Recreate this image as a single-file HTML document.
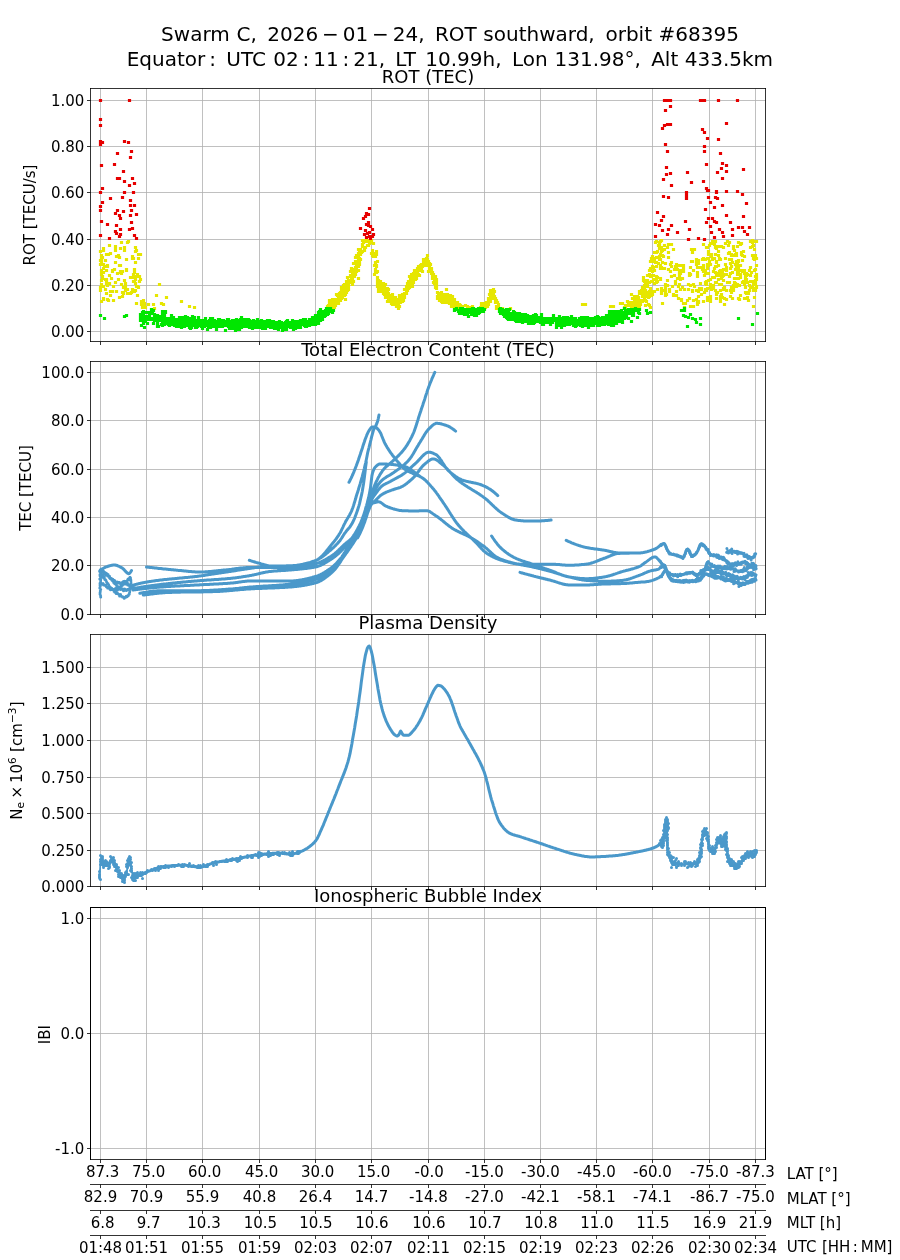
<!DOCTYPE html>
<html><head><meta charset="utf-8"><title>Swarm C ROT southward orbit 68395</title>
<style>html,body{margin:0;padding:0;background:#fff;width:900px;height:1260px;overflow:hidden}
svg{display:block}
</style></head><body>
<svg width="900" height="1260" viewBox="0 0 900 1260" version="1.1">
 
 <defs>
  <style type="text/css">*{stroke-linejoin: round; stroke-linecap: butt}</style>
 </defs>
 <g id="figure_1">
  <g id="patch_1">
   <path d="M 0 1260 
L 900 1260 
L 900 0 
L 0 0 
z
" style="fill: #ffffff"/>
  </g>
  <g id="axes_1">
   <g id="patch_2">
    <path d="M 90.5 341.5 
L 765.5 341.5 
L 765.5 88.5 
L 90.5 88.5 
z
" style="fill: #ffffff"/>
   </g>
   <g id="matplotlib.axis_1">
    <g id="xtick_1">
     <g id="line2d_1">
      <path d="M 100.5 341.5 
L 100.5 88.5 
" clip-path="url(#p79d56ae8b9)" style="fill: none; stroke: #b0b0b0; stroke-width: 0.8; stroke-linecap: square"/>
     </g>
     <g id="line2d_2">
      <defs>
       <path id="m1504cfccaf" d="M 0 0 
L 0 3.5 
" style="stroke: #000000; stroke-width: 0.8"/>
      </defs>
      <g>
       <use href="#m1504cfccaf" x="100.5" y="341.5" style="stroke: #000000; stroke-width: 0.8"/>
      </g>
     </g>
    </g>
    <g id="xtick_2">
     <g id="line2d_3">
      <path d="M 146.5 341.5 
L 146.5 88.5 
" clip-path="url(#p79d56ae8b9)" style="fill: none; stroke: #b0b0b0; stroke-width: 0.8; stroke-linecap: square"/>
     </g>
     <g id="line2d_4">
      <g>
       <use href="#m1504cfccaf" x="146.5" y="341.5" style="stroke: #000000; stroke-width: 0.8"/>
      </g>
     </g>
    </g>
    <g id="xtick_3">
     <g id="line2d_5">
      <path d="M 202.5 341.5 
L 202.5 88.5 
" clip-path="url(#p79d56ae8b9)" style="fill: none; stroke: #b0b0b0; stroke-width: 0.8; stroke-linecap: square"/>
     </g>
     <g id="line2d_6">
      <g>
       <use href="#m1504cfccaf" x="202.5" y="341.5" style="stroke: #000000; stroke-width: 0.8"/>
      </g>
     </g>
    </g>
    <g id="xtick_4">
     <g id="line2d_7">
      <path d="M 259.5 341.5 
L 259.5 88.5 
" clip-path="url(#p79d56ae8b9)" style="fill: none; stroke: #b0b0b0; stroke-width: 0.8; stroke-linecap: square"/>
     </g>
     <g id="line2d_8">
      <g>
       <use href="#m1504cfccaf" x="259.5" y="341.5" style="stroke: #000000; stroke-width: 0.8"/>
      </g>
     </g>
    </g>
    <g id="xtick_5">
     <g id="line2d_9">
      <path d="M 315.5 341.5 
L 315.5 88.5 
" clip-path="url(#p79d56ae8b9)" style="fill: none; stroke: #b0b0b0; stroke-width: 0.8; stroke-linecap: square"/>
     </g>
     <g id="line2d_10">
      <g>
       <use href="#m1504cfccaf" x="315.5" y="341.5" style="stroke: #000000; stroke-width: 0.8"/>
      </g>
     </g>
    </g>
    <g id="xtick_6">
     <g id="line2d_11">
      <path d="M 371.5 341.5 
L 371.5 88.5 
" clip-path="url(#p79d56ae8b9)" style="fill: none; stroke: #b0b0b0; stroke-width: 0.8; stroke-linecap: square"/>
     </g>
     <g id="line2d_12">
      <g>
       <use href="#m1504cfccaf" x="371.5" y="341.5" style="stroke: #000000; stroke-width: 0.8"/>
      </g>
     </g>
    </g>
    <g id="xtick_7">
     <g id="line2d_13">
      <path d="M 428.5 341.5 
L 428.5 88.5 
" clip-path="url(#p79d56ae8b9)" style="fill: none; stroke: #b0b0b0; stroke-width: 0.8; stroke-linecap: square"/>
     </g>
     <g id="line2d_14">
      <g>
       <use href="#m1504cfccaf" x="428.5" y="341.5" style="stroke: #000000; stroke-width: 0.8"/>
      </g>
     </g>
    </g>
    <g id="xtick_8">
     <g id="line2d_15">
      <path d="M 484.5 341.5 
L 484.5 88.5 
" clip-path="url(#p79d56ae8b9)" style="fill: none; stroke: #b0b0b0; stroke-width: 0.8; stroke-linecap: square"/>
     </g>
     <g id="line2d_16">
      <g>
       <use href="#m1504cfccaf" x="484.5" y="341.5" style="stroke: #000000; stroke-width: 0.8"/>
      </g>
     </g>
    </g>
    <g id="xtick_9">
     <g id="line2d_17">
      <path d="M 540.5 341.5 
L 540.5 88.5 
" clip-path="url(#p79d56ae8b9)" style="fill: none; stroke: #b0b0b0; stroke-width: 0.8; stroke-linecap: square"/>
     </g>
     <g id="line2d_18">
      <g>
       <use href="#m1504cfccaf" x="540.5" y="341.5" style="stroke: #000000; stroke-width: 0.8"/>
      </g>
     </g>
    </g>
    <g id="xtick_10">
     <g id="line2d_19">
      <path d="M 596.5 341.5 
L 596.5 88.5 
" clip-path="url(#p79d56ae8b9)" style="fill: none; stroke: #b0b0b0; stroke-width: 0.8; stroke-linecap: square"/>
     </g>
     <g id="line2d_20">
      <g>
       <use href="#m1504cfccaf" x="596.5" y="341.5" style="stroke: #000000; stroke-width: 0.8"/>
      </g>
     </g>
    </g>
    <g id="xtick_11">
     <g id="line2d_21">
      <path d="M 652.5 341.5 
L 652.5 88.5 
" clip-path="url(#p79d56ae8b9)" style="fill: none; stroke: #b0b0b0; stroke-width: 0.8; stroke-linecap: square"/>
     </g>
     <g id="line2d_22">
      <g>
       <use href="#m1504cfccaf" x="652.5" y="341.5" style="stroke: #000000; stroke-width: 0.8"/>
      </g>
     </g>
    </g>
    <g id="xtick_12">
     <g id="line2d_23">
      <path d="M 709.5 341.5 
L 709.5 88.5 
" clip-path="url(#p79d56ae8b9)" style="fill: none; stroke: #b0b0b0; stroke-width: 0.8; stroke-linecap: square"/>
     </g>
     <g id="line2d_24">
      <g>
       <use href="#m1504cfccaf" x="709.5" y="341.5" style="stroke: #000000; stroke-width: 0.8"/>
      </g>
     </g>
    </g>
    <g id="xtick_13">
     <g id="line2d_25">
      <path d="M 755.5 341.5 
L 755.5 88.5 
" clip-path="url(#p79d56ae8b9)" style="fill: none; stroke: #b0b0b0; stroke-width: 0.8; stroke-linecap: square"/>
     </g>
     <g id="line2d_26">
      <g>
       <use href="#m1504cfccaf" x="755.5" y="341.5" style="stroke: #000000; stroke-width: 0.8"/>
      </g>
     </g>
    </g>
   </g>
   <g id="matplotlib.axis_2">
    <g id="ytick_1">
     <g id="line2d_27">
      <path d="M 90.5 100.5 
L 765.5 100.5 
" clip-path="url(#p79d56ae8b9)" style="fill: none; stroke: #b0b0b0; stroke-width: 0.8; stroke-linecap: square"/>
     </g>
     <g id="line2d_28">
      <defs>
       <path id="m5d545ce8f8" d="M 0 0 
L -3.5 0 
" style="stroke: #000000; stroke-width: 0.8"/>
      </defs>
      <g>
       <use href="#m5d545ce8f8" x="90.5" y="100.5" style="stroke: #000000; stroke-width: 0.8"/>
      </g>
     </g>
     <g id="text_1">
      <text style="font-size: 15px; font-family: 'DejaVu Sans', 'Liberation Sans', sans-serif; text-anchor: end" x="84.3" y="106.198828" transform="rotate(-0 84.3 106.198828)">1.00</text>
     </g>
    </g>
    <g id="ytick_2">
     <g id="line2d_29">
      <path d="M 90.5 146.5 
L 765.5 146.5 
" clip-path="url(#p79d56ae8b9)" style="fill: none; stroke: #b0b0b0; stroke-width: 0.8; stroke-linecap: square"/>
     </g>
     <g id="line2d_30">
      <g>
       <use href="#m5d545ce8f8" x="90.5" y="146.5" style="stroke: #000000; stroke-width: 0.8"/>
      </g>
     </g>
     <g id="text_2">
      <text style="font-size: 15px; font-family: 'DejaVu Sans', 'Liberation Sans', sans-serif; text-anchor: end" x="84.3" y="152.198828" transform="rotate(-0 84.3 152.198828)">0.80</text>
     </g>
    </g>
    <g id="ytick_3">
     <g id="line2d_31">
      <path d="M 90.5 192.5 
L 765.5 192.5 
" clip-path="url(#p79d56ae8b9)" style="fill: none; stroke: #b0b0b0; stroke-width: 0.8; stroke-linecap: square"/>
     </g>
     <g id="line2d_32">
      <g>
       <use href="#m5d545ce8f8" x="90.5" y="192.5" style="stroke: #000000; stroke-width: 0.8"/>
      </g>
     </g>
     <g id="text_3">
      <text style="font-size: 15px; font-family: 'DejaVu Sans', 'Liberation Sans', sans-serif; text-anchor: end" x="84.3" y="198.198828" transform="rotate(-0 84.3 198.198828)">0.60</text>
     </g>
    </g>
    <g id="ytick_4">
     <g id="line2d_33">
      <path d="M 90.5 239.5 
L 765.5 239.5 
" clip-path="url(#p79d56ae8b9)" style="fill: none; stroke: #b0b0b0; stroke-width: 0.8; stroke-linecap: square"/>
     </g>
     <g id="line2d_34">
      <g>
       <use href="#m5d545ce8f8" x="90.5" y="239.5" style="stroke: #000000; stroke-width: 0.8"/>
      </g>
     </g>
     <g id="text_4">
      <text style="font-size: 15px; font-family: 'DejaVu Sans', 'Liberation Sans', sans-serif; text-anchor: end" x="84.3" y="245.198828" transform="rotate(-0 84.3 245.198828)">0.40</text>
     </g>
    </g>
    <g id="ytick_5">
     <g id="line2d_35">
      <path d="M 90.5 285.5 
L 765.5 285.5 
" clip-path="url(#p79d56ae8b9)" style="fill: none; stroke: #b0b0b0; stroke-width: 0.8; stroke-linecap: square"/>
     </g>
     <g id="line2d_36">
      <g>
       <use href="#m5d545ce8f8" x="90.5" y="285.5" style="stroke: #000000; stroke-width: 0.8"/>
      </g>
     </g>
     <g id="text_5">
      <text style="font-size: 15px; font-family: 'DejaVu Sans', 'Liberation Sans', sans-serif; text-anchor: end" x="84.3" y="291.198828" transform="rotate(-0 84.3 291.198828)">0.20</text>
     </g>
    </g>
    <g id="ytick_6">
     <g id="line2d_37">
      <path d="M 90.5 331.5 
L 765.5 331.5 
" clip-path="url(#p79d56ae8b9)" style="fill: none; stroke: #b0b0b0; stroke-width: 0.8; stroke-linecap: square"/>
     </g>
     <g id="line2d_38">
      <g>
       <use href="#m5d545ce8f8" x="90.5" y="331.5" style="stroke: #000000; stroke-width: 0.8"/>
      </g>
     </g>
     <g id="text_6">
      <text style="font-size: 15px; font-family: 'DejaVu Sans', 'Liberation Sans', sans-serif; text-anchor: end" x="84.3" y="337.198828" transform="rotate(-0 84.3 337.198828)">0.00</text>
     </g>
    </g>
    <g id="text_7">
     <text style="font-size: 15px; font-family: 'DejaVu Sans', 'Liberation Sans', sans-serif; text-anchor: middle" x="34.782031" y="215" transform="rotate(-90 34.782031 215)">ROT [TECU/s]</text>
    </g>
   </g>
   <g id="rotdata">
<path d="M125.5 290.5h0M136.5 286.5h0M131.5 292.5h0M109.5 283.5h0M112.5 271.5h0M135.5 251.5h0M100.5 290.5h0M133.5 258.5h0M132.5 289.5h0M119.5 265.5h0M112.5 270.5h0M111.5 278.5h0M110.5 253.5h0M118.5 279.5h0M120.5 248.5h0M122.5 292.5h0M140.5 279.5h0M132.5 256.5h0M125.5 283.5h0M140.5 279.5h0M108.5 283.5h0M106.5 293.5h0M125.5 286.5h0M101.5 280.5h0M101.5 274.5h0M121.5 242.5h0M119.5 297.5h0M137.5 274.5h0M125.5 289.5h0M121.5 273.5h0M120.5 271.5h0M110.5 291.5h0M100.5 251.5h0M107.5 265.5h0M128.5 241.5h0M108.5 300.5h0M115.5 246.5h0M100.5 260.5h0M134.5 281.5h0M106.5 283.5h0M110.5 295.5h0M136.5 250.5h0M120.5 272.5h0M134.5 269.5h0M126.5 259.5h0M130.5 293.5h0M103.5 268.5h0M122.5 292.5h0M120.5 265.5h0M135.5 262.5h0M114.5 269.5h0M124.5 250.5h0M102.5 278.5h0M115.5 282.5h0M113.5 300.5h0M106.5 282.5h0M133.5 281.5h0M115.5 262.5h0M140.5 254.5h0M124.5 247.5h0M124.5 280.5h0M126.5 269.5h0M127.5 293.5h0M106.5 279.5h0M118.5 255.5h0M109.5 245.5h0M116.5 256.5h0M103.5 299.5h0M139.5 281.5h0M108.5 254.5h0M127.5 289.5h0M112.5 291.5h0M135.5 247.5h0M127.5 242.5h0M105.5 260.5h0M134.5 291.5h0M138.5 254.5h0M137.5 274.5h0M123.5 287.5h0M105.5 279.5h0M107.5 299.5h0M138.5 258.5h0M122.5 271.5h0M107.5 285.5h0M136.5 250.5h0M126.5 259.5h0M123.5 293.5h0M115.5 250.5h0M116.5 291.5h0M109.5 275.5h0M101.5 255.5h0M135.5 279.5h0M119.5 257.5h0M122.5 296.5h0M113.5 286.5h0M130.5 277.5h0M101.5 301.5h0M115.5 247.5h0M101.5 274.5h0M105.5 289.5h0M139.5 276.5h0M126.5 270.5h0M117.5 273.5h0M121.5 284.5h0M135.5 276.5h0M103.5 272.5h0M101.5 261.5h0M103.5 264.5h0M105.5 266.5h0M101.5 286.5h0M101.5 262.5h0M101.5 255.5h0M102.5 257.5h0M107.5 266.5h0M100.5 287.5h0M101.5 258.5h0M101.5 270.5h0M103.5 298.5h0M100.5 264.5h0M103.5 286.5h0M101.5 284.5h0M102.5 276.5h0M106.5 254.5h0M101.5 273.5h0M104.5 266.5h0M103.5 248.5h0M103.5 250.5h0M106.5 270.5h0M101.5 271.5h0M107.5 283.5h0M141.5 301.5h0M137.5 295.5h0M143.5 305.5h0M142.5 301.5h0M136.5 303.5h0M133.5 276.5h0M133.5 274.5h0M134.5 276.5h0M136.5 276.5h0M138.5 287.5h0M144.5 305.5h0M135.5 283.5h0M144.5 303.5h0M141.5 304.5h0M143.5 306.5h0M137.5 286.5h0M132.5 258.5h0M143.5 305.5h0M135.5 283.5h0M133.5 277.5h0M143.5 300.5h0M141.5 302.5h0M134.5 272.5h0M135.5 290.5h0M145.5 307.5h0M154.5 308.5h0M142.5 307.5h0M148.5 304.5h0M145.5 307.5h0M153.5 304.5h0M328.5 308.5h0M328.5 306.5h0M327.5 306.5h0M329.5 300.5h0M329.5 302.5h0M328.5 305.5h0M329.5 305.5h0M346.5 283.5h0M357.5 263.5h0M363.5 240.5h0M346.5 292.5h0M348.5 289.5h0M356.5 263.5h0M334.5 307.5h0M352.5 278.5h0M333.5 304.5h0M339.5 299.5h0M356.5 271.5h0M370.5 240.5h0M371.5 253.5h0M340.5 292.5h0M336.5 294.5h0M351.5 277.5h0M348.5 283.5h0M345.5 284.5h0M362.5 240.5h0M359.5 264.5h0M353.5 273.5h0M356.5 269.5h0M354.5 269.5h0M358.5 260.5h0M368.5 240.5h0M369.5 240.5h0M371.5 240.5h0M366.5 241.5h0M334.5 305.5h0M348.5 283.5h0M362.5 246.5h0M342.5 297.5h0M355.5 261.5h0M332.5 306.5h0M338.5 303.5h0M346.5 281.5h0M332.5 307.5h0M347.5 282.5h0M339.5 297.5h0M366.5 240.5h0M343.5 291.5h0M345.5 289.5h0M363.5 242.5h0M353.5 263.5h0M339.5 297.5h0M355.5 267.5h0M338.5 302.5h0M340.5 300.5h0M356.5 255.5h0M350.5 281.5h0M341.5 287.5h0M353.5 271.5h0M356.5 266.5h0M331.5 305.5h0M341.5 292.5h0M342.5 288.5h0M366.5 240.5h0M332.5 305.5h0M344.5 289.5h0M338.5 294.5h0M359.5 252.5h0M364.5 249.5h0M332.5 307.5h0M366.5 240.5h0M359.5 262.5h0M339.5 299.5h0M368.5 240.5h0M342.5 294.5h0M363.5 241.5h0M333.5 302.5h0M349.5 282.5h0M351.5 268.5h0M367.5 240.5h0M365.5 240.5h0M352.5 270.5h0M332.5 304.5h0M348.5 286.5h0M345.5 299.5h0M371.5 240.5h0M358.5 259.5h0M347.5 277.5h0M345.5 294.5h0M362.5 240.5h0M334.5 304.5h0M364.5 240.5h0M358.5 278.5h0M348.5 283.5h0M359.5 258.5h0M346.5 283.5h0M336.5 301.5h0M347.5 289.5h0M332.5 303.5h0M333.5 302.5h0M348.5 280.5h0M364.5 240.5h0M338.5 295.5h0M351.5 278.5h0M371.5 242.5h0M364.5 250.5h0M367.5 240.5h0M358.5 256.5h0M354.5 271.5h0M354.5 275.5h0M355.5 270.5h0M349.5 281.5h0M345.5 290.5h0M340.5 299.5h0M332.5 299.5h0M345.5 287.5h0M362.5 251.5h0M353.5 281.5h0M336.5 303.5h0M364.5 240.5h0M331.5 304.5h0M369.5 240.5h0M357.5 264.5h0M353.5 276.5h0M347.5 290.5h0M364.5 240.5h0M330.5 307.5h0M330.5 300.5h0M351.5 281.5h0M342.5 293.5h0M346.5 282.5h0M352.5 277.5h0M371.5 240.5h0M358.5 260.5h0M334.5 303.5h0M361.5 252.5h0M352.5 271.5h0M358.5 253.5h0M360.5 249.5h0M371.5 240.5h0M334.5 303.5h0M371.5 240.5h0M350.5 276.5h0M338.5 298.5h0M345.5 286.5h0M345.5 290.5h0M367.5 245.5h0M352.5 282.5h0M332.5 303.5h0M360.5 252.5h0M350.5 271.5h0M364.5 240.5h0M331.5 304.5h0M366.5 240.5h0M367.5 240.5h0M350.5 281.5h0M335.5 302.5h0M352.5 281.5h0M333.5 303.5h0M367.5 240.5h0M337.5 301.5h0M358.5 249.5h0M357.5 266.5h0M343.5 292.5h0M339.5 298.5h0M368.5 240.5h0M331.5 305.5h0M340.5 295.5h0M343.5 285.5h0M354.5 269.5h0M345.5 286.5h0M334.5 304.5h0M353.5 281.5h0M360.5 254.5h0M359.5 262.5h0M350.5 275.5h0M342.5 292.5h0M330.5 303.5h0M352.5 272.5h0M356.5 263.5h0M348.5 282.5h0M370.5 240.5h0M338.5 296.5h0M364.5 240.5h0M360.5 259.5h0M367.5 240.5h0M368.5 240.5h0M339.5 297.5h0M368.5 240.5h0M346.5 288.5h0M358.5 270.5h0M370.5 240.5h0M355.5 271.5h0M354.5 270.5h0M332.5 300.5h0M355.5 257.5h0M340.5 299.5h0M346.5 282.5h0M345.5 285.5h0M370.5 240.5h0M356.5 264.5h0M360.5 253.5h0M337.5 295.5h0M342.5 290.5h0M366.5 240.5h0M335.5 299.5h0M370.5 240.5h0M347.5 282.5h0M346.5 285.5h0M351.5 269.5h0M348.5 280.5h0M349.5 281.5h0M347.5 288.5h0M359.5 259.5h0M341.5 298.5h0M336.5 300.5h0M348.5 282.5h0M348.5 282.5h0M350.5 276.5h0M362.5 244.5h0M334.5 306.5h0M346.5 281.5h0M362.5 251.5h0M344.5 295.5h0M365.5 247.5h0M360.5 254.5h0M331.5 303.5h0M346.5 282.5h0M362.5 246.5h0M352.5 282.5h0M358.5 266.5h0M371.5 240.5h0M358.5 262.5h0M352.5 284.5h0M365.5 240.5h0M348.5 281.5h0M341.5 293.5h0M354.5 276.5h0M369.5 243.5h0M355.5 274.5h0M341.5 290.5h0M371.5 240.5h0M346.5 288.5h0M339.5 293.5h0M353.5 276.5h0M344.5 284.5h0M334.5 302.5h0M359.5 258.5h0M359.5 253.5h0M370.5 240.5h0M335.5 305.5h0M368.5 245.5h0M363.5 241.5h0M340.5 296.5h0M376.5 254.5h0M377.5 261.5h0M375.5 256.5h0M375.5 272.5h0M373.5 253.5h0M373.5 255.5h0M376.5 251.5h0M376.5 265.5h0M373.5 243.5h0M372.5 250.5h0M374.5 274.5h0M375.5 269.5h0M374.5 265.5h0M377.5 271.5h0M376.5 266.5h0M377.5 280.5h0M375.5 264.5h0M376.5 251.5h0M377.5 283.5h0M372.5 255.5h0M375.5 262.5h0M373.5 256.5h0M376.5 272.5h0M373.5 243.5h0M436.5 283.5h0M436.5 286.5h0M407.5 285.5h0M399.5 296.5h0M420.5 270.5h0M435.5 276.5h0M414.5 277.5h0M378.5 280.5h0M379.5 287.5h0M404.5 297.5h0M424.5 261.5h0M430.5 264.5h0M399.5 295.5h0M408.5 281.5h0M407.5 285.5h0M382.5 290.5h0M377.5 282.5h0M408.5 286.5h0M407.5 290.5h0M428.5 264.5h0M387.5 301.5h0M428.5 261.5h0M393.5 300.5h0M409.5 276.5h0M419.5 267.5h0M385.5 293.5h0M433.5 276.5h0M434.5 283.5h0M435.5 283.5h0M377.5 286.5h0M415.5 271.5h0M417.5 271.5h0M429.5 269.5h0M389.5 296.5h0M384.5 288.5h0M425.5 260.5h0M392.5 298.5h0M380.5 291.5h0M382.5 291.5h0M415.5 275.5h0M409.5 281.5h0M421.5 268.5h0M425.5 264.5h0M377.5 277.5h0M432.5 278.5h0M429.5 263.5h0M432.5 275.5h0M423.5 261.5h0M400.5 296.5h0M391.5 297.5h0M431.5 270.5h0M402.5 300.5h0M406.5 292.5h0M418.5 268.5h0M418.5 266.5h0M418.5 266.5h0M414.5 270.5h0M407.5 286.5h0M423.5 263.5h0M400.5 297.5h0M392.5 299.5h0M431.5 271.5h0M427.5 264.5h0M420.5 265.5h0M387.5 296.5h0M379.5 285.5h0M432.5 278.5h0M433.5 274.5h0M393.5 303.5h0M414.5 274.5h0M378.5 288.5h0M400.5 301.5h0M419.5 266.5h0M398.5 304.5h0M425.5 261.5h0M431.5 273.5h0M385.5 297.5h0M418.5 270.5h0M399.5 300.5h0M387.5 296.5h0M397.5 301.5h0M405.5 293.5h0M430.5 271.5h0M422.5 264.5h0M377.5 283.5h0M380.5 281.5h0M436.5 288.5h0M410.5 280.5h0M413.5 275.5h0M398.5 308.5h0M426.5 265.5h0M410.5 280.5h0M412.5 280.5h0M391.5 298.5h0M423.5 260.5h0M389.5 297.5h0M385.5 294.5h0M412.5 286.5h0M426.5 260.5h0M394.5 303.5h0M395.5 300.5h0M385.5 291.5h0M413.5 282.5h0M423.5 259.5h0M384.5 288.5h0M409.5 282.5h0M409.5 287.5h0M383.5 291.5h0M408.5 286.5h0M393.5 301.5h0M388.5 298.5h0M436.5 282.5h0M382.5 289.5h0M397.5 301.5h0M414.5 278.5h0M401.5 295.5h0M378.5 283.5h0M428.5 271.5h0M391.5 300.5h0M401.5 298.5h0M431.5 268.5h0M435.5 282.5h0M431.5 273.5h0M401.5 300.5h0M421.5 264.5h0M427.5 263.5h0M388.5 297.5h0M435.5 283.5h0M383.5 288.5h0M416.5 275.5h0M391.5 303.5h0M389.5 295.5h0M385.5 293.5h0M433.5 276.5h0M384.5 290.5h0M431.5 268.5h0M386.5 290.5h0M396.5 303.5h0M389.5 297.5h0M436.5 287.5h0M382.5 285.5h0M428.5 262.5h0M395.5 297.5h0M434.5 279.5h0M422.5 271.5h0M392.5 295.5h0M407.5 287.5h0M386.5 292.5h0M401.5 298.5h0M378.5 283.5h0M417.5 270.5h0M412.5 283.5h0M393.5 297.5h0M377.5 284.5h0M433.5 278.5h0M384.5 286.5h0M396.5 299.5h0M378.5 285.5h0M399.5 306.5h0M401.5 299.5h0M409.5 283.5h0M396.5 302.5h0M391.5 302.5h0M424.5 265.5h0M393.5 304.5h0M396.5 301.5h0M406.5 287.5h0M393.5 297.5h0M420.5 269.5h0M382.5 288.5h0M396.5 300.5h0M402.5 299.5h0M392.5 299.5h0M427.5 255.5h0M398.5 302.5h0M402.5 295.5h0M405.5 293.5h0M426.5 260.5h0M390.5 301.5h0M426.5 261.5h0M433.5 275.5h0M392.5 294.5h0M387.5 290.5h0M424.5 260.5h0M395.5 301.5h0M390.5 299.5h0M381.5 289.5h0M413.5 276.5h0M433.5 278.5h0M429.5 263.5h0M412.5 282.5h0M403.5 300.5h0M435.5 285.5h0M416.5 278.5h0M434.5 283.5h0M418.5 268.5h0M418.5 270.5h0M419.5 269.5h0M384.5 287.5h0M392.5 295.5h0M380.5 290.5h0M432.5 272.5h0M436.5 283.5h0M413.5 278.5h0M386.5 291.5h0M384.5 294.5h0M403.5 297.5h0M400.5 300.5h0M388.5 293.5h0M382.5 290.5h0M415.5 275.5h0M424.5 259.5h0M380.5 284.5h0M395.5 299.5h0M395.5 297.5h0M409.5 284.5h0M413.5 279.5h0M401.5 297.5h0M428.5 264.5h0M400.5 302.5h0M395.5 297.5h0M423.5 265.5h0M427.5 264.5h0M429.5 264.5h0M387.5 288.5h0M388.5 295.5h0M404.5 289.5h0M435.5 282.5h0M414.5 278.5h0M414.5 278.5h0M396.5 302.5h0M436.5 279.5h0M387.5 297.5h0M410.5 277.5h0M417.5 275.5h0M425.5 262.5h0M425.5 259.5h0M400.5 299.5h0M393.5 299.5h0M435.5 287.5h0M410.5 281.5h0M393.5 303.5h0M385.5 284.5h0M425.5 262.5h0M427.5 261.5h0M411.5 284.5h0M400.5 302.5h0M416.5 277.5h0M435.5 280.5h0M411.5 281.5h0M424.5 261.5h0M429.5 268.5h0M422.5 266.5h0M406.5 286.5h0M387.5 296.5h0M418.5 275.5h0M426.5 259.5h0M434.5 283.5h0M386.5 293.5h0M383.5 288.5h0M415.5 278.5h0M426.5 258.5h0M381.5 291.5h0M413.5 273.5h0M392.5 296.5h0M436.5 286.5h0M398.5 303.5h0M381.5 291.5h0M423.5 262.5h0M395.5 298.5h0M402.5 301.5h0M384.5 288.5h0M396.5 306.5h0M384.5 293.5h0M392.5 304.5h0M411.5 274.5h0M394.5 301.5h0M417.5 272.5h0M431.5 271.5h0M411.5 277.5h0M378.5 291.5h0M434.5 280.5h0M388.5 289.5h0M397.5 303.5h0M408.5 285.5h0M414.5 275.5h0M397.5 304.5h0M403.5 295.5h0M414.5 274.5h0M404.5 293.5h0M394.5 299.5h0M401.5 299.5h0M400.5 300.5h0M394.5 300.5h0M413.5 274.5h0M407.5 285.5h0M401.5 299.5h0M419.5 275.5h0M425.5 259.5h0M415.5 272.5h0M397.5 305.5h0M433.5 282.5h0M383.5 293.5h0M425.5 259.5h0M402.5 300.5h0M400.5 301.5h0M427.5 260.5h0M416.5 271.5h0M435.5 282.5h0M429.5 266.5h0M383.5 292.5h0M407.5 283.5h0M423.5 261.5h0M381.5 289.5h0M409.5 287.5h0M436.5 286.5h0M391.5 296.5h0M384.5 292.5h0M394.5 298.5h0M397.5 301.5h0M394.5 300.5h0M402.5 294.5h0M427.5 259.5h0M408.5 288.5h0M412.5 280.5h0M383.5 283.5h0M380.5 291.5h0M434.5 280.5h0M397.5 299.5h0M433.5 278.5h0M397.5 304.5h0M415.5 279.5h0M416.5 272.5h0M382.5 286.5h0M381.5 285.5h0M403.5 295.5h0M384.5 288.5h0M394.5 304.5h0M388.5 295.5h0M395.5 303.5h0M404.5 293.5h0M395.5 299.5h0M397.5 299.5h0M406.5 293.5h0M417.5 268.5h0M379.5 288.5h0M436.5 287.5h0M402.5 296.5h0M432.5 278.5h0M377.5 281.5h0M380.5 287.5h0M382.5 290.5h0M431.5 270.5h0M401.5 299.5h0M427.5 261.5h0M418.5 274.5h0M382.5 289.5h0M398.5 304.5h0M396.5 303.5h0M404.5 294.5h0M445.5 296.5h0M482.5 306.5h0M455.5 307.5h0M447.5 298.5h0M487.5 306.5h0M444.5 294.5h0M455.5 303.5h0M455.5 305.5h0M496.5 306.5h0M448.5 299.5h0M485.5 307.5h0M439.5 295.5h0M486.5 302.5h0M440.5 300.5h0M493.5 292.5h0M453.5 303.5h0M446.5 302.5h0M441.5 299.5h0M453.5 303.5h0M444.5 294.5h0M480.5 307.5h0M480.5 307.5h0M453.5 301.5h0M494.5 296.5h0M437.5 297.5h0M457.5 302.5h0M448.5 299.5h0M490.5 297.5h0M467.5 306.5h0M440.5 294.5h0M454.5 299.5h0M454.5 303.5h0M439.5 297.5h0M456.5 305.5h0M490.5 291.5h0M480.5 308.5h0M493.5 289.5h0M488.5 303.5h0M457.5 308.5h0M472.5 306.5h0M453.5 304.5h0M449.5 301.5h0M449.5 300.5h0M443.5 300.5h0M452.5 306.5h0M451.5 298.5h0M452.5 303.5h0M439.5 298.5h0M449.5 302.5h0M450.5 295.5h0M448.5 297.5h0M491.5 293.5h0M441.5 297.5h0M438.5 297.5h0M490.5 298.5h0M480.5 308.5h0M489.5 300.5h0M449.5 300.5h0M486.5 302.5h0M438.5 296.5h0M459.5 308.5h0M445.5 302.5h0M451.5 301.5h0M455.5 303.5h0M461.5 306.5h0M496.5 302.5h0M437.5 292.5h0M496.5 301.5h0M439.5 293.5h0M441.5 297.5h0M449.5 303.5h0M455.5 307.5h0M491.5 292.5h0M489.5 294.5h0M495.5 302.5h0M437.5 296.5h0M493.5 294.5h0M443.5 294.5h0M489.5 294.5h0M437.5 297.5h0M483.5 303.5h0M494.5 296.5h0M492.5 298.5h0M439.5 294.5h0M452.5 296.5h0M441.5 296.5h0M462.5 306.5h0M437.5 297.5h0M493.5 297.5h0M440.5 295.5h0M496.5 300.5h0M450.5 300.5h0M498.5 304.5h0M460.5 305.5h0M492.5 293.5h0M445.5 299.5h0M450.5 301.5h0M440.5 299.5h0M490.5 294.5h0M492.5 291.5h0M454.5 304.5h0M455.5 307.5h0M451.5 299.5h0M459.5 304.5h0M447.5 297.5h0M451.5 306.5h0M454.5 302.5h0M444.5 297.5h0M493.5 290.5h0M452.5 298.5h0M487.5 303.5h0M462.5 307.5h0M445.5 296.5h0M493.5 290.5h0M481.5 303.5h0M438.5 296.5h0M480.5 308.5h0M451.5 305.5h0M447.5 299.5h0M489.5 299.5h0M447.5 294.5h0M448.5 300.5h0M446.5 297.5h0M491.5 295.5h0M481.5 304.5h0M458.5 307.5h0M489.5 301.5h0M445.5 299.5h0M491.5 291.5h0M492.5 296.5h0M450.5 297.5h0M494.5 297.5h0M451.5 302.5h0M442.5 300.5h0M487.5 305.5h0M490.5 301.5h0M461.5 306.5h0M488.5 301.5h0M444.5 296.5h0M454.5 301.5h0M444.5 298.5h0M483.5 308.5h0M452.5 302.5h0M483.5 308.5h0M441.5 295.5h0M457.5 304.5h0M491.5 293.5h0M490.5 290.5h0M491.5 296.5h0M451.5 301.5h0M472.5 308.5h0M442.5 298.5h0M453.5 301.5h0M460.5 306.5h0M442.5 299.5h0M441.5 300.5h0M486.5 306.5h0M437.5 298.5h0M493.5 293.5h0M486.5 305.5h0M437.5 297.5h0M444.5 296.5h0M457.5 307.5h0M448.5 302.5h0M440.5 300.5h0M494.5 297.5h0M494.5 291.5h0M485.5 304.5h0M452.5 303.5h0M490.5 293.5h0M488.5 303.5h0M457.5 304.5h0M445.5 299.5h0M445.5 296.5h0M489.5 299.5h0M441.5 296.5h0M459.5 308.5h0M493.5 289.5h0M446.5 289.5h0M457.5 306.5h0M488.5 298.5h0M488.5 304.5h0M490.5 298.5h0M455.5 304.5h0M454.5 306.5h0M444.5 294.5h0M453.5 299.5h0M444.5 299.5h0M486.5 306.5h0M439.5 300.5h0M449.5 303.5h0M486.5 304.5h0M485.5 305.5h0M498.5 305.5h0M439.5 298.5h0M487.5 302.5h0M455.5 307.5h0M485.5 306.5h0M438.5 293.5h0M439.5 294.5h0M470.5 307.5h0M445.5 299.5h0M441.5 296.5h0M459.5 305.5h0M452.5 300.5h0M448.5 300.5h0M465.5 305.5h0M453.5 303.5h0M495.5 300.5h0M496.5 300.5h0M439.5 295.5h0M451.5 301.5h0M438.5 298.5h0M442.5 300.5h0M439.5 300.5h0M444.5 299.5h0M441.5 296.5h0M492.5 290.5h0M487.5 304.5h0M453.5 305.5h0M480.5 307.5h0M496.5 308.5h0M444.5 302.5h0M456.5 303.5h0M455.5 305.5h0M442.5 300.5h0M449.5 298.5h0M495.5 301.5h0M495.5 298.5h0M451.5 303.5h0M460.5 307.5h0M442.5 302.5h0M492.5 295.5h0M497.5 302.5h0M454.5 305.5h0M445.5 296.5h0M456.5 306.5h0M457.5 308.5h0M448.5 298.5h0M453.5 302.5h0M455.5 302.5h0M491.5 292.5h0M488.5 301.5h0M440.5 297.5h0M448.5 302.5h0M497.5 306.5h0M440.5 294.5h0M441.5 301.5h0M455.5 304.5h0M449.5 300.5h0M448.5 296.5h0M490.5 296.5h0M441.5 292.5h0M451.5 299.5h0M439.5 297.5h0M510.5 308.5h0M502.5 308.5h0M649.5 296.5h0M637.5 306.5h0M642.5 291.5h0M636.5 297.5h0M649.5 305.5h0M654.5 252.5h0M646.5 301.5h0M647.5 283.5h0M630.5 305.5h0M649.5 274.5h0M637.5 301.5h0M628.5 302.5h0M650.5 307.5h0M643.5 277.5h0M647.5 286.5h0M646.5 285.5h0M652.5 260.5h0M645.5 284.5h0M637.5 296.5h0M640.5 304.5h0M650.5 268.5h0M645.5 294.5h0M624.5 307.5h0M650.5 269.5h0M635.5 297.5h0M625.5 305.5h0M652.5 275.5h0M650.5 288.5h0M637.5 300.5h0M638.5 304.5h0M644.5 281.5h0M631.5 294.5h0M635.5 298.5h0M642.5 301.5h0M648.5 304.5h0M638.5 300.5h0M634.5 301.5h0M649.5 294.5h0M651.5 295.5h0M654.5 291.5h0M642.5 294.5h0M653.5 259.5h0M633.5 306.5h0M639.5 291.5h0M636.5 305.5h0M620.5 303.5h0M654.5 260.5h0M644.5 293.5h0M641.5 290.5h0M633.5 306.5h0M644.5 295.5h0M630.5 305.5h0M652.5 271.5h0M635.5 296.5h0M638.5 305.5h0M633.5 303.5h0M644.5 298.5h0M639.5 306.5h0M647.5 295.5h0M652.5 294.5h0M652.5 256.5h0M645.5 290.5h0M633.5 304.5h0M650.5 261.5h0M628.5 304.5h0M635.5 302.5h0M650.5 276.5h0M652.5 293.5h0M653.5 275.5h0M634.5 296.5h0M652.5 291.5h0M650.5 290.5h0M625.5 307.5h0M638.5 303.5h0M639.5 302.5h0M638.5 297.5h0M637.5 302.5h0M649.5 294.5h0M647.5 275.5h0M645.5 291.5h0M652.5 266.5h0M642.5 290.5h0M654.5 283.5h0M635.5 302.5h0M652.5 261.5h0M649.5 282.5h0M627.5 301.5h0M635.5 303.5h0M634.5 306.5h0M643.5 280.5h0M646.5 296.5h0M638.5 303.5h0M646.5 280.5h0M647.5 285.5h0M642.5 296.5h0M641.5 293.5h0M631.5 306.5h0M648.5 297.5h0M651.5 258.5h0M649.5 270.5h0M644.5 285.5h0M644.5 296.5h0M633.5 303.5h0M633.5 305.5h0M628.5 305.5h0M635.5 300.5h0M650.5 291.5h0M645.5 305.5h0M642.5 292.5h0M642.5 292.5h0M641.5 300.5h0M632.5 302.5h0M653.5 279.5h0M651.5 276.5h0M649.5 291.5h0M654.5 258.5h0M638.5 304.5h0M646.5 280.5h0M650.5 294.5h0M652.5 281.5h0M635.5 304.5h0M638.5 298.5h0M639.5 293.5h0M647.5 292.5h0M632.5 298.5h0M635.5 306.5h0M647.5 280.5h0M636.5 303.5h0M644.5 287.5h0M632.5 306.5h0M645.5 300.5h0M654.5 270.5h0M651.5 281.5h0M642.5 287.5h0M630.5 302.5h0M653.5 267.5h0M638.5 300.5h0M657.5 251.5h0M662.5 255.5h0M656.5 266.5h0M660.5 267.5h0M660.5 279.5h0M655.5 242.5h0M656.5 279.5h0M661.5 288.5h0M662.5 268.5h0M658.5 245.5h0M659.5 244.5h0M661.5 267.5h0M660.5 278.5h0M659.5 256.5h0M660.5 268.5h0M661.5 251.5h0M662.5 250.5h0M660.5 259.5h0M660.5 241.5h0M656.5 262.5h0M656.5 241.5h0M662.5 262.5h0M657.5 289.5h0M658.5 263.5h0M662.5 255.5h0M656.5 276.5h0M661.5 293.5h0M657.5 281.5h0M660.5 254.5h0M662.5 290.5h0M662.5 303.5h0M661.5 247.5h0M659.5 242.5h0M659.5 248.5h0M656.5 252.5h0M656.5 257.5h0M661.5 268.5h0M655.5 262.5h0M663.5 256.5h0M656.5 282.5h0M661.5 290.5h0M659.5 259.5h0M660.5 265.5h0M661.5 240.5h0M657.5 277.5h0M668.5 252.5h0M665.5 284.5h0M664.5 245.5h0M665.5 263.5h0M671.5 276.5h0M675.5 283.5h0M665.5 291.5h0M665.5 295.5h0M672.5 286.5h0M667.5 280.5h0M664.5 268.5h0M674.5 275.5h0M665.5 294.5h0M669.5 289.5h0M673.5 295.5h0M673.5 294.5h0M675.5 281.5h0M671.5 262.5h0M665.5 288.5h0M664.5 249.5h0M671.5 244.5h0M670.5 264.5h0M666.5 294.5h0M665.5 287.5h0M668.5 269.5h0M667.5 247.5h0M668.5 244.5h0M668.5 257.5h0M673.5 249.5h0M669.5 291.5h0M674.5 269.5h0M670.5 271.5h0M667.5 285.5h0M675.5 266.5h0M671.5 266.5h0M689.5 275.5h0M676.5 291.5h0M680.5 273.5h0M678.5 286.5h0M679.5 271.5h0M680.5 289.5h0M681.5 300.5h0M689.5 273.5h0M680.5 270.5h0M682.5 287.5h0M678.5 265.5h0M679.5 277.5h0M679.5 265.5h0M683.5 303.5h0M680.5 265.5h0M679.5 274.5h0M683.5 265.5h0M676.5 295.5h0M688.5 284.5h0M676.5 267.5h0M681.5 278.5h0M689.5 298.5h0M678.5 298.5h0M676.5 264.5h0M682.5 278.5h0M681.5 299.5h0M679.5 284.5h0M685.5 303.5h0M684.5 289.5h0M680.5 279.5h0M687.5 300.5h0M683.5 268.5h0M684.5 307.5h0M683.5 271.5h0M677.5 278.5h0M688.5 289.5h0M677.5 269.5h0M692.5 261.5h0M690.5 285.5h0M699.5 288.5h0M697.5 275.5h0M694.5 249.5h0M696.5 264.5h0M690.5 267.5h0M693.5 300.5h0M696.5 259.5h0M700.5 283.5h0M693.5 270.5h0M690.5 274.5h0M691.5 261.5h0M693.5 306.5h0M697.5 302.5h0M698.5 291.5h0M698.5 296.5h0M700.5 267.5h0M698.5 301.5h0M698.5 302.5h0M697.5 276.5h0M697.5 304.5h0M698.5 260.5h0M701.5 288.5h0M692.5 290.5h0M697.5 272.5h0M691.5 249.5h0M692.5 291.5h0M701.5 294.5h0M694.5 286.5h0M696.5 261.5h0M692.5 252.5h0M696.5 299.5h0M690.5 306.5h0M696.5 290.5h0M701.5 289.5h0M698.5 263.5h0M697.5 267.5h0M696.5 263.5h0M693.5 284.5h0M725.5 264.5h0M753.5 245.5h0M704.5 292.5h0M703.5 258.5h0M702.5 259.5h0M746.5 279.5h0M730.5 268.5h0M740.5 244.5h0M737.5 272.5h0M746.5 273.5h0M731.5 266.5h0M720.5 299.5h0M708.5 251.5h0M724.5 298.5h0M712.5 241.5h0M752.5 242.5h0M743.5 251.5h0M717.5 246.5h0M730.5 263.5h0M727.5 282.5h0M735.5 264.5h0M754.5 259.5h0M717.5 292.5h0M735.5 254.5h0M729.5 282.5h0M754.5 270.5h0M713.5 285.5h0M737.5 284.5h0M706.5 247.5h0M731.5 254.5h0M754.5 297.5h0M741.5 254.5h0M703.5 244.5h0M756.5 258.5h0M731.5 259.5h0M733.5 285.5h0M753.5 258.5h0M734.5 278.5h0M714.5 244.5h0M725.5 258.5h0M743.5 281.5h0M723.5 247.5h0M711.5 254.5h0M723.5 289.5h0M707.5 288.5h0M707.5 300.5h0M708.5 254.5h0M730.5 296.5h0M719.5 284.5h0M711.5 256.5h0M742.5 282.5h0M735.5 283.5h0M747.5 297.5h0M710.5 298.5h0M736.5 266.5h0M716.5 292.5h0M729.5 242.5h0M726.5 299.5h0M734.5 282.5h0M733.5 290.5h0M752.5 246.5h0M736.5 255.5h0M721.5 294.5h0M745.5 298.5h0M710.5 296.5h0M744.5 256.5h0M733.5 255.5h0M716.5 262.5h0M743.5 271.5h0M708.5 273.5h0M703.5 265.5h0M716.5 294.5h0M729.5 252.5h0M736.5 253.5h0M719.5 259.5h0M733.5 287.5h0M755.5 288.5h0M756.5 241.5h0M741.5 243.5h0M718.5 255.5h0M728.5 253.5h0M746.5 273.5h0M750.5 247.5h0M754.5 259.5h0M723.5 274.5h0M720.5 259.5h0M720.5 296.5h0M745.5 277.5h0M754.5 249.5h0M732.5 272.5h0M726.5 267.5h0M738.5 267.5h0M725.5 243.5h0M733.5 289.5h0M712.5 259.5h0M707.5 273.5h0M724.5 287.5h0M716.5 298.5h0M710.5 264.5h0M755.5 290.5h0M740.5 265.5h0M723.5 275.5h0M756.5 276.5h0M707.5 247.5h0M721.5 295.5h0M750.5 267.5h0M755.5 276.5h0M745.5 292.5h0M712.5 277.5h0M733.5 248.5h0M705.5 289.5h0M705.5 259.5h0M749.5 285.5h0M702.5 269.5h0M707.5 267.5h0M707.5 297.5h0M741.5 252.5h0M736.5 278.5h0M713.5 288.5h0M724.5 288.5h0M754.5 241.5h0M713.5 243.5h0M705.5 272.5h0M737.5 284.5h0M707.5 258.5h0M732.5 298.5h0M716.5 248.5h0M703.5 301.5h0M738.5 298.5h0M743.5 281.5h0M719.5 273.5h0M710.5 301.5h0M755.5 283.5h0M715.5 241.5h0M715.5 254.5h0M722.5 297.5h0M715.5 247.5h0M715.5 272.5h0M752.5 240.5h0M706.5 281.5h0M747.5 282.5h0M731.5 259.5h0M703.5 271.5h0M710.5 284.5h0M738.5 269.5h0M732.5 262.5h0M715.5 282.5h0M718.5 251.5h0M752.5 255.5h0M742.5 255.5h0M738.5 261.5h0M752.5 287.5h0M714.5 258.5h0M720.5 290.5h0M748.5 292.5h0M726.5 270.5h0M726.5 290.5h0M746.5 293.5h0M756.5 265.5h0M750.5 241.5h0M744.5 298.5h0M726.5 274.5h0M740.5 295.5h0M714.5 268.5h0M715.5 266.5h0M713.5 271.5h0M739.5 299.5h0M754.5 258.5h0M743.5 270.5h0M716.5 266.5h0M738.5 260.5h0M721.5 246.5h0M747.5 274.5h0M728.5 245.5h0M715.5 290.5h0M717.5 273.5h0M706.5 290.5h0M721.5 278.5h0M720.5 246.5h0M727.5 241.5h0M738.5 272.5h0M753.5 284.5h0M746.5 281.5h0M733.5 246.5h0M721.5 274.5h0M711.5 289.5h0M734.5 250.5h0M705.5 270.5h0M704.5 275.5h0M737.5 246.5h0M711.5 255.5h0M748.5 300.5h0M738.5 242.5h0M730.5 273.5h0M753.5 290.5h0M709.5 245.5h0M719.5 275.5h0M729.5 259.5h0M755.5 255.5h0M706.5 289.5h0M756.5 274.5h0M732.5 272.5h0M705.5 282.5h0M731.5 292.5h0M703.5 268.5h0M755.5 269.5h0M738.5 271.5h0M722.5 272.5h0M745.5 274.5h0M745.5 279.5h0M740.5 275.5h0M714.5 277.5h0M707.5 273.5h0M749.5 290.5h0M750.5 287.5h0M721.5 270.5h0M723.5 280.5h0M724.5 304.5h0M717.5 275.5h0M753.5 306.5h0M731.5 255.5h0M741.5 270.5h0M735.5 269.5h0M706.5 284.5h0M705.5 289.5h0M710.5 279.5h0M729.5 276.5h0M736.5 286.5h0M756.5 279.5h0M751.5 272.5h0M742.5 271.5h0M723.5 288.5h0M720.5 301.5h0M740.5 277.5h0M721.5 284.5h0M744.5 273.5h0M742.5 260.5h0M708.5 258.5h0M746.5 275.5h0M707.5 264.5h0M719.5 258.5h0M755.5 280.5h0M737.5 274.5h0M749.5 270.5h0M752.5 281.5h0M716.5 282.5h0M745.5 287.5h0M722.5 276.5h0M705.5 283.5h0M707.5 268.5h0M708.5 280.5h0M736.5 261.5h0M737.5 264.5h0M748.5 293.5h0M718.5 265.5h0M743.5 282.5h0M716.5 261.5h0M719.5 271.5h0M738.5 278.5h0M723.5 269.5h0M756.5 287.5h0M719.5 273.5h0M715.5 272.5h0M750.5 281.5h0M750.5 275.5h0M710.5 287.5h0M720.5 270.5h0M730.5 290.5h0M705.5 270.5h0M722.5 271.5h0M744.5 270.5h0M744.5 284.5h0M710.5 243.5h0M718.5 279.5h0M716.5 275.5h0M739.5 285.5h0M709.5 261.5h0M756.5 286.5h0M708.5 265.5h0M731.5 287.5h0M740.5 274.5h0M754.5 284.5h0M159.5 284.5h0M156.5 295.5h0M166.5 297.5h0M181.5 301.5h0M189.5 306.5h0M194.5 307.5h0M161.5 303.5h0M163.5 304.5h0M582.5 304.5h0M585.5 304.5h0M610.5 306.5h0M613.5 306.5h0M622.5 303.5h0" style="fill:none;stroke:#e6e600;stroke-width:3.2;stroke-linecap:square"/>
<path d="M140.5 317.5h0M168.5 319.5h0M161.5 320.5h0M146.5 319.5h0M161.5 324.5h0M148.5 316.5h0M165.5 311.5h0M153.5 310.5h0M148.5 312.5h0M149.5 319.5h0M146.5 316.5h0M148.5 316.5h0M145.5 317.5h0M141.5 315.5h0M153.5 318.5h0M146.5 316.5h0M162.5 322.5h0M167.5 320.5h0M157.5 317.5h0M155.5 318.5h0M142.5 312.5h0M143.5 311.5h0M166.5 323.5h0M154.5 317.5h0M164.5 314.5h0M141.5 314.5h0M157.5 316.5h0M165.5 312.5h0M166.5 321.5h0M140.5 314.5h0M155.5 319.5h0M151.5 309.5h0M162.5 325.5h0M142.5 319.5h0M147.5 318.5h0M164.5 315.5h0M154.5 314.5h0M153.5 310.5h0M169.5 325.5h0M149.5 312.5h0M141.5 317.5h0M151.5 319.5h0M144.5 312.5h0M142.5 320.5h0M157.5 326.5h0M168.5 320.5h0M157.5 323.5h0M159.5 320.5h0M149.5 314.5h0M157.5 315.5h0M162.5 311.5h0M157.5 318.5h0M164.5 324.5h0M156.5 320.5h0M145.5 320.5h0M157.5 322.5h0M154.5 314.5h0M144.5 319.5h0M158.5 326.5h0M164.5 315.5h0M144.5 316.5h0M156.5 315.5h0M162.5 317.5h0M152.5 313.5h0M148.5 316.5h0M151.5 310.5h0M156.5 315.5h0M160.5 316.5h0M156.5 315.5h0M143.5 323.5h0M164.5 319.5h0M167.5 320.5h0M143.5 314.5h0M147.5 323.5h0M165.5 318.5h0M167.5 323.5h0M141.5 325.5h0M149.5 317.5h0M145.5 316.5h0M154.5 320.5h0M167.5 318.5h0M142.5 319.5h0M145.5 312.5h0M154.5 320.5h0M155.5 317.5h0M162.5 314.5h0M144.5 321.5h0M150.5 318.5h0M169.5 322.5h0M162.5 314.5h0M143.5 322.5h0M164.5 320.5h0M149.5 316.5h0M163.5 322.5h0M140.5 320.5h0M166.5 320.5h0M144.5 327.5h0M153.5 323.5h0M159.5 319.5h0M155.5 316.5h0M236.5 326.5h0M247.5 326.5h0M260.5 326.5h0M212.5 322.5h0M211.5 325.5h0M168.5 320.5h0M172.5 320.5h0M240.5 325.5h0M178.5 321.5h0M194.5 319.5h0M211.5 322.5h0M177.5 323.5h0M172.5 321.5h0M290.5 327.5h0M225.5 323.5h0M195.5 321.5h0M261.5 326.5h0M169.5 321.5h0M200.5 320.5h0M294.5 325.5h0M286.5 324.5h0M251.5 326.5h0M180.5 324.5h0M209.5 324.5h0M171.5 315.5h0M196.5 324.5h0M171.5 322.5h0M184.5 324.5h0M251.5 324.5h0M181.5 320.5h0M188.5 322.5h0M287.5 320.5h0M212.5 323.5h0M211.5 320.5h0M179.5 321.5h0M273.5 323.5h0M257.5 327.5h0M240.5 324.5h0M249.5 324.5h0M181.5 322.5h0M202.5 328.5h0M245.5 322.5h0M293.5 325.5h0M275.5 326.5h0M252.5 324.5h0M236.5 324.5h0M169.5 320.5h0M285.5 327.5h0M176.5 324.5h0M185.5 321.5h0M259.5 324.5h0M275.5 326.5h0M271.5 326.5h0M227.5 325.5h0M191.5 323.5h0M172.5 318.5h0M280.5 327.5h0M297.5 321.5h0M200.5 321.5h0M282.5 326.5h0M221.5 321.5h0M209.5 327.5h0M234.5 327.5h0M169.5 324.5h0M226.5 324.5h0M194.5 324.5h0M262.5 325.5h0M234.5 323.5h0M282.5 329.5h0M286.5 324.5h0M209.5 327.5h0M205.5 325.5h0M291.5 325.5h0M234.5 326.5h0M180.5 325.5h0M174.5 324.5h0M298.5 324.5h0M244.5 322.5h0M175.5 320.5h0M235.5 326.5h0M234.5 325.5h0M225.5 325.5h0M293.5 323.5h0M293.5 329.5h0M184.5 319.5h0M188.5 324.5h0M221.5 325.5h0M278.5 324.5h0M250.5 321.5h0M264.5 323.5h0M244.5 321.5h0M195.5 322.5h0M275.5 322.5h0M169.5 318.5h0M260.5 324.5h0M193.5 319.5h0M230.5 323.5h0M296.5 324.5h0M239.5 326.5h0M175.5 322.5h0M224.5 321.5h0M255.5 327.5h0M175.5 320.5h0M201.5 322.5h0M170.5 320.5h0M239.5 329.5h0M218.5 323.5h0M234.5 322.5h0M207.5 325.5h0M254.5 324.5h0M190.5 328.5h0M287.5 323.5h0M294.5 326.5h0M233.5 321.5h0M229.5 328.5h0M281.5 323.5h0M206.5 324.5h0M274.5 323.5h0M205.5 325.5h0M263.5 326.5h0M212.5 318.5h0M247.5 326.5h0M290.5 326.5h0M175.5 322.5h0M274.5 327.5h0M239.5 321.5h0M218.5 319.5h0M214.5 325.5h0M177.5 326.5h0M202.5 320.5h0M250.5 321.5h0M180.5 320.5h0M256.5 321.5h0M295.5 326.5h0M297.5 325.5h0M285.5 328.5h0M274.5 328.5h0M191.5 320.5h0M296.5 326.5h0M194.5 317.5h0M282.5 325.5h0M283.5 326.5h0M250.5 322.5h0M236.5 319.5h0M194.5 322.5h0M236.5 326.5h0M206.5 322.5h0M184.5 319.5h0M184.5 323.5h0M273.5 326.5h0M289.5 322.5h0M186.5 322.5h0M169.5 324.5h0M202.5 324.5h0M185.5 324.5h0M192.5 322.5h0M244.5 323.5h0M223.5 321.5h0M224.5 322.5h0M195.5 327.5h0M255.5 323.5h0M206.5 321.5h0M220.5 322.5h0M229.5 321.5h0M287.5 326.5h0M200.5 325.5h0M262.5 322.5h0M208.5 326.5h0M286.5 329.5h0M220.5 321.5h0M234.5 325.5h0M283.5 325.5h0M256.5 327.5h0M180.5 325.5h0M186.5 325.5h0M298.5 325.5h0M171.5 320.5h0M207.5 329.5h0M294.5 323.5h0M169.5 324.5h0M189.5 325.5h0M196.5 321.5h0M179.5 322.5h0M230.5 327.5h0M246.5 320.5h0M210.5 325.5h0M182.5 321.5h0M275.5 324.5h0M274.5 322.5h0M242.5 325.5h0M186.5 320.5h0M239.5 325.5h0M251.5 321.5h0M224.5 325.5h0M282.5 326.5h0M219.5 319.5h0M235.5 323.5h0M183.5 322.5h0M242.5 319.5h0M269.5 324.5h0M264.5 326.5h0M201.5 321.5h0M298.5 327.5h0M263.5 322.5h0M223.5 320.5h0M222.5 325.5h0M270.5 326.5h0M191.5 322.5h0M252.5 324.5h0M262.5 326.5h0M236.5 322.5h0M283.5 329.5h0M229.5 324.5h0M229.5 324.5h0M205.5 324.5h0M289.5 324.5h0M209.5 326.5h0M259.5 323.5h0M222.5 324.5h0M291.5 326.5h0M293.5 327.5h0M171.5 324.5h0M299.5 323.5h0M247.5 326.5h0M177.5 321.5h0M233.5 321.5h0M174.5 319.5h0M240.5 320.5h0M192.5 323.5h0M216.5 326.5h0M208.5 321.5h0M247.5 323.5h0M276.5 322.5h0M291.5 325.5h0M211.5 320.5h0M243.5 322.5h0M168.5 319.5h0M217.5 322.5h0M294.5 324.5h0M183.5 321.5h0M282.5 324.5h0M254.5 322.5h0M206.5 324.5h0M270.5 321.5h0M206.5 323.5h0M286.5 323.5h0M178.5 322.5h0M183.5 323.5h0M267.5 320.5h0M227.5 324.5h0M187.5 325.5h0M235.5 325.5h0M207.5 324.5h0M240.5 319.5h0M266.5 324.5h0M281.5 323.5h0M175.5 324.5h0M246.5 323.5h0M297.5 323.5h0M228.5 319.5h0M269.5 326.5h0M180.5 320.5h0M283.5 324.5h0M244.5 326.5h0M285.5 325.5h0M271.5 325.5h0M282.5 330.5h0M175.5 320.5h0M262.5 323.5h0M194.5 324.5h0M203.5 326.5h0M210.5 320.5h0M246.5 323.5h0M250.5 322.5h0M290.5 322.5h0M169.5 322.5h0M193.5 321.5h0M215.5 324.5h0M275.5 325.5h0M240.5 324.5h0M235.5 323.5h0M268.5 322.5h0M254.5 324.5h0M206.5 323.5h0M179.5 322.5h0M229.5 323.5h0M284.5 327.5h0M246.5 325.5h0M175.5 321.5h0M226.5 325.5h0M218.5 323.5h0M244.5 325.5h0M245.5 319.5h0M293.5 322.5h0M212.5 322.5h0M221.5 323.5h0M248.5 319.5h0M285.5 324.5h0M261.5 324.5h0M230.5 323.5h0M275.5 324.5h0M232.5 320.5h0M295.5 324.5h0M205.5 318.5h0M184.5 324.5h0M277.5 323.5h0M207.5 325.5h0M279.5 321.5h0M248.5 325.5h0M235.5 324.5h0M179.5 319.5h0M271.5 322.5h0M176.5 324.5h0M295.5 325.5h0M283.5 328.5h0M207.5 323.5h0M184.5 322.5h0M284.5 325.5h0M231.5 325.5h0M184.5 323.5h0M233.5 325.5h0M200.5 322.5h0M221.5 320.5h0M252.5 328.5h0M288.5 325.5h0M273.5 326.5h0M189.5 321.5h0M231.5 326.5h0M232.5 324.5h0M298.5 326.5h0M179.5 320.5h0M235.5 323.5h0M288.5 325.5h0M220.5 322.5h0M202.5 324.5h0M241.5 327.5h0M210.5 322.5h0M290.5 324.5h0M179.5 322.5h0M195.5 320.5h0M179.5 319.5h0M261.5 327.5h0M206.5 325.5h0M286.5 321.5h0M285.5 322.5h0M291.5 326.5h0M201.5 326.5h0M168.5 322.5h0M219.5 324.5h0M295.5 328.5h0M268.5 324.5h0M175.5 325.5h0M260.5 327.5h0M289.5 323.5h0M295.5 326.5h0M262.5 324.5h0M281.5 323.5h0M279.5 323.5h0M215.5 324.5h0M181.5 322.5h0M264.5 326.5h0M186.5 318.5h0M218.5 322.5h0M299.5 326.5h0M241.5 324.5h0M236.5 322.5h0M293.5 323.5h0M205.5 319.5h0M299.5 321.5h0M288.5 326.5h0M216.5 323.5h0M211.5 326.5h0M184.5 321.5h0M288.5 324.5h0M192.5 316.5h0M169.5 320.5h0M285.5 329.5h0M246.5 325.5h0M256.5 324.5h0M264.5 327.5h0M173.5 323.5h0M180.5 323.5h0M233.5 323.5h0M174.5 322.5h0M234.5 326.5h0M265.5 323.5h0M254.5 325.5h0M249.5 325.5h0M174.5 325.5h0M199.5 325.5h0M286.5 323.5h0M184.5 326.5h0M238.5 324.5h0M174.5 319.5h0M291.5 325.5h0M190.5 322.5h0M222.5 326.5h0M240.5 321.5h0M262.5 322.5h0M291.5 324.5h0M265.5 328.5h0M213.5 326.5h0M177.5 319.5h0M261.5 320.5h0M296.5 324.5h0M170.5 318.5h0M270.5 326.5h0M191.5 323.5h0M228.5 323.5h0M236.5 323.5h0M249.5 327.5h0M298.5 322.5h0M258.5 321.5h0M219.5 326.5h0M262.5 327.5h0M229.5 323.5h0M222.5 325.5h0M216.5 329.5h0M233.5 322.5h0M205.5 323.5h0M199.5 324.5h0M187.5 317.5h0M226.5 323.5h0M206.5 325.5h0M278.5 325.5h0M279.5 327.5h0M213.5 325.5h0M249.5 323.5h0M287.5 326.5h0M215.5 324.5h0M241.5 320.5h0M226.5 321.5h0M253.5 322.5h0M294.5 323.5h0M186.5 321.5h0M295.5 321.5h0M255.5 324.5h0M273.5 321.5h0M251.5 326.5h0M282.5 325.5h0M211.5 326.5h0M261.5 325.5h0M202.5 322.5h0M235.5 320.5h0M257.5 325.5h0M194.5 323.5h0M176.5 322.5h0M272.5 326.5h0M274.5 327.5h0M255.5 324.5h0M210.5 327.5h0M254.5 324.5h0M179.5 322.5h0M255.5 325.5h0M244.5 326.5h0M249.5 327.5h0M227.5 319.5h0M197.5 326.5h0M263.5 321.5h0M229.5 322.5h0M266.5 325.5h0M216.5 326.5h0M179.5 319.5h0M239.5 320.5h0M250.5 326.5h0M289.5 325.5h0M285.5 322.5h0M175.5 320.5h0M269.5 320.5h0M202.5 324.5h0M260.5 323.5h0M218.5 326.5h0M210.5 318.5h0M232.5 325.5h0M238.5 329.5h0M259.5 324.5h0M252.5 324.5h0M257.5 320.5h0M218.5 324.5h0M257.5 324.5h0M213.5 322.5h0M248.5 320.5h0M228.5 324.5h0M242.5 321.5h0M170.5 320.5h0M233.5 324.5h0M197.5 323.5h0M218.5 323.5h0M177.5 324.5h0M254.5 321.5h0M285.5 328.5h0M214.5 320.5h0M181.5 320.5h0M249.5 324.5h0M184.5 324.5h0M285.5 325.5h0M184.5 321.5h0M215.5 321.5h0M233.5 323.5h0M183.5 320.5h0M210.5 324.5h0M204.5 322.5h0M262.5 328.5h0M298.5 323.5h0M215.5 323.5h0M272.5 325.5h0M186.5 319.5h0M244.5 322.5h0M225.5 330.5h0M206.5 323.5h0M276.5 328.5h0M266.5 322.5h0M185.5 316.5h0M206.5 324.5h0M276.5 325.5h0M299.5 325.5h0M248.5 323.5h0M283.5 323.5h0M297.5 322.5h0M265.5 326.5h0M253.5 320.5h0M197.5 325.5h0M216.5 323.5h0M250.5 321.5h0M290.5 323.5h0M207.5 325.5h0M220.5 325.5h0M170.5 322.5h0M259.5 324.5h0M226.5 321.5h0M273.5 327.5h0M198.5 322.5h0M255.5 323.5h0M256.5 323.5h0M229.5 322.5h0M192.5 319.5h0M221.5 322.5h0M266.5 322.5h0M192.5 321.5h0M179.5 317.5h0M229.5 328.5h0M198.5 320.5h0M273.5 325.5h0M275.5 325.5h0M292.5 327.5h0M278.5 329.5h0M253.5 325.5h0M192.5 324.5h0M276.5 324.5h0M264.5 327.5h0M266.5 321.5h0M260.5 323.5h0M277.5 325.5h0M207.5 325.5h0M256.5 326.5h0M236.5 326.5h0M212.5 324.5h0M211.5 323.5h0M188.5 323.5h0M232.5 327.5h0M216.5 324.5h0M223.5 325.5h0M280.5 324.5h0M257.5 320.5h0M257.5 323.5h0M297.5 325.5h0M196.5 327.5h0M235.5 327.5h0M180.5 326.5h0M219.5 322.5h0M293.5 326.5h0M179.5 322.5h0M268.5 326.5h0M282.5 325.5h0M235.5 320.5h0M273.5 326.5h0M226.5 324.5h0M214.5 325.5h0M234.5 321.5h0M193.5 325.5h0M208.5 326.5h0M208.5 326.5h0M298.5 327.5h0M212.5 322.5h0M198.5 317.5h0M292.5 327.5h0M186.5 320.5h0M295.5 324.5h0M280.5 327.5h0M253.5 325.5h0M224.5 324.5h0M194.5 324.5h0M182.5 317.5h0M181.5 327.5h0M214.5 322.5h0M221.5 322.5h0M289.5 326.5h0M238.5 323.5h0M298.5 322.5h0M263.5 324.5h0M187.5 321.5h0M241.5 322.5h0M189.5 327.5h0M173.5 317.5h0M292.5 320.5h0M212.5 321.5h0M193.5 320.5h0M181.5 325.5h0M254.5 324.5h0M228.5 325.5h0M169.5 322.5h0M262.5 322.5h0M201.5 325.5h0M271.5 325.5h0M232.5 328.5h0M238.5 324.5h0M228.5 323.5h0M257.5 326.5h0M298.5 326.5h0M273.5 321.5h0M177.5 325.5h0M233.5 326.5h0M198.5 325.5h0M181.5 319.5h0M193.5 318.5h0M200.5 322.5h0M294.5 326.5h0M266.5 325.5h0M280.5 322.5h0M260.5 326.5h0M209.5 320.5h0M219.5 320.5h0M226.5 323.5h0M206.5 322.5h0M223.5 322.5h0M269.5 321.5h0M177.5 324.5h0M204.5 320.5h0M231.5 324.5h0M257.5 326.5h0M253.5 324.5h0M263.5 325.5h0M181.5 324.5h0M191.5 327.5h0M208.5 325.5h0M205.5 320.5h0M267.5 320.5h0M299.5 323.5h0M258.5 321.5h0M172.5 322.5h0M207.5 323.5h0M273.5 324.5h0M290.5 327.5h0M246.5 326.5h0M214.5 323.5h0M214.5 324.5h0M251.5 326.5h0M282.5 324.5h0M212.5 324.5h0M193.5 320.5h0M168.5 321.5h0M186.5 323.5h0M280.5 324.5h0M250.5 324.5h0M298.5 326.5h0M177.5 323.5h0M216.5 321.5h0M273.5 323.5h0M255.5 321.5h0M176.5 326.5h0M220.5 324.5h0M252.5 325.5h0M258.5 324.5h0M227.5 324.5h0M192.5 324.5h0M295.5 323.5h0M229.5 323.5h0M262.5 327.5h0M238.5 320.5h0M178.5 319.5h0M199.5 324.5h0M176.5 319.5h0M193.5 324.5h0M194.5 320.5h0M222.5 324.5h0M210.5 325.5h0M215.5 324.5h0M275.5 326.5h0M170.5 320.5h0M181.5 321.5h0M274.5 325.5h0M238.5 325.5h0M225.5 330.5h0M203.5 323.5h0M239.5 328.5h0M197.5 322.5h0M281.5 322.5h0M276.5 324.5h0M210.5 324.5h0M171.5 321.5h0M285.5 325.5h0M207.5 324.5h0M254.5 325.5h0M281.5 327.5h0M273.5 322.5h0M281.5 325.5h0M232.5 321.5h0M279.5 325.5h0M228.5 323.5h0M202.5 323.5h0M231.5 322.5h0M212.5 321.5h0M269.5 324.5h0M277.5 326.5h0M186.5 324.5h0M189.5 318.5h0M218.5 324.5h0M229.5 324.5h0M294.5 321.5h0M292.5 322.5h0M295.5 323.5h0M264.5 325.5h0M257.5 319.5h0M203.5 322.5h0M217.5 322.5h0M168.5 321.5h0M277.5 328.5h0M204.5 326.5h0M178.5 321.5h0M209.5 322.5h0M210.5 324.5h0M263.5 327.5h0M168.5 324.5h0M198.5 324.5h0M286.5 328.5h0M280.5 323.5h0M251.5 321.5h0M241.5 317.5h0M197.5 321.5h0M283.5 326.5h0M268.5 326.5h0M235.5 330.5h0M189.5 324.5h0M196.5 323.5h0M218.5 321.5h0M211.5 322.5h0M176.5 320.5h0M221.5 323.5h0M227.5 322.5h0M205.5 320.5h0M218.5 326.5h0M211.5 324.5h0M217.5 326.5h0M249.5 320.5h0M233.5 320.5h0M194.5 321.5h0M272.5 327.5h0M235.5 323.5h0M228.5 324.5h0M262.5 324.5h0M267.5 325.5h0M280.5 324.5h0M275.5 326.5h0M256.5 322.5h0M263.5 324.5h0M188.5 323.5h0M260.5 324.5h0M201.5 324.5h0M202.5 321.5h0M183.5 323.5h0M220.5 323.5h0M170.5 322.5h0M254.5 327.5h0M266.5 322.5h0M270.5 327.5h0M185.5 320.5h0M252.5 323.5h0M278.5 328.5h0M172.5 323.5h0M193.5 324.5h0M203.5 325.5h0M228.5 326.5h0M190.5 321.5h0M239.5 324.5h0M213.5 322.5h0M254.5 325.5h0M238.5 323.5h0M258.5 326.5h0M200.5 323.5h0M261.5 323.5h0M264.5 324.5h0M263.5 325.5h0M305.5 319.5h0M322.5 314.5h0M326.5 308.5h0M304.5 325.5h0M322.5 316.5h0M320.5 313.5h0M301.5 323.5h0M327.5 314.5h0M314.5 319.5h0M308.5 323.5h0M300.5 325.5h0M323.5 313.5h0M310.5 322.5h0M315.5 323.5h0M305.5 325.5h0M318.5 313.5h0M311.5 324.5h0M324.5 313.5h0M319.5 315.5h0M321.5 313.5h0M307.5 325.5h0M301.5 324.5h0M326.5 311.5h0M319.5 319.5h0M327.5 313.5h0M321.5 313.5h0M318.5 315.5h0M312.5 320.5h0M310.5 323.5h0M314.5 319.5h0M306.5 322.5h0M312.5 318.5h0M315.5 323.5h0M300.5 323.5h0M311.5 321.5h0M308.5 325.5h0M319.5 316.5h0M324.5 313.5h0M318.5 319.5h0M319.5 315.5h0M318.5 321.5h0M307.5 322.5h0M311.5 320.5h0M325.5 311.5h0M305.5 326.5h0M300.5 327.5h0M328.5 308.5h0M325.5 311.5h0M318.5 312.5h0M324.5 311.5h0M317.5 320.5h0M327.5 308.5h0M307.5 324.5h0M313.5 324.5h0M320.5 309.5h0M306.5 322.5h0M321.5 313.5h0M307.5 321.5h0M321.5 311.5h0M324.5 312.5h0M312.5 317.5h0M329.5 311.5h0M318.5 321.5h0M322.5 311.5h0M300.5 320.5h0M303.5 322.5h0M321.5 315.5h0M328.5 309.5h0M318.5 319.5h0M301.5 322.5h0M326.5 310.5h0M326.5 310.5h0M318.5 314.5h0M312.5 319.5h0M321.5 314.5h0M307.5 325.5h0M320.5 315.5h0M320.5 310.5h0M316.5 320.5h0M307.5 322.5h0M300.5 322.5h0M305.5 320.5h0M325.5 311.5h0M306.5 326.5h0M302.5 322.5h0M307.5 325.5h0M315.5 321.5h0M317.5 317.5h0M326.5 312.5h0M325.5 310.5h0M326.5 309.5h0M313.5 318.5h0M304.5 325.5h0M328.5 311.5h0M306.5 325.5h0M318.5 319.5h0M307.5 325.5h0M324.5 315.5h0M306.5 323.5h0M312.5 323.5h0M306.5 326.5h0M325.5 315.5h0M318.5 316.5h0M318.5 317.5h0M309.5 319.5h0M305.5 320.5h0M325.5 313.5h0M322.5 312.5h0M322.5 319.5h0M316.5 315.5h0M305.5 323.5h0M318.5 321.5h0M308.5 321.5h0M315.5 324.5h0M313.5 322.5h0M316.5 317.5h0M327.5 310.5h0M324.5 314.5h0M312.5 318.5h0M324.5 316.5h0M325.5 311.5h0M323.5 315.5h0M316.5 321.5h0M326.5 309.5h0M314.5 322.5h0M303.5 319.5h0M308.5 323.5h0M319.5 311.5h0M311.5 324.5h0M312.5 319.5h0M312.5 324.5h0M305.5 326.5h0M302.5 323.5h0M301.5 322.5h0M320.5 320.5h0M309.5 319.5h0M313.5 322.5h0M328.5 309.5h0M318.5 316.5h0M324.5 311.5h0M322.5 319.5h0M302.5 322.5h0M311.5 322.5h0M328.5 312.5h0M313.5 324.5h0M328.5 313.5h0M305.5 322.5h0M301.5 324.5h0M326.5 314.5h0M312.5 322.5h0M315.5 315.5h0M328.5 311.5h0M306.5 324.5h0M311.5 320.5h0M307.5 322.5h0M307.5 324.5h0M315.5 323.5h0M314.5 323.5h0M326.5 312.5h0M301.5 324.5h0M301.5 323.5h0M304.5 322.5h0M318.5 317.5h0M323.5 313.5h0M314.5 322.5h0M318.5 323.5h0M319.5 318.5h0M300.5 326.5h0M307.5 324.5h0M329.5 309.5h0M309.5 325.5h0M328.5 312.5h0M314.5 320.5h0M332.5 312.5h0M331.5 310.5h0M330.5 309.5h0M333.5 310.5h0M330.5 308.5h0M465.5 314.5h0M469.5 311.5h0M484.5 309.5h0M470.5 310.5h0M470.5 311.5h0M468.5 316.5h0M471.5 311.5h0M471.5 310.5h0M464.5 312.5h0M462.5 309.5h0M470.5 311.5h0M476.5 309.5h0M481.5 310.5h0M478.5 313.5h0M499.5 311.5h0M478.5 308.5h0M475.5 315.5h0M461.5 309.5h0M466.5 310.5h0M473.5 308.5h0M460.5 310.5h0M474.5 313.5h0M473.5 310.5h0M482.5 308.5h0M479.5 311.5h0M463.5 312.5h0M480.5 309.5h0M472.5 310.5h0M467.5 314.5h0M456.5 308.5h0M470.5 310.5h0M464.5 311.5h0M458.5 311.5h0M462.5 313.5h0M467.5 313.5h0M471.5 311.5h0M466.5 311.5h0M474.5 309.5h0M471.5 311.5h0M480.5 311.5h0M483.5 311.5h0M464.5 311.5h0M459.5 313.5h0M461.5 310.5h0M476.5 315.5h0M468.5 312.5h0M468.5 312.5h0M464.5 309.5h0M459.5 312.5h0M466.5 311.5h0M467.5 312.5h0M466.5 309.5h0M464.5 310.5h0M454.5 310.5h0M467.5 310.5h0M474.5 313.5h0M468.5 316.5h0M470.5 310.5h0M468.5 310.5h0M483.5 309.5h0M499.5 311.5h0M461.5 309.5h0M460.5 310.5h0M479.5 310.5h0M456.5 309.5h0M460.5 308.5h0M465.5 312.5h0M479.5 311.5h0M470.5 311.5h0M466.5 313.5h0M467.5 314.5h0M465.5 309.5h0M477.5 309.5h0M467.5 310.5h0M479.5 312.5h0M480.5 311.5h0M468.5 312.5h0M454.5 309.5h0M462.5 312.5h0M469.5 309.5h0M462.5 309.5h0M466.5 309.5h0M478.5 309.5h0M499.5 309.5h0M464.5 314.5h0M473.5 308.5h0M463.5 313.5h0M499.5 310.5h0M499.5 309.5h0M462.5 308.5h0M464.5 313.5h0M478.5 308.5h0M477.5 312.5h0M461.5 308.5h0M474.5 312.5h0M480.5 310.5h0M472.5 308.5h0M474.5 315.5h0M471.5 313.5h0M462.5 309.5h0M467.5 313.5h0M458.5 310.5h0M477.5 312.5h0M472.5 310.5h0M466.5 309.5h0M477.5 311.5h0M463.5 312.5h0M458.5 311.5h0M456.5 309.5h0M473.5 310.5h0M472.5 314.5h0M477.5 312.5h0M471.5 314.5h0M462.5 310.5h0M480.5 308.5h0M456.5 308.5h0M465.5 312.5h0M469.5 309.5h0M475.5 310.5h0M475.5 310.5h0M470.5 312.5h0M465.5 311.5h0M472.5 314.5h0M595.5 320.5h0M500.5 308.5h0M526.5 321.5h0M534.5 317.5h0M537.5 320.5h0M529.5 320.5h0M502.5 313.5h0M520.5 314.5h0M526.5 316.5h0M567.5 322.5h0M537.5 321.5h0M572.5 321.5h0M544.5 320.5h0M534.5 315.5h0M515.5 320.5h0M522.5 321.5h0M590.5 322.5h0M545.5 319.5h0M531.5 318.5h0M521.5 315.5h0M587.5 317.5h0M570.5 322.5h0M569.5 322.5h0M580.5 325.5h0M524.5 317.5h0M573.5 319.5h0M507.5 314.5h0M566.5 318.5h0M532.5 318.5h0M566.5 317.5h0M522.5 317.5h0M535.5 321.5h0M567.5 322.5h0M593.5 325.5h0M534.5 322.5h0M516.5 316.5h0M512.5 313.5h0M567.5 317.5h0M589.5 322.5h0M501.5 312.5h0M534.5 321.5h0M516.5 314.5h0M595.5 320.5h0M513.5 317.5h0M506.5 312.5h0M576.5 320.5h0M599.5 325.5h0M577.5 320.5h0M511.5 315.5h0M540.5 320.5h0M552.5 321.5h0M589.5 318.5h0M575.5 318.5h0M506.5 309.5h0M545.5 322.5h0M577.5 323.5h0M554.5 318.5h0M566.5 323.5h0M596.5 323.5h0M597.5 325.5h0M583.5 318.5h0M557.5 318.5h0M530.5 317.5h0M515.5 316.5h0M516.5 317.5h0M564.5 321.5h0M577.5 320.5h0M585.5 323.5h0M591.5 319.5h0M528.5 319.5h0M533.5 320.5h0M519.5 314.5h0M554.5 320.5h0M594.5 320.5h0M575.5 322.5h0M543.5 324.5h0M515.5 315.5h0M584.5 325.5h0M589.5 319.5h0M576.5 325.5h0M529.5 322.5h0M539.5 318.5h0M558.5 319.5h0M591.5 321.5h0M524.5 320.5h0M541.5 317.5h0M506.5 317.5h0M500.5 311.5h0M524.5 319.5h0M580.5 322.5h0M567.5 319.5h0M547.5 321.5h0M540.5 318.5h0M526.5 316.5h0M576.5 325.5h0M548.5 322.5h0M507.5 315.5h0M562.5 322.5h0M599.5 320.5h0M507.5 318.5h0M599.5 319.5h0M509.5 313.5h0M530.5 319.5h0M597.5 324.5h0M597.5 321.5h0M518.5 318.5h0M572.5 320.5h0M561.5 321.5h0M539.5 317.5h0M578.5 322.5h0M563.5 317.5h0M522.5 322.5h0M549.5 322.5h0M570.5 320.5h0M562.5 324.5h0M554.5 318.5h0M573.5 324.5h0M513.5 315.5h0M504.5 315.5h0M503.5 313.5h0M562.5 320.5h0M543.5 320.5h0M583.5 323.5h0M597.5 316.5h0M511.5 315.5h0M537.5 321.5h0M541.5 317.5h0M554.5 318.5h0M590.5 319.5h0M559.5 316.5h0M530.5 320.5h0M566.5 318.5h0M532.5 316.5h0M555.5 320.5h0M509.5 314.5h0M556.5 327.5h0M547.5 321.5h0M564.5 317.5h0M556.5 324.5h0M557.5 321.5h0M573.5 321.5h0M513.5 314.5h0M575.5 318.5h0M562.5 324.5h0M568.5 321.5h0M539.5 317.5h0M508.5 317.5h0M592.5 322.5h0M582.5 318.5h0M597.5 318.5h0M546.5 318.5h0M588.5 327.5h0M587.5 322.5h0M554.5 319.5h0M590.5 322.5h0M581.5 322.5h0M513.5 316.5h0M540.5 321.5h0M553.5 319.5h0M565.5 321.5h0M556.5 321.5h0M587.5 322.5h0M580.5 320.5h0M510.5 314.5h0M533.5 321.5h0M588.5 322.5h0M575.5 320.5h0M501.5 312.5h0M562.5 318.5h0M512.5 314.5h0M550.5 322.5h0M599.5 320.5h0M507.5 309.5h0M582.5 318.5h0M548.5 320.5h0M597.5 319.5h0M585.5 323.5h0M506.5 317.5h0M564.5 319.5h0M586.5 321.5h0M527.5 317.5h0M570.5 321.5h0M525.5 317.5h0M520.5 318.5h0M533.5 317.5h0M529.5 316.5h0M596.5 321.5h0M523.5 316.5h0M542.5 323.5h0M548.5 321.5h0M569.5 318.5h0M596.5 317.5h0M561.5 320.5h0M586.5 322.5h0M513.5 319.5h0M566.5 320.5h0M517.5 315.5h0M587.5 325.5h0M559.5 319.5h0M513.5 315.5h0M585.5 321.5h0M552.5 322.5h0M548.5 318.5h0M508.5 318.5h0M590.5 318.5h0M551.5 320.5h0M586.5 324.5h0M507.5 311.5h0M567.5 318.5h0M537.5 320.5h0M553.5 315.5h0M562.5 323.5h0M582.5 321.5h0M592.5 319.5h0M516.5 321.5h0M585.5 320.5h0M511.5 315.5h0M501.5 311.5h0M530.5 321.5h0M528.5 317.5h0M577.5 324.5h0M556.5 322.5h0M538.5 320.5h0M579.5 324.5h0M593.5 318.5h0M564.5 323.5h0M565.5 322.5h0M586.5 322.5h0M529.5 318.5h0M599.5 319.5h0M517.5 315.5h0M504.5 313.5h0M582.5 323.5h0M517.5 316.5h0M533.5 317.5h0M551.5 318.5h0M511.5 316.5h0M542.5 324.5h0M535.5 314.5h0M508.5 312.5h0M560.5 320.5h0M545.5 319.5h0M515.5 317.5h0M578.5 324.5h0M541.5 320.5h0M502.5 312.5h0M587.5 323.5h0M540.5 322.5h0M509.5 315.5h0M528.5 317.5h0M525.5 319.5h0M504.5 313.5h0M533.5 323.5h0M516.5 317.5h0M521.5 317.5h0M567.5 323.5h0M515.5 320.5h0M502.5 310.5h0M517.5 318.5h0M529.5 317.5h0M516.5 317.5h0M559.5 319.5h0M587.5 322.5h0M583.5 325.5h0M547.5 320.5h0M578.5 322.5h0M579.5 320.5h0M563.5 321.5h0M580.5 322.5h0M537.5 317.5h0M574.5 319.5h0M552.5 318.5h0M573.5 319.5h0M573.5 320.5h0M506.5 312.5h0M583.5 320.5h0M503.5 311.5h0M542.5 319.5h0M559.5 320.5h0M582.5 317.5h0M505.5 313.5h0M567.5 321.5h0M534.5 319.5h0M504.5 313.5h0M533.5 318.5h0M564.5 323.5h0M508.5 319.5h0M584.5 321.5h0M504.5 316.5h0M523.5 317.5h0M532.5 318.5h0M506.5 311.5h0M592.5 318.5h0M596.5 320.5h0M590.5 323.5h0M519.5 320.5h0M583.5 323.5h0M533.5 318.5h0M528.5 323.5h0M568.5 321.5h0M508.5 314.5h0M500.5 309.5h0M593.5 322.5h0M535.5 318.5h0M579.5 323.5h0M542.5 320.5h0M509.5 319.5h0M547.5 319.5h0M517.5 313.5h0M508.5 314.5h0M501.5 310.5h0M540.5 321.5h0M525.5 314.5h0M533.5 320.5h0M596.5 319.5h0M582.5 322.5h0M570.5 323.5h0M524.5 315.5h0M574.5 321.5h0M569.5 321.5h0M552.5 319.5h0M523.5 318.5h0M520.5 318.5h0M541.5 318.5h0M527.5 319.5h0M588.5 322.5h0M546.5 321.5h0M567.5 324.5h0M589.5 323.5h0M562.5 322.5h0M516.5 316.5h0M531.5 316.5h0M592.5 325.5h0M504.5 312.5h0M522.5 322.5h0M561.5 323.5h0M585.5 323.5h0M582.5 326.5h0M573.5 325.5h0M570.5 321.5h0M537.5 319.5h0M506.5 314.5h0M563.5 322.5h0M507.5 309.5h0M579.5 322.5h0M513.5 318.5h0M599.5 319.5h0M516.5 317.5h0M558.5 318.5h0M506.5 313.5h0M598.5 320.5h0M501.5 311.5h0M568.5 323.5h0M584.5 320.5h0M529.5 318.5h0M500.5 313.5h0M503.5 314.5h0M506.5 311.5h0M575.5 322.5h0M552.5 320.5h0M589.5 320.5h0M563.5 320.5h0M559.5 324.5h0M520.5 315.5h0M522.5 315.5h0M597.5 319.5h0M595.5 318.5h0M543.5 319.5h0M579.5 320.5h0M572.5 318.5h0M527.5 319.5h0M519.5 313.5h0M574.5 318.5h0M596.5 319.5h0M598.5 317.5h0M535.5 317.5h0M506.5 316.5h0M531.5 316.5h0M506.5 313.5h0M598.5 320.5h0M530.5 318.5h0M584.5 319.5h0M524.5 316.5h0M595.5 323.5h0M548.5 319.5h0M583.5 320.5h0M559.5 322.5h0M576.5 322.5h0M507.5 315.5h0M508.5 316.5h0M535.5 318.5h0M587.5 320.5h0M590.5 318.5h0M571.5 318.5h0M559.5 318.5h0M504.5 310.5h0M592.5 319.5h0M565.5 321.5h0M561.5 319.5h0M584.5 321.5h0M523.5 318.5h0M561.5 321.5h0M568.5 322.5h0M575.5 322.5h0M509.5 318.5h0M572.5 320.5h0M590.5 322.5h0M562.5 320.5h0M516.5 316.5h0M591.5 320.5h0M510.5 316.5h0M523.5 318.5h0M585.5 325.5h0M558.5 325.5h0M533.5 323.5h0M580.5 318.5h0M564.5 325.5h0M511.5 314.5h0M523.5 314.5h0M581.5 323.5h0M581.5 318.5h0M507.5 310.5h0M552.5 318.5h0M571.5 316.5h0M532.5 317.5h0M506.5 315.5h0M541.5 318.5h0M593.5 322.5h0M573.5 324.5h0M521.5 320.5h0M584.5 317.5h0M566.5 322.5h0M529.5 318.5h0M526.5 319.5h0M517.5 316.5h0M540.5 320.5h0M536.5 320.5h0M528.5 321.5h0M587.5 325.5h0M576.5 323.5h0M549.5 319.5h0M596.5 317.5h0M567.5 318.5h0M595.5 317.5h0M582.5 321.5h0M563.5 321.5h0M569.5 324.5h0M577.5 321.5h0M575.5 326.5h0M587.5 322.5h0M533.5 315.5h0M536.5 318.5h0M524.5 315.5h0M592.5 322.5h0M590.5 324.5h0M544.5 320.5h0M540.5 320.5h0M513.5 313.5h0M597.5 317.5h0M567.5 322.5h0M596.5 322.5h0M563.5 321.5h0M551.5 321.5h0M574.5 324.5h0M588.5 321.5h0M584.5 321.5h0M534.5 318.5h0M550.5 322.5h0M594.5 321.5h0M550.5 324.5h0M580.5 320.5h0M552.5 322.5h0M583.5 322.5h0M506.5 315.5h0M500.5 312.5h0M509.5 317.5h0M543.5 323.5h0M536.5 315.5h0M595.5 321.5h0M599.5 320.5h0M513.5 311.5h0M583.5 322.5h0M550.5 319.5h0M584.5 322.5h0M536.5 316.5h0M577.5 320.5h0M500.5 310.5h0M546.5 320.5h0M533.5 318.5h0M525.5 315.5h0M530.5 323.5h0M541.5 319.5h0M549.5 321.5h0M552.5 321.5h0M573.5 325.5h0M582.5 320.5h0M596.5 323.5h0M566.5 321.5h0M525.5 319.5h0M557.5 324.5h0M543.5 320.5h0M523.5 321.5h0M533.5 321.5h0M522.5 318.5h0M553.5 320.5h0M506.5 313.5h0M554.5 320.5h0M541.5 314.5h0M500.5 310.5h0M527.5 321.5h0M597.5 322.5h0M557.5 322.5h0M506.5 314.5h0M557.5 321.5h0M570.5 323.5h0M513.5 312.5h0M540.5 319.5h0M521.5 318.5h0M554.5 320.5h0M582.5 322.5h0M523.5 314.5h0M513.5 315.5h0M513.5 313.5h0M561.5 327.5h0M506.5 313.5h0M552.5 318.5h0M581.5 317.5h0M576.5 321.5h0M567.5 324.5h0M501.5 309.5h0M543.5 321.5h0M524.5 321.5h0M551.5 321.5h0M515.5 314.5h0M513.5 313.5h0M595.5 320.5h0M588.5 324.5h0M509.5 309.5h0M582.5 324.5h0M506.5 314.5h0M533.5 322.5h0M599.5 318.5h0M594.5 320.5h0M546.5 318.5h0M570.5 321.5h0M538.5 319.5h0M584.5 321.5h0M531.5 322.5h0M520.5 315.5h0M514.5 314.5h0M563.5 321.5h0M555.5 320.5h0M590.5 321.5h0M514.5 312.5h0M580.5 321.5h0M594.5 321.5h0M574.5 322.5h0M511.5 319.5h0M515.5 317.5h0M508.5 314.5h0M533.5 319.5h0M575.5 321.5h0M514.5 314.5h0M544.5 318.5h0M504.5 312.5h0M567.5 319.5h0M509.5 314.5h0M579.5 322.5h0M561.5 319.5h0M519.5 321.5h0M569.5 318.5h0M534.5 321.5h0M552.5 318.5h0M555.5 320.5h0M527.5 315.5h0M541.5 319.5h0M578.5 323.5h0M586.5 319.5h0M584.5 321.5h0M556.5 320.5h0M587.5 321.5h0M514.5 313.5h0M598.5 319.5h0M504.5 312.5h0M589.5 325.5h0M579.5 322.5h0M539.5 319.5h0M579.5 318.5h0M595.5 320.5h0M516.5 316.5h0M564.5 318.5h0M500.5 311.5h0M566.5 321.5h0M506.5 313.5h0M566.5 324.5h0M502.5 309.5h0M540.5 318.5h0M586.5 322.5h0M619.5 311.5h0M612.5 318.5h0M608.5 324.5h0M619.5 318.5h0M625.5 314.5h0M616.5 317.5h0M621.5 310.5h0M631.5 321.5h0M616.5 315.5h0M608.5 318.5h0M606.5 323.5h0M624.5 316.5h0M603.5 321.5h0M619.5 319.5h0M616.5 316.5h0M602.5 320.5h0M647.5 313.5h0M604.5 319.5h0M615.5 320.5h0M605.5 322.5h0M616.5 311.5h0M626.5 312.5h0M639.5 309.5h0M600.5 320.5h0M611.5 321.5h0M611.5 317.5h0M628.5 312.5h0M613.5 321.5h0M600.5 323.5h0M611.5 316.5h0M619.5 321.5h0M628.5 318.5h0M628.5 309.5h0M621.5 318.5h0M622.5 322.5h0M619.5 315.5h0M612.5 311.5h0M623.5 314.5h0M605.5 321.5h0M623.5 318.5h0M600.5 322.5h0M605.5 320.5h0M630.5 312.5h0M617.5 314.5h0M611.5 315.5h0M615.5 319.5h0M602.5 324.5h0M620.5 321.5h0M618.5 315.5h0M607.5 322.5h0M637.5 317.5h0M607.5 316.5h0M602.5 319.5h0M633.5 315.5h0M605.5 318.5h0M603.5 322.5h0M630.5 311.5h0M639.5 313.5h0M605.5 318.5h0M617.5 320.5h0M611.5 321.5h0M646.5 310.5h0M635.5 310.5h0M612.5 316.5h0M607.5 323.5h0M623.5 318.5h0M621.5 313.5h0M621.5 317.5h0M604.5 324.5h0M606.5 321.5h0M607.5 315.5h0M604.5 317.5h0M611.5 317.5h0M629.5 313.5h0M632.5 314.5h0M617.5 315.5h0M600.5 318.5h0M622.5 314.5h0M611.5 320.5h0M635.5 310.5h0M608.5 321.5h0M613.5 315.5h0M618.5 316.5h0M633.5 309.5h0M626.5 313.5h0M610.5 316.5h0M632.5 309.5h0M603.5 317.5h0M621.5 312.5h0M609.5 317.5h0M624.5 318.5h0M626.5 311.5h0M601.5 319.5h0M608.5 319.5h0M609.5 321.5h0M619.5 313.5h0M619.5 311.5h0M611.5 317.5h0M608.5 322.5h0M613.5 317.5h0M613.5 323.5h0M609.5 320.5h0M614.5 314.5h0M607.5 320.5h0M615.5 315.5h0M622.5 320.5h0M615.5 317.5h0M620.5 313.5h0M616.5 320.5h0M619.5 319.5h0M609.5 319.5h0M619.5 315.5h0M605.5 319.5h0M606.5 322.5h0M602.5 319.5h0M615.5 314.5h0M604.5 322.5h0M611.5 315.5h0M614.5 315.5h0M606.5 319.5h0M606.5 315.5h0M631.5 313.5h0M630.5 309.5h0M627.5 312.5h0M624.5 308.5h0M613.5 315.5h0M622.5 315.5h0M632.5 315.5h0M613.5 318.5h0M608.5 319.5h0M600.5 324.5h0M602.5 320.5h0M600.5 320.5h0M635.5 308.5h0M601.5 322.5h0M606.5 315.5h0M632.5 309.5h0M625.5 317.5h0M611.5 322.5h0M609.5 317.5h0M608.5 320.5h0M611.5 325.5h0M622.5 321.5h0M621.5 318.5h0M607.5 321.5h0M611.5 319.5h0M612.5 312.5h0M621.5 317.5h0M628.5 313.5h0M617.5 314.5h0M610.5 319.5h0M638.5 312.5h0M605.5 317.5h0M631.5 309.5h0M616.5 323.5h0M625.5 310.5h0M607.5 321.5h0M620.5 314.5h0M618.5 318.5h0M621.5 315.5h0M613.5 325.5h0M611.5 319.5h0M634.5 309.5h0M613.5 317.5h0M627.5 313.5h0M615.5 315.5h0M619.5 315.5h0M633.5 314.5h0M613.5 315.5h0M626.5 315.5h0M614.5 316.5h0M632.5 311.5h0M625.5 313.5h0M600.5 321.5h0M650.5 312.5h0M631.5 309.5h0M633.5 313.5h0M602.5 317.5h0M615.5 311.5h0M604.5 318.5h0M618.5 319.5h0M601.5 322.5h0M622.5 312.5h0M609.5 314.5h0M616.5 317.5h0M613.5 311.5h0M609.5 311.5h0M637.5 309.5h0M613.5 320.5h0M628.5 310.5h0M601.5 320.5h0M606.5 319.5h0M617.5 315.5h0M684.5 310.5h0M684.5 308.5h0M681.5 310.5h0M100.5 315.5h0M124.5 316.5h0M126.5 315.5h0M104.5 318.5h0M683.5 315.5h0M685.5 316.5h0M688.5 317.5h0M690.5 314.5h0M692.5 318.5h0M695.5 319.5h0M696.5 322.5h0M700.5 318.5h0M687.5 326.5h0M738.5 318.5h0M752.5 324.5h0M757.5 313.5h0M700.5 324.5h0" style="fill:none;stroke:#00e600;stroke-width:3.2;stroke-linecap:square"/>
<path d="M100.5 100.5h0M129.5 100.5h0M100.5 119.5h0M100.5 125.5h0M100.5 141.5h0M102.5 142.5h0M100.5 144.5h0M124.5 141.5h0M128.5 142.5h0M131.5 151.5h0M117.5 153.5h0M130.5 157.5h0M101.5 165.5h0M114.5 164.5h0M123.5 171.5h0M117.5 178.5h0M119.5 178.5h0M124.5 181.5h0M132.5 178.5h0M129.5 185.5h0M134.5 183.5h0M102.5 188.5h0M100.5 192.5h0M124.5 192.5h0M133.5 192.5h0M110.5 198.5h0M122.5 197.5h0M102.5 202.5h0M100.5 206.5h0M100.5 210.5h0M130.5 205.5h0M134.5 205.5h0M131.5 210.5h0M136.5 214.5h0M117.5 210.5h0M115.5 213.5h0M123.5 211.5h0M120.5 218.5h0M119.5 215.5h0M101.5 221.5h0M107.5 224.5h0M131.5 222.5h0M116.5 225.5h0M115.5 231.5h0M120.5 229.5h0M129.5 229.5h0M132.5 228.5h0M100.5 235.5h0M109.5 238.5h0M119.5 236.5h0M120.5 234.5h0M134.5 235.5h0M136.5 238.5h0M116.5 233.5h0M130.5 215.5h0M130.5 200.5h0M369.5 208.5h0M366.5 213.5h0M365.5 216.5h0M368.5 214.5h0M363.5 218.5h0M368.5 222.5h0M366.5 224.5h0M370.5 226.5h0M360.5 228.5h0M365.5 230.5h0M372.5 229.5h0M364.5 234.5h0M369.5 236.5h0M373.5 234.5h0M370.5 238.5h0M366.5 237.5h0M368.5 225.5h0M369.5 232.5h0M367.5 233.5h0M372.5 236.5h0M664.5 100.5h0M666.5 100.5h0M667.5 100.5h0M669.5 100.5h0M670.5 100.5h0M670.5 106.5h0M665.5 110.5h0M662.5 128.5h0M664.5 125.5h0M667.5 124.5h0M670.5 124.5h0M665.5 144.5h0M667.5 151.5h0M666.5 167.5h0M666.5 174.5h0M670.5 173.5h0M663.5 179.5h0M671.5 185.5h0M663.5 196.5h0M668.5 197.5h0M657.5 212.5h0M655.5 224.5h0M659.5 225.5h0M661.5 220.5h0M663.5 216.5h0M662.5 230.5h0M668.5 229.5h0M671.5 225.5h0M667.5 234.5h0M655.5 236.5h0M677.5 232.5h0M685.5 221.5h0M686.5 192.5h0M686.5 195.5h0M686.5 198.5h0M687.5 172.5h0M691.5 182.5h0M689.5 229.5h0M688.5 239.5h0M700.5 100.5h0M702.5 100.5h0M704.5 100.5h0M702.5 129.5h0M704.5 132.5h0M707.5 138.5h0M704.5 146.5h0M704.5 151.5h0M706.5 164.5h0M703.5 181.5h0M706.5 188.5h0M708.5 190.5h0M708.5 197.5h0M710.5 202.5h0M705.5 209.5h0M706.5 222.5h0M708.5 218.5h0M712.5 218.5h0M714.5 221.5h0M710.5 226.5h0M711.5 232.5h0M718.5 100.5h0M718.5 139.5h0M720.5 153.5h0M722.5 163.5h0M721.5 168.5h0M726.5 165.5h0M726.5 171.5h0M717.5 172.5h0M722.5 178.5h0M716.5 192.5h0M715.5 197.5h0M717.5 198.5h0M714.5 207.5h0M722.5 205.5h0M726.5 215.5h0M716.5 222.5h0M719.5 229.5h0M722.5 232.5h0M723.5 236.5h0M730.5 222.5h0M726.5 191.5h0M737.5 100.5h0M726.5 123.5h0M743.5 169.5h0M737.5 191.5h0M742.5 194.5h0M746.5 203.5h0M743.5 216.5h0M732.5 229.5h0M738.5 227.5h0M742.5 227.5h0M749.5 227.5h0M744.5 231.5h0M747.5 234.5h0M698.5 238.5h0M704.5 239.5h0M714.5 237.5h0M732.5 235.5h0M707.5 190.5h0M716.5 191.5h0" style="fill:none;stroke:#e60000;stroke-width:3.2;stroke-linecap:square"/>
</g>
   <g id="patch_3">
    <path d="M 90.5 341.5 
L 90.5 88.5 
" style="fill: none; stroke: #000000; stroke-width: 0.8; stroke-linejoin: miter; stroke-linecap: square"/>
   </g>
   <g id="patch_4">
    <path d="M 765.5 341.5 
L 765.5 88.5 
" style="fill: none; stroke: #000000; stroke-width: 0.8; stroke-linejoin: miter; stroke-linecap: square"/>
   </g>
   <g id="patch_5">
    <path d="M 90.5 341.5 
L 765.5 341.5 
" style="fill: none; stroke: #000000; stroke-width: 0.8; stroke-linejoin: miter; stroke-linecap: square"/>
   </g>
   <g id="patch_6">
    <path d="M 90.5 88.5 
L 765.5 88.5 
" style="fill: none; stroke: #000000; stroke-width: 0.8; stroke-linejoin: miter; stroke-linecap: square"/>
   </g>
   <g id="text_8">
    <text style="font-size: 18px; font-family: 'DejaVu Sans', 'Liberation Sans', sans-serif; text-anchor: middle" x="428" y="82.5" transform="rotate(-0 428 82.5)">ROT (TEC)</text>
   </g>
  </g>
  <g id="axes_2">
   <g id="patch_7">
    <path d="M 90.5 614.5 
L 765.5 614.5 
L 765.5 361.5 
L 90.5 361.5 
z
" style="fill: #ffffff"/>
   </g>
   <g id="matplotlib.axis_3">
    <g id="xtick_14">
     <g id="line2d_39">
      <path d="M 100.5 614.5 
L 100.5 361.5 
" clip-path="url(#p95ba54a909)" style="fill: none; stroke: #b0b0b0; stroke-width: 0.8; stroke-linecap: square"/>
     </g>
     <g id="line2d_40">
      <g>
       <use href="#m1504cfccaf" x="100.5" y="614.5" style="stroke: #000000; stroke-width: 0.8"/>
      </g>
     </g>
    </g>
    <g id="xtick_15">
     <g id="line2d_41">
      <path d="M 146.5 614.5 
L 146.5 361.5 
" clip-path="url(#p95ba54a909)" style="fill: none; stroke: #b0b0b0; stroke-width: 0.8; stroke-linecap: square"/>
     </g>
     <g id="line2d_42">
      <g>
       <use href="#m1504cfccaf" x="146.5" y="614.5" style="stroke: #000000; stroke-width: 0.8"/>
      </g>
     </g>
    </g>
    <g id="xtick_16">
     <g id="line2d_43">
      <path d="M 202.5 614.5 
L 202.5 361.5 
" clip-path="url(#p95ba54a909)" style="fill: none; stroke: #b0b0b0; stroke-width: 0.8; stroke-linecap: square"/>
     </g>
     <g id="line2d_44">
      <g>
       <use href="#m1504cfccaf" x="202.5" y="614.5" style="stroke: #000000; stroke-width: 0.8"/>
      </g>
     </g>
    </g>
    <g id="xtick_17">
     <g id="line2d_45">
      <path d="M 259.5 614.5 
L 259.5 361.5 
" clip-path="url(#p95ba54a909)" style="fill: none; stroke: #b0b0b0; stroke-width: 0.8; stroke-linecap: square"/>
     </g>
     <g id="line2d_46">
      <g>
       <use href="#m1504cfccaf" x="259.5" y="614.5" style="stroke: #000000; stroke-width: 0.8"/>
      </g>
     </g>
    </g>
    <g id="xtick_18">
     <g id="line2d_47">
      <path d="M 315.5 614.5 
L 315.5 361.5 
" clip-path="url(#p95ba54a909)" style="fill: none; stroke: #b0b0b0; stroke-width: 0.8; stroke-linecap: square"/>
     </g>
     <g id="line2d_48">
      <g>
       <use href="#m1504cfccaf" x="315.5" y="614.5" style="stroke: #000000; stroke-width: 0.8"/>
      </g>
     </g>
    </g>
    <g id="xtick_19">
     <g id="line2d_49">
      <path d="M 371.5 614.5 
L 371.5 361.5 
" clip-path="url(#p95ba54a909)" style="fill: none; stroke: #b0b0b0; stroke-width: 0.8; stroke-linecap: square"/>
     </g>
     <g id="line2d_50">
      <g>
       <use href="#m1504cfccaf" x="371.5" y="614.5" style="stroke: #000000; stroke-width: 0.8"/>
      </g>
     </g>
    </g>
    <g id="xtick_20">
     <g id="line2d_51">
      <path d="M 428.5 614.5 
L 428.5 361.5 
" clip-path="url(#p95ba54a909)" style="fill: none; stroke: #b0b0b0; stroke-width: 0.8; stroke-linecap: square"/>
     </g>
     <g id="line2d_52">
      <g>
       <use href="#m1504cfccaf" x="428.5" y="614.5" style="stroke: #000000; stroke-width: 0.8"/>
      </g>
     </g>
    </g>
    <g id="xtick_21">
     <g id="line2d_53">
      <path d="M 484.5 614.5 
L 484.5 361.5 
" clip-path="url(#p95ba54a909)" style="fill: none; stroke: #b0b0b0; stroke-width: 0.8; stroke-linecap: square"/>
     </g>
     <g id="line2d_54">
      <g>
       <use href="#m1504cfccaf" x="484.5" y="614.5" style="stroke: #000000; stroke-width: 0.8"/>
      </g>
     </g>
    </g>
    <g id="xtick_22">
     <g id="line2d_55">
      <path d="M 540.5 614.5 
L 540.5 361.5 
" clip-path="url(#p95ba54a909)" style="fill: none; stroke: #b0b0b0; stroke-width: 0.8; stroke-linecap: square"/>
     </g>
     <g id="line2d_56">
      <g>
       <use href="#m1504cfccaf" x="540.5" y="614.5" style="stroke: #000000; stroke-width: 0.8"/>
      </g>
     </g>
    </g>
    <g id="xtick_23">
     <g id="line2d_57">
      <path d="M 596.5 614.5 
L 596.5 361.5 
" clip-path="url(#p95ba54a909)" style="fill: none; stroke: #b0b0b0; stroke-width: 0.8; stroke-linecap: square"/>
     </g>
     <g id="line2d_58">
      <g>
       <use href="#m1504cfccaf" x="596.5" y="614.5" style="stroke: #000000; stroke-width: 0.8"/>
      </g>
     </g>
    </g>
    <g id="xtick_24">
     <g id="line2d_59">
      <path d="M 652.5 614.5 
L 652.5 361.5 
" clip-path="url(#p95ba54a909)" style="fill: none; stroke: #b0b0b0; stroke-width: 0.8; stroke-linecap: square"/>
     </g>
     <g id="line2d_60">
      <g>
       <use href="#m1504cfccaf" x="652.5" y="614.5" style="stroke: #000000; stroke-width: 0.8"/>
      </g>
     </g>
    </g>
    <g id="xtick_25">
     <g id="line2d_61">
      <path d="M 709.5 614.5 
L 709.5 361.5 
" clip-path="url(#p95ba54a909)" style="fill: none; stroke: #b0b0b0; stroke-width: 0.8; stroke-linecap: square"/>
     </g>
     <g id="line2d_62">
      <g>
       <use href="#m1504cfccaf" x="709.5" y="614.5" style="stroke: #000000; stroke-width: 0.8"/>
      </g>
     </g>
    </g>
    <g id="xtick_26">
     <g id="line2d_63">
      <path d="M 755.5 614.5 
L 755.5 361.5 
" clip-path="url(#p95ba54a909)" style="fill: none; stroke: #b0b0b0; stroke-width: 0.8; stroke-linecap: square"/>
     </g>
     <g id="line2d_64">
      <g>
       <use href="#m1504cfccaf" x="755.5" y="614.5" style="stroke: #000000; stroke-width: 0.8"/>
      </g>
     </g>
    </g>
   </g>
   <g id="matplotlib.axis_4">
    <g id="ytick_7">
     <g id="line2d_65">
      <path d="M 90.5 372.5 
L 765.5 372.5 
" clip-path="url(#p95ba54a909)" style="fill: none; stroke: #b0b0b0; stroke-width: 0.8; stroke-linecap: square"/>
     </g>
     <g id="line2d_66">
      <g>
       <use href="#m5d545ce8f8" x="90.5" y="372.5" style="stroke: #000000; stroke-width: 0.8"/>
      </g>
     </g>
     <g id="text_9">
      <text style="font-size: 15px; font-family: 'DejaVu Sans', 'Liberation Sans', sans-serif; text-anchor: end" x="84.3" y="378.198828" transform="rotate(-0 84.3 378.198828)">100.0</text>
     </g>
    </g>
    <g id="ytick_8">
     <g id="line2d_67">
      <path d="M 90.5 420.5 
L 765.5 420.5 
" clip-path="url(#p95ba54a909)" style="fill: none; stroke: #b0b0b0; stroke-width: 0.8; stroke-linecap: square"/>
     </g>
     <g id="line2d_68">
      <g>
       <use href="#m5d545ce8f8" x="90.5" y="420.5" style="stroke: #000000; stroke-width: 0.8"/>
      </g>
     </g>
     <g id="text_10">
      <text style="font-size: 15px; font-family: 'DejaVu Sans', 'Liberation Sans', sans-serif; text-anchor: end" x="84.3" y="426.198828" transform="rotate(-0 84.3 426.198828)">80.0</text>
     </g>
    </g>
    <g id="ytick_9">
     <g id="line2d_69">
      <path d="M 90.5 469.5 
L 765.5 469.5 
" clip-path="url(#p95ba54a909)" style="fill: none; stroke: #b0b0b0; stroke-width: 0.8; stroke-linecap: square"/>
     </g>
     <g id="line2d_70">
      <g>
       <use href="#m5d545ce8f8" x="90.5" y="469.5" style="stroke: #000000; stroke-width: 0.8"/>
      </g>
     </g>
     <g id="text_11">
      <text style="font-size: 15px; font-family: 'DejaVu Sans', 'Liberation Sans', sans-serif; text-anchor: end" x="84.3" y="475.198828" transform="rotate(-0 84.3 475.198828)">60.0</text>
     </g>
    </g>
    <g id="ytick_10">
     <g id="line2d_71">
      <path d="M 90.5 517.5 
L 765.5 517.5 
" clip-path="url(#p95ba54a909)" style="fill: none; stroke: #b0b0b0; stroke-width: 0.8; stroke-linecap: square"/>
     </g>
     <g id="line2d_72">
      <g>
       <use href="#m5d545ce8f8" x="90.5" y="517.5" style="stroke: #000000; stroke-width: 0.8"/>
      </g>
     </g>
     <g id="text_12">
      <text style="font-size: 15px; font-family: 'DejaVu Sans', 'Liberation Sans', sans-serif; text-anchor: end" x="84.3" y="523.198828" transform="rotate(-0 84.3 523.198828)">40.0</text>
     </g>
    </g>
    <g id="ytick_11">
     <g id="line2d_73">
      <path d="M 90.5 565.5 
L 765.5 565.5 
" clip-path="url(#p95ba54a909)" style="fill: none; stroke: #b0b0b0; stroke-width: 0.8; stroke-linecap: square"/>
     </g>
     <g id="line2d_74">
      <g>
       <use href="#m5d545ce8f8" x="90.5" y="565.5" style="stroke: #000000; stroke-width: 0.8"/>
      </g>
     </g>
     <g id="text_13">
      <text style="font-size: 15px; font-family: 'DejaVu Sans', 'Liberation Sans', sans-serif; text-anchor: end" x="84.3" y="571.198828" transform="rotate(-0 84.3 571.198828)">20.0</text>
     </g>
    </g>
    <g id="ytick_12">
     <g id="line2d_75">
      <path d="M 90.5 614.5 
L 765.5 614.5 
" clip-path="url(#p95ba54a909)" style="fill: none; stroke: #b0b0b0; stroke-width: 0.8; stroke-linecap: square"/>
     </g>
     <g id="line2d_76">
      <g>
       <use href="#m5d545ce8f8" x="90.5" y="614.5" style="stroke: #000000; stroke-width: 0.8"/>
      </g>
     </g>
     <g id="text_14">
      <text style="font-size: 15px; font-family: 'DejaVu Sans', 'Liberation Sans', sans-serif; text-anchor: end" x="84.3" y="620.198828" transform="rotate(-0 84.3 620.198828)">0.0</text>
     </g>
    </g>
    <g id="text_15">
     <text style="font-size: 15px; font-family: 'DejaVu Sans', 'Liberation Sans', sans-serif; text-anchor: middle" x="31.038281" y="488" transform="rotate(-90 31.038281 488)">TEC [TECU]</text>
    </g>
   </g>
   <g id="tecdata">
<path d="M146.5 567L147.2 567.1L147.8 567.2L148.5 567.2L149.2 567.3L149.8 567.4L150.5 567.5L151.2 567.5L151.9 567.6L152.5 567.7L153.2 567.8L153.9 567.8L154.5 567.9L155.2 568L155.9 568.1L156.5 568.1L157.2 568.2L157.9 568.3L158.5 568.4L159.2 568.4L159.9 568.5L160.5 568.6L161.2 568.6L161.9 568.7L162.6 568.8L163.2 568.9L163.9 568.9L164.6 569L165.2 569.1L165.9 569.1L166.6 569.2L167.2 569.3L167.9 569.3L168.6 569.4L169.2 569.5L169.9 569.5L170.6 569.6L171.2 569.7L171.9 569.7L172.6 569.8L173.3 569.8L173.9 569.9L174.6 570L175.3 570L175.9 570.1L176.6 570.2L177.3 570.2L177.9 570.3L178.6 570.4L179.3 570.4L179.9 570.5L180.6 570.6L181.3 570.6L182 570.7L182.6 570.8L183.3 570.8L184 570.9L184.6 571L185.3 571.1L186 571.1L186.6 571.2L187.3 571.3L188 571.3L188.6 571.4L189.3 571.5L190 571.5L190.6 571.6L191.3 571.6L192 571.7L192.7 571.7L193.3 571.8L194 571.8L194.7 571.8L195.3 571.9L196 571.9L196.7 571.9L197.3 572L198 572L198.7 572L199.3 572L200 572L200.7 572L201.4 572L202 572L202.7 572L203.4 571.9L204 571.9L204.7 571.9L205.4 571.8L206 571.8L206.7 571.8L207.4 571.7L208 571.7L208.7 571.6L209.4 571.6L210 571.5L210.7 571.4L211.4 571.4L212.1 571.3L212.7 571.3L213.4 571.2L214.1 571.1L214.7 571.1L215.4 571L216.1 570.9L216.7 570.8L217.4 570.8L218.1 570.7L218.7 570.6L219.4 570.6L220.1 570.5L220.7 570.4L221.4 570.3L222.1 570.3L222.8 570.2L223.4 570.1L224.1 570.1L224.8 570L225.4 570L226.1 569.9L226.8 569.8L227.4 569.8L228.1 569.7L228.8 569.6L229.4 569.5L230.1 569.4L230.8 569.4L231.5 569.3L232.1 569.2L232.8 569.1L233.5 569L234.1 568.9L234.8 568.8L235.5 568.7L236.1 568.6L236.8 568.6L237.5 568.5L238.1 568.4L238.8 568.3L239.5 568.2L240.1 568.1L240.8 568.1L241.5 568L242.2 567.9L242.8 567.9L243.5 567.8L244.2 567.8L244.8 567.7L245.5 567.7L246.2 567.6L246.8 567.6L247.5 567.5L248.2 567.5L248.8 567.5L249.5 567.5L250.2 567.5L250.8 567.5L251.5 567.5L252.2 567.5L252.9 567.5L253.5 567.5L254.2 567.5L254.9 567.5L255.5 567.5L256.2 567.5L256.9 567.5L257.5 567.5L258.2 567.5L258.9 567.5L259.5 567.5L260.2 567.5L260.9 567.5L261.6 567.5L262.2 567.5L262.9 567.5L263.6 567.5L264.2 567.5L264.9 567.5L265.6 567.5L266.2 567.5L266.9 567.5L267.6 567.5L268.2 567.5L268.9 567.5L269.6 567.5L270.2 567.5L270.9 567.5L271.6 567.5L272.3 567.5L272.9 567.5L273.6 567.5L274.3 567.6L274.9 567.6L275.6 567.6L276.3 567.6L276.9 567.6L277.6 567.7L278.3 567.7L278.9 567.7L279.6 567.7L280.3 567.8L281 567.8L281.6 567.8L282.3 567.8L283 567.9L283.6 567.9L284.3 567.9L285 567.9L285.6 567.9L286.3 568L287 568L287.6 568L288.3 568L289 568L289.6 568L290.3 568L291 568L291.7 568L292.3 568L293 567.9L293.7 567.9L294.3 567.8L295 567.8L295.7 567.7L296.3 567.7L297 567.6L297.7 567.5L298.3 567.4L299 567.3L299.7 567.2L300.3 567.1L301 567L301.7 566.9L302.4 566.8L303 566.7L303.7 566.5L304.4 566.4L305 566.3L305.7 566.1L306.4 566L307 565.8L307.7 565.7L308.4 565.5L309 565.4L309.7 565.2L310.4 565L311.1 564.9L311.7 564.7L312.4 564.5L313.1 564.4L313.7 564.2L314.4 564L315.1 563.9L315.7 563.7L316.4 563.5L317.1 563.3L317.7 563.1L318.4 562.9L319.1 562.6L319.7 562.3L320.4 562.1L321.1 561.8L321.8 561.5L322.4 561.2L323.1 560.8L323.8 560.5L324.4 560.1L325.1 559.8L325.8 559.4L326.4 559L327.1 558.6L327.8 558.2L328.4 557.8L329.1 557.4L329.8 557L330.5 556.6L331.1 556.2L331.8 555.7L332.5 555.3L333.1 554.8L333.8 554.4L334.5 553.9L335.1 553.3L335.8 552.8L336.5 552.2L337.1 551.6L337.8 550.9L338.5 550.3L339.1 549.6L339.8 549L340.5 548.3L341.2 547.7L341.8 547L342.5 546.3L343.2 545.7L343.8 545.1L344.5 544.4L345.2 543.9L345.8 543.3L346.5 542.7L347.2 542.2L347.8 541.7L348.5 541.2L349.2 540.6L349.8 540.1L350.5 539.5L351.2 538.8L351.9 538.2L352.5 537.4L353.2 536.6L353.9 535.7L354.5 534.7L355.2 533.7L355.9 532.7L356.5 531.6L357.2 530.5L357.9 529.3L358.5 528.1L359.2 526.8L359.9 525.4L360.6 524L361.2 522.5L361.9 521.1L362.6 519.5L363.2 518L363.9 516.3L364.6 514.4L365.2 512.4L365.9 510.4L366.6 508.3L367.2 506.3L367.9 504.4L368.6 502.5L369.2 500.6L369.9 498.7L370.6 496.8L371.3 494.8L371.9 492.8L372.6 490.8L373.3 488.9L373.9 487.2L374.6 485.5L375.3 484L375.9 482.4L376.6 481L377.3 479.6L377.9 478.3L378.6 477.1L379.3 475.9L379.9 474.7L380.6 473.6L381.3 472.6L382 471.6L382.6 470.6L383.3 469.8L384 469L384.6 468.2L385.3 467.5L386 466.9L386.6 466.3L387.3 465.7L388 465.2L388.6 464.6L389.3 464.1L390 463.5L390.7 462.9L391.3 462.3L392 461.7L392.7 461.1L393.3 460.5L394 459.9L394.7 459.3L395.3 458.7L396 458L396.7 457.4L397.3 456.7L398 456.1L398.7 455.4L399.3 454.7L400 454L400.7 453.3L401.4 452.6L402 451.8L402.7 451.1L403.4 450.2L404 449.4L404.7 448.5L405.4 447.6L406 446.6L406.7 445.6L407.4 444.6L408 443.5L408.7 442.3L409.4 441.2L410.1 439.9L410.7 438.7L411.4 437.4L412.1 436L412.7 434.6L413.4 433.1L414.1 431.5L414.7 429.7L415.4 427.8L416.1 425.8L416.7 423.7L417.4 421.5L418.1 419.4L418.7 417.2L419.4 415.1L420.1 413L420.8 411L421.4 409L422.1 407L422.8 405L423.4 402.9L424.1 400.9L424.8 398.9L425.4 396.8L426.1 394.7L426.8 392.6L427.4 390.6L428.1 388.7L428.8 386.9L429.4 385.1L430.1 383.3L430.8 381.6L431.5 380L432.1 378.3L432.8 376.8L433.5 375.3L434.1 373.8L434.8 372.4M249.3 560.3L250 560.5L250.6 560.7L251.3 560.9L252 561.2L252.7 561.4L253.3 561.6L254 561.8L254.7 562L255.4 562.2L256 562.4L256.7 562.6L257.4 562.8L258 563L258.7 563.1L259.4 563.3L260.1 563.5L260.7 563.7L261.4 563.9L262.1 564.1L262.7 564.3L263.4 564.5L264.1 564.7L264.8 564.9L265.4 565L266.1 565.2L266.8 565.4L267.5 565.6L268.1 565.7L268.8 565.9L269.5 566L270.1 566.1L270.8 566.2L271.5 566.3L272.2 566.3L272.8 566.4L273.5 566.5L274.2 566.5L274.9 566.6L275.5 566.7L276.2 566.7L276.9 566.8L277.5 566.9L278.2 566.9L278.9 567L279.6 567L280.2 567.1L280.9 567.1L281.6 567.2L282.2 567.2L282.9 567.3L283.6 567.3L284.3 567.4L284.9 567.4L285.6 567.4L286.3 567.4L287 567.5L287.6 567.5L288.3 567.5L289 567.5L289.6 567.5L290.3 567.5L291 567.5L291.7 567.5L292.3 567.4L293 567.4L293.7 567.3L294.4 567.2L295 567.1L295.7 567L296.4 566.9L297 566.8L297.7 566.6L298.4 566.5L299.1 566.3L299.7 566.2L300.4 566L301.1 565.8L301.7 565.6L302.4 565.4L303.1 565.2L303.8 565L304.4 564.8L305.1 564.6L305.8 564.4L306.5 564.1L307.1 563.9L307.8 563.6L308.5 563.4L309.1 563.1L309.8 562.9L310.5 562.6L311.2 562.3L311.8 562.1L312.5 561.8L313.2 561.5L313.9 561.3L314.5 561L315.2 560.7L315.9 560.4L316.5 560.1L317.2 559.8L317.9 559.5L318.6 559.1L319.2 558.7L319.9 558.3L320.6 557.9L321.2 557.5L321.9 557L322.6 556.5L323.3 556L323.9 555.5L324.6 555L325.3 554.5L326 554L326.6 553.4L327.3 552.9L328 552.3L328.6 551.7L329.3 551.1L330 550.6L330.7 550L331.3 549.4L332 548.8L332.7 548.2L333.4 547.6L334 547L334.7 546.3L335.4 545.7L336 545L336.7 544.3L337.4 543.6L338.1 542.8L338.7 542L339.4 541.2L340.1 540.4L340.7 539.5L341.4 538.5L342.1 537.4L342.8 536.4L343.4 535.3L344.1 534.2L344.8 533.2L345.5 532.3L346.1 531.4L346.8 530.6L347.5 529.8L348.1 529L348.8 528.2L349.5 527.4L350.2 526.5L350.8 525.5L351.5 524.4L352.2 523.2L352.9 522L353.5 520.6L354.2 519.1L354.9 517.5L355.5 515.8L356.2 514L356.9 512.1L357.6 510.1L358.2 508L358.9 505.9L359.6 503.4L360.2 500.6L360.9 497.7L361.6 494.6L362.3 491.2L362.9 487.5L363.6 483.3L364.3 478L365 472.4L365.6 467.1L366.3 462M349 482.3L349.7 481L350.3 479.7L351 478.4L351.7 477L352.3 475.5L353 474L353.7 472.4L354.3 470.8L355 469.1L355.7 467.3L356.4 465.5L357 463.7L357.7 461.9L358.4 460L359 458L359.7 456L360.4 454L361 451.9L361.7 449.9L362.4 447.9L363 445.8L363.7 443.7L364.4 441.7L365 439.8L365.7 438L366.4 436.3L367 434.6L367.7 433.1L368.4 431.7L369 430.6L369.7 429.6L370.4 428.6L371.1 427.7L371.7 427.1L372.4 426.9L373.1 426.9L373.7 427L374.4 427.1L375.1 427.2L375.7 427.4L376.4 427.7L377.1 428.2L377.7 428.9L378.4 429.7L379.1 430.6L379.7 431.6L380.4 432.7L381.1 434.2L381.7 435.8L382.4 437.5L383.1 439.2L383.8 440.9L384.4 442.4L385.1 443.8L385.8 445L386.4 446.1L387.1 447.3L387.8 448.3L388.4 449.4L389.1 450.4L389.8 451.4L390.4 452.4L391.1 453.3L391.8 454.2L392.4 455.1L393.1 456L393.8 456.9L394.4 457.7L395.1 458.6L395.8 459.4L396.4 460.2L397.1 461L397.8 461.8L398.5 462.5L399.1 463.3L399.8 464.1L400.5 464.9L401.1 465.7L401.8 466.5L402.5 467.2L403.1 467.8L403.8 468.4L404.5 469L405.1 469.4L405.8 469.8L406.5 470.3L407.1 470.6L407.8 471L408.5 471.3L409.1 471.7L409.8 472L410.5 472.3L411.2 472.6L411.8 472.9L412.5 473.2L413.2 473.6L413.8 473.9L414.5 474.2L415.2 474.5L415.8 474.8L416.5 475L417.2 475.3L417.8 475.6L418.5 475.9L419.2 476.2L419.8 476.5L420.5 476.8L421.2 477.2L421.8 477.6L422.5 478L423.2 478.5L423.9 479L424.5 479.5L425.2 480.1L425.9 480.7L426.5 481.4L427.2 482L427.9 482.7L428.5 483.4L429.2 484.2L429.9 484.9L430.5 485.7L431.2 486.5L431.9 487.2L432.5 488L433.2 488.8L433.9 489.6L434.5 490.4L435.2 491.3L435.9 492.1L436.5 493L437.2 494L437.9 494.9L438.6 495.8L439.2 496.8L439.9 497.8L440.6 498.8L441.2 499.7L441.9 500.7L442.6 501.7L443.2 502.7L443.9 503.7L444.6 504.6L445.2 505.6L445.9 506.6L446.6 507.6L447.2 508.7L447.9 509.7L448.6 510.8L449.2 511.8L449.9 512.9L450.6 514L451.3 515L451.9 516.1L452.6 517.1L453.3 518.1L453.9 519.1L454.6 520.1L455.3 521.1L455.9 522L456.6 522.9L457.3 523.7L457.9 524.6L458.6 525.4L459.3 526.1L459.9 526.9L460.6 527.6L461.3 528.3L461.9 529.1L462.6 529.7L463.3 530.4L463.9 531.1L464.6 531.8L465.3 532.4L466 533.1L466.6 533.7L467.3 534.3L468 534.9L468.6 535.6L469.3 536.2L470 536.8L470.6 537.4L471.3 538.1L472 538.7L472.6 539.3L473.3 540L474 540.6L474.6 541.3L475.3 541.9L476 542.6L476.6 543.3L477.3 544L478 544.7L478.7 545.5L479.3 546.2L480 547L480.7 547.7L481.3 548.4L482 549.1L482.7 549.8L483.3 550.5L484 551.1L484.7 551.7L485.3 552.3L486 552.8L486.7 553.3L487.3 553.7L488 554.1L488.7 554.5L489.3 554.9L490 555.3L490.7 555.7L491.3 556.1L492 556.4L492.7 556.7L493.4 557.1L494 557.4L494.7 557.7L495.4 558L496 558.3L496.7 558.6L497.4 558.8L498 559.1L498.7 559.3L499.4 559.6L500 559.8L500.7 560L501.4 560.2L502 560.4L502.7 560.6L503.4 560.8L504 561L504.7 561.2L505.4 561.4L506.1 561.5L506.7 561.7L507.4 561.9L508.1 562.1L508.7 562.3L509.4 562.5L510.1 562.6L510.7 562.8L511.4 562.9L512.1 563.1L512.7 563.2L513.4 563.4L514.1 563.5L514.7 563.6L515.4 563.7L516.1 563.8L516.7 563.9L517.4 564L518.1 564.1L518.8 564.1L519.4 564.2L520.1 564.2L520.8 564.2L521.4 564.2L522.1 564.2L522.8 564.2L523.4 564.2L524.1 564.2L524.8 564.2L525.4 564.2L526.1 564.2L526.8 564.2L527.4 564.2L528.1 564.2L528.8 564.2L529.4 564.2L530.1 564.2L530.8 564.2L531.4 564.2L532.1 564.2L532.8 564.2L533.5 564.2L534.1 564.2L534.8 564.2L535.5 564.2L536.1 564.2L536.8 564.2L537.5 564.2L538.1 564.2L538.8 564.2L539.5 564.2L540.1 564.2L540.8 564.2L541.5 564.2L542.1 564.2L542.8 564.2L543.5 564.2L544.1 564.2L544.8 564.2L545.5 564.2L546.2 564.2L546.8 564.2L547.5 564.2L548.2 564.2L548.8 564.2L549.5 564.2L550.2 564.2L550.8 564.2L551.5 564.2L552.2 564.2L552.8 564.2L553.5 564.2L554.2 564.2L554.8 564.3L555.5 564.3L556.2 564.4L556.8 564.4L557.5 564.5L558.2 564.5L558.8 564.6L559.5 564.6L560.2 564.7L560.9 564.8L561.5 564.8L562.2 564.9L562.9 565L563.5 565L564.2 565.1L564.9 565.1L565.5 565.2L566.2 565.2L566.9 565.3L567.5 565.3L568.2 565.3L568.9 565.3L569.5 565.3L570.2 565.3L570.9 565.3L571.5 565.3L572.2 565.2L572.9 565.2L573.6 565.2L574.2 565.2L574.9 565.1L575.6 565.1L576.2 565.1L576.9 565L577.6 565L578.2 564.9L578.9 564.9L579.6 564.8L580.2 564.8L580.9 564.7L581.6 564.6L582.2 564.6L582.9 564.5L583.6 564.4L584.2 564.4L584.9 564.3L585.6 564.2L586.2 564.2L586.9 564.1L587.6 564L588.3 563.9L588.9 563.7L589.6 563.6L590.3 563.4L590.9 563.2L591.6 563L592.3 562.8L592.9 562.6L593.6 562.4L594.3 562.1L594.9 561.9L595.6 561.6L596.3 561.4L596.9 561.1L597.6 560.8L598.3 560.5L598.9 560.3L599.6 560L600.3 559.7L601 559.5L601.6 559.2L602.3 559L603 558.7L603.6 558.5L604.3 558.2L605 558L605.6 557.8L606.3 557.5L607 557.2L607.6 557L608.3 556.7L609 556.4L609.6 556.1L610.3 555.8L611 555.5L611.6 555.2L612.3 555L613 554.7L613.7 554.5L614.3 554.3L615 554.1L615.7 553.9L616.3 553.7L617 553.6L617.7 553.5L618.3 553.4L619 553.4L619.7 553.4L620.3 553.3L621 553.3L621.7 553.3L622.3 553.3L623 553.3L623.7 553.2L624.3 553.2L625 553.2L625.7 553.2L626.3 553.2L627 553.2L627.7 553.2L628.4 553.2L629 553.2L629.7 553.1L630.4 553.1L631 553.1L631.7 553.1L632.4 553.1L633 553.1L633.7 553.1L634.4 553.1L635 553.1L635.7 553L636.4 553L637 553L637.7 553L638.4 553L639 552.9L639.7 552.9L640.4 552.9L641.1 552.8L641.7 552.8L642.4 552.7L643.1 552.6L643.7 552.5L644.4 552.3L645.1 552.2L645.7 552L646.4 551.9L647.1 551.7L647.7 551.5L648.4 551.3L649.1 551.1L649.7 550.9L650.4 550.7L651.1 550.5L651.7 550.2L652.4 550L653.1 549.8L653.7 549.5L654.4 549.3L655.1 549L655.8 548.7L656.4 548.3L657.1 547.9L657.8 547.4L658.4 546.9L659.1 546.3L659.8 545.8L660.4 545.3L661.1 544.8L661.8 544.4L662.4 544.1L663.1 543.9L663.8 543.7L664.4 543.8L665.1 544.7L665.8 546.3L666.4 548.1L667.1 549.6L667.8 550.7L668.5 551.7L669.1 552.6L669.8 553.4L670.5 553.8L671.1 554.1L671.8 554.3L672.5 554.4L673.1 554.6L673.8 554.7L674.5 554.8L675.1 554.9L675.8 555.1L676.5 555.2L677.1 555.4L677.8 555.7L678.5 556L679.1 556.4L679.8 556.7L680.5 557.1L681.1 557.3L681.8 557.6L682.5 557.7L683.2 557.6L683.8 556.8L684.5 555.3L685.2 553.5L685.8 551.7L686.5 550.2L687.2 549.2L687.8 549.2L688.5 549.9L689.2 551.1L689.8 552.6L690.5 554L691.2 555.2L691.8 556L692.5 556.1L693.2 555.8L693.8 555.4L694.5 554.9L695.2 554.2L695.9 553.4L696.5 552.6L697.2 551.8L697.9 550.6L698.5 549L699.2 547.3L699.9 545.7L700.5 544.5L701.2 543.8L701.9 543.8L702.5 544.1L703.2 544.6L703.9 545.4L704.5 546.2L705.2 547.1L705.9 547.9L706.5 548.7L707.2 549.7L707.9 550.7L708.6 551.8L709.2 552.8L709.9 553.7L710.6 554.3L711.2 554.6L711.9 554.9L712.6 555.1L713.2 555.3L713.9 555.4L714.6 555.5L715.2 555.7L715.9 555.8L716.6 556L717.2 556.1L717.9 556.3L718.6 556.5L719.2 556.7L719.9 556.9L720.6 557.2L721.2 557.5L721.9 557.8L722.6 558.2L723.3 558.7L723.9 559.2L724.6 559.8L725.3 560.4L725.9 560.9L726.6 561.5L727.3 562.2L727.9 562.8L728.6 563.4L729.3 563.8L729.9 564L730.6 564L731.3 564L731.9 564L732.6 564L733.3 564L733.9 564L734.6 564L735.3 564L736 564L736.6 564L737.3 564L738 563.9L738.6 563.8L739.3 563.6L740 563.4L740.6 563.1L741.3 562.9L742 562.6L742.6 562.4L743.3 562.2L744 562.1L744.6 562L745.3 562L746 562.3L746.6 562.7L747.3 563.2L748 563.7L748.6 564.3L749.3 564.7L750 565L750.7 565.2L751.3 565.3L752 565.5L752.7 565.6L753.3 565.8L754 565.9L754.7 565.9L755.3 566L756 566M132.7 585.3L133.4 585.1L134 584.9L134.7 584.7L135.4 584.6L136 584.4L136.7 584.2L137.4 584L138.1 583.9L138.7 583.7L139.4 583.5L140.1 583.4L140.7 583.2L141.4 583.1L142.1 582.9L142.7 582.8L143.4 582.7L144.1 582.6L144.7 582.4L145.4 582.3L146.1 582.2L146.8 582.1L147.4 582L148.1 581.8L148.8 581.7L149.4 581.6L150.1 581.5L150.8 581.4L151.4 581.3L152.1 581.2L152.8 581.1L153.4 581L154.1 580.9L154.8 580.8L155.5 580.7L156.1 580.6L156.8 580.5L157.5 580.5L158.1 580.4L158.8 580.3L159.5 580.2L160.1 580.1L160.8 580L161.5 580L162.1 579.9L162.8 579.8L163.5 579.7L164.2 579.6L164.8 579.6L165.5 579.5L166.2 579.4L166.8 579.4L167.5 579.3L168.2 579.2L168.8 579.2L169.5 579.1L170.2 579L170.8 579L171.5 578.9L172.2 578.8L172.9 578.8L173.5 578.7L174.2 578.7L174.9 578.6L175.5 578.5L176.2 578.5L176.9 578.4L177.5 578.3L178.2 578.3L178.9 578.2L179.6 578.1L180.2 578.1L180.9 578L181.6 577.9L182.2 577.9L182.9 577.8L183.6 577.7L184.2 577.7L184.9 577.6L185.6 577.6L186.2 577.5L186.9 577.4L187.6 577.4L188.3 577.3L188.9 577.2L189.6 577.2L190.3 577.1L190.9 577L191.6 577L192.3 576.9L192.9 576.8L193.6 576.8L194.3 576.7L194.9 576.6L195.6 576.5L196.3 576.4L197 576.4L197.6 576.3L198.3 576.2L199 576.1L199.6 576L200.3 575.9L201 575.8L201.6 575.7L202.3 575.7L203 575.6L203.6 575.5L204.3 575.4L205 575.3L205.7 575.1L206.3 575L207 574.9L207.7 574.8L208.3 574.7L209 574.6L209.7 574.5L210.3 574.4L211 574.3L211.7 574.2L212.3 574.1L213 574L213.7 573.9L214.4 573.8L215 573.7L215.7 573.6L216.4 573.5L217 573.4L217.7 573.3L218.4 573.2L219 573.1L219.7 573L220.4 572.9L221 572.8L221.7 572.7L222.4 572.6L223.1 572.5L223.7 572.4L224.4 572.3L225.1 572.2L225.7 572.1L226.4 572L227.1 571.9L227.7 571.8L228.4 571.7L229.1 571.6L229.7 571.5L230.4 571.4L231.1 571.3L231.8 571.2L232.4 571.1L233.1 571L233.8 570.9L234.4 570.8L235.1 570.7L235.8 570.5L236.4 570.4L237.1 570.3L237.8 570.2L238.4 570.1L239.1 570L239.8 569.9L240.5 569.8L241.1 569.7L241.8 569.6L242.5 569.5L243.1 569.4L243.8 569.3L244.5 569.2L245.1 569.1L245.8 569L246.5 568.9L247.1 568.8L247.8 568.7L248.5 568.6L249.2 568.5L249.8 568.4L250.5 568.3L251.2 568.2L251.8 568.1L252.5 568L253.2 567.9L253.8 567.8L254.5 567.7L255.2 567.6L255.8 567.5L256.5 567.4L257.2 567.3L257.9 567.2L258.5 567.1L259.2 567L259.9 566.9L260.5 566.8L261.2 566.7L261.9 566.7L262.5 566.6L263.2 566.5L263.9 566.4L264.6 566.3L265.2 566.3L265.9 566.2L266.6 566.2L267.2 566.1L267.9 566.1L268.6 566L269.2 566L269.9 566L270.6 566L271.2 566L271.9 566L272.6 566L273.3 566L273.9 565.9L274.6 565.9L275.3 565.9L275.9 565.9L276.6 565.9L277.3 565.9L277.9 565.9L278.6 565.9L279.3 565.9L279.9 565.9L280.6 565.9L281.3 565.9L282 565.9L282.6 565.9L283.3 565.9L284 565.9L284.6 565.9L285.3 565.9L286 565.9L286.6 565.8L287.3 565.8L288 565.8L288.6 565.8L289.3 565.8L290 565.8L290.7 565.8L291.3 565.8L292 565.7L292.7 565.7L293.3 565.6L294 565.6L294.7 565.5L295.3 565.5L296 565.4L296.7 565.3L297.3 565.2L298 565.1L298.7 565L299.4 564.9L300 564.8L300.7 564.7L301.4 564.5L302 564.4L302.7 564.3L303.4 564.1L304 564L304.7 563.8L305.4 563.7L306 563.5L306.7 563.3L307.4 563.1L308.1 563L308.7 562.8L309.4 562.6L310.1 562.4L310.7 562.2L311.4 562L312.1 561.7L312.7 561.5L313.4 561.3L314.1 561.1L314.7 560.8L315.4 560.6L316.1 560.4L316.8 560.1L317.4 559.7L318.1 559.3L318.8 558.8L319.4 558.3L320.1 557.8L320.8 557.2L321.4 556.6L322.1 555.9L322.8 555.2L323.4 554.5L324.1 553.8L324.8 553L325.5 552.2L326.1 551.4L326.8 550.6L327.5 549.8L328.1 549L328.8 548.1L329.5 547.3L330.1 546.4L330.8 545.6L331.5 544.7L332.1 543.9L332.8 543.1L333.5 542.3L334.2 541.4L334.8 540.6L335.5 539.7L336.2 538.8L336.8 537.9L337.5 536.9L338.2 535.9L338.8 534.9L339.5 533.8L340.2 532.7L340.9 531.5L341.5 530.1L342.2 528.7L342.9 527.3L343.5 525.8L344.2 524.4L344.9 523.1L345.5 521.8L346.2 520.6L346.9 519.5L347.5 518.4L348.2 517.3L348.9 516.1L349.6 515L350.2 513.7L350.9 512.4L351.6 510.9L352.2 509.3L352.9 507.5L353.6 505.4L354.2 503.3L354.9 501.1L355.6 498.8L356.2 496.5L356.9 494.3L357.6 492.2L358.3 490L358.9 487.8L359.6 485.6L360.3 483.4L360.9 481.1L361.6 478.8L362.3 476.4L362.9 473.9L363.6 471.3L364.3 468.6L364.9 465.9L365.6 463L366.3 459.7L367 456.2L367.6 453L368.3 450.2L369 447.6L369.6 445L370.3 442.4L371 439.6L371.6 436.9L372.3 434.3L373 431.9L373.6 429.7L374.3 428.3L375 427.3L375.7 426.1L376.3 424.6L377 422.9L377.7 420.9L378.3 418.5L379 415M136.2 588L136.9 587.9L137.5 587.8L138.2 587.7L138.9 587.6L139.5 587.5L140.2 587.4L140.9 587.2L141.5 587.1L142.2 587L142.9 586.9L143.5 586.8L144.2 586.7L144.9 586.6L145.6 586.5L146.2 586.4L146.9 586.3L147.6 586.2L148.2 586.1L148.9 586L149.6 585.9L150.2 585.8L150.9 585.7L151.6 585.6L152.2 585.5L152.9 585.5L153.6 585.4L154.2 585.3L154.9 585.2L155.6 585.1L156.2 585L156.9 584.9L157.6 584.8L158.2 584.7L158.9 584.7L159.6 584.6L160.2 584.5L160.9 584.4L161.6 584.3L162.2 584.3L162.9 584.2L163.6 584.1L164.3 584L164.9 584L165.6 583.9L166.3 583.8L166.9 583.7L167.6 583.7L168.3 583.6L168.9 583.5L169.6 583.4L170.3 583.4L170.9 583.3L171.6 583.2L172.3 583.2L172.9 583.1L173.6 583L174.3 583L174.9 582.9L175.6 582.8L176.3 582.8L176.9 582.7L177.6 582.6L178.3 582.6L178.9 582.5L179.6 582.4L180.3 582.4L180.9 582.3L181.6 582.2L182.3 582.2L183 582.1L183.6 582.1L184.3 582L185 581.9L185.6 581.9L186.3 581.8L187 581.8L187.6 581.7L188.3 581.6L189 581.6L189.6 581.5L190.3 581.5L191 581.4L191.6 581.3L192.3 581.3L193 581.2L193.6 581.2L194.3 581.1L195 581L195.6 581L196.3 580.9L197 580.9L197.6 580.8L198.3 580.8L199 580.7L199.6 580.7L200.3 580.6L201 580.6L201.7 580.5L202.3 580.5L203 580.4L203.7 580.4L204.3 580.3L205 580.3L205.7 580.2L206.3 580.2L207 580.1L207.7 580.1L208.3 580L209 580L209.7 579.9L210.3 579.9L211 579.9L211.7 579.8L212.3 579.8L213 579.7L213.7 579.7L214.3 579.6L215 579.6L215.7 579.5L216.3 579.5L217 579.5L217.7 579.4L218.4 579.4L219 579.3L219.7 579.3L220.4 579.2L221 579.2L221.7 579.1L222.4 579.1L223 579L223.7 579L224.4 578.9L225 578.9L225.7 578.8L226.4 578.7L227 578.7L227.7 578.6L228.4 578.6L229 578.5L229.7 578.4L230.4 578.4L231 578.3L231.7 578.3L232.4 578.2L233 578.1L233.7 578L234.4 578L235 577.9L235.7 577.8L236.4 577.7L237.1 577.6L237.7 577.5L238.4 577.4L239.1 577.3L239.7 577.3L240.4 577.2L241.1 577.1L241.7 577L242.4 576.8L243.1 576.7L243.7 576.6L244.4 576.5L245.1 576.4L245.7 576.3L246.4 576.2L247.1 576.1L247.7 576L248.4 575.9L249.1 575.8L249.7 575.6L250.4 575.5L251.1 575.4L251.7 575.3L252.4 575.1L253.1 575L253.7 574.9L254.4 574.7L255.1 574.6L255.8 574.4L256.4 574.3L257.1 574.1L257.8 573.9L258.4 573.8L259.1 573.6L259.8 573.5L260.4 573.3L261.1 573.1L261.8 573L262.4 572.8L263.1 572.7L263.8 572.5L264.4 572.4L265.1 572.3L265.8 572.1L266.4 572L267.1 571.9L267.8 571.8L268.4 571.7L269.1 571.6L269.8 571.5L270.4 571.5L271.1 571.4L271.8 571.3L272.4 571.3L273.1 571.2L273.8 571.1L274.5 571.1L275.1 571L275.8 571L276.5 570.9L277.1 570.9L277.8 570.8L278.5 570.8L279.1 570.8L279.8 570.7L280.5 570.7L281.1 570.6L281.8 570.6L282.5 570.6L283.1 570.5L283.8 570.5L284.5 570.4L285.1 570.4L285.8 570.3L286.5 570.3L287.1 570.2L287.8 570.2L288.5 570.1L289.1 570.1L289.8 570L290.5 570L291.1 569.9L291.8 569.8L292.5 569.8L293.2 569.7L293.8 569.7L294.5 569.6L295.2 569.5L295.8 569.5L296.5 569.4L297.2 569.4L297.8 569.3L298.5 569.2L299.2 569.2L299.8 569.1L300.5 569.1L301.2 569L301.8 568.9L302.5 568.8L303.2 568.8L303.8 568.7L304.5 568.6L305.2 568.5L305.8 568.5L306.5 568.4L307.2 568.3L307.8 568.2L308.5 568.1L309.2 568L309.9 567.9L310.5 567.8L311.2 567.7L311.9 567.6L312.5 567.5L313.2 567.4L313.9 567.3L314.5 567.1L315.2 567L315.9 566.9L316.5 566.7L317.2 566.5L317.9 566.3L318.5 566.1L319.2 565.9L319.9 565.6L320.5 565.3L321.2 565L321.9 564.7L322.5 564.4L323.2 564L323.9 563.7L324.5 563.3L325.2 562.9L325.9 562.5L326.5 562.1L327.2 561.7L327.9 561.3L328.6 560.9L329.2 560.4L329.9 560L330.6 559.6L331.2 559.1L331.9 558.7L332.6 558.2L333.2 557.8L333.9 557.3L334.6 556.8L335.2 556.3L335.9 555.8L336.6 555.2L337.2 554.7L337.9 554.1L338.6 553.5L339.2 552.9L339.9 552.2L340.6 551.6L341.2 550.9L341.9 550.2L342.6 549.6L343.2 548.9L343.9 548.2L344.6 547.5L345.2 546.7L345.9 546L346.6 545.2L347.3 544.4L347.9 543.6L348.6 542.7L349.3 541.8L349.9 540.9L350.6 540L351.3 539.1L351.9 538.1L352.6 537.1L353.3 536.1L353.9 535.1L354.6 534.1L355.3 533L355.9 531.9L356.6 530.7L357.3 529.5L357.9 528.3L358.6 527L359.3 525.7L359.9 524.3L360.6 522.9L361.3 521.4L361.9 519.7L362.6 517.9L363.3 516.1L363.9 514.3L364.6 512.7L365.3 511.2L366 509.6L366.6 508.2L367.3 507L368 506L368.6 505.4L369.3 504.8L370 504.3L370.6 503.9L371.3 503.6L372 503.3L372.6 503.1L373.3 502.9L374 502.8L374.6 502.6L375.3 502.4L376 502.3L376.6 502.1L377.3 501.9L378 501.8L378.6 501.8L379.3 501.9L380 502.1L380.6 502.4L381.3 502.9L382 503.4L382.7 503.9L383.3 504.4L384 505L384.7 505.4L385.3 505.8L386 506.1L386.7 506.4L387.3 506.7L388 507L388.7 507.2L389.3 507.5L390 507.8L390.7 508L391.3 508.2L392 508.4L392.7 508.7L393.3 508.9L394 509L394.7 509.2L395.3 509.4L396 509.6L396.7 509.7L397.3 509.9L398 510.1L398.7 510.2L399.3 510.4L400 510.5L400.7 510.6L401.4 510.6L402 510.7L402.7 510.7L403.4 510.7L404 510.8L404.7 510.8L405.4 510.8L406 510.8L406.7 510.8L407.4 510.8L408 510.8L408.7 510.9L409.4 510.9L410 510.9L410.7 510.9L411.4 510.9L412 510.9L412.7 510.9L413.4 510.9L414 510.9L414.7 510.9L415.4 510.9L416 510.9L416.7 510.9L417.4 510.9L418 510.9L418.7 510.9L419.4 510.8L420.1 510.8L420.7 510.8L421.4 510.8L422.1 510.8L422.7 510.8L423.4 510.7L424.1 510.7L424.7 510.7L425.4 510.7L426.1 510.7L426.7 510.7L427.4 510.8L428.1 510.9L428.7 511.1L429.4 511.4L430.1 511.8L430.7 512.2L431.4 512.6L432.1 513.1L432.7 513.6L433.4 514.1L434.1 514.6L434.7 515L435.4 515.5L436.1 515.9L436.7 516.3L437.4 516.8L438.1 517.3L438.8 517.8L439.4 518.3L440.1 518.8L440.8 519.3L441.4 519.8L442.1 520.4L442.8 520.9L443.4 521.5L444.1 522L444.8 522.6L445.4 523.1L446.1 523.7L446.8 524.2L447.4 524.7L448.1 525.3L448.8 525.8L449.4 526.3L450.1 526.8L450.8 527.2L451.4 527.7L452.1 528.2L452.8 528.6L453.4 529L454.1 529.4L454.8 529.8L455.5 530.1L456.1 530.5L456.8 530.8L457.5 531.2L458.1 531.5L458.8 531.8L459.5 532.1L460.1 532.5L460.8 532.8L461.5 533.1L462.1 533.4L462.8 533.7L463.5 534L464.1 534.3L464.8 534.6L465.5 534.9L466.1 535.2L466.8 535.5L467.5 535.9L468.1 536.2L468.8 536.5L469.5 536.9L470.1 537.3L470.8 537.6L471.5 538L472.1 538.4L472.8 538.8L473.5 539.2L474.2 539.6L474.8 540.1L475.5 540.5L476.2 540.9L476.8 541.4L477.5 541.8L478.2 542.3L478.8 542.7L479.5 543.2L480.2 543.6L480.8 544.1L481.5 544.6L482.2 545.1L482.8 545.6L483.5 546L484.2 546.5L484.8 547L485.5 547.6L486.2 548.1L486.8 548.7L487.5 549.3L488.2 549.9L488.8 550.6L489.5 551.2L490.2 551.8L490.8 552.5L491.5 553.1L492.2 553.7L492.9 554.3L493.5 554.9L494.2 555.4L494.9 555.9L495.5 556.4L496.2 556.9L496.9 557.3L497.5 557.7L498.2 558L498.9 558.3L499.5 558.6L500.2 558.9L500.9 559.2L501.5 559.4L502.2 559.7L502.9 559.9L503.5 560.2L504.2 560.4L504.9 560.6L505.5 560.8L506.2 561.1L506.9 561.3L507.5 561.5L508.2 561.7L508.9 561.9L509.5 562L510.2 562.2L510.9 562.4L511.6 562.6L512.2 562.8L512.9 562.9L513.6 563.1L514.2 563.3L514.9 563.4L515.6 563.6L516.2 563.8L516.9 563.9L517.6 564.1L518.2 564.2L518.9 564.3L519.6 564.5L520.2 564.6L520.9 564.7L521.6 564.9L522.2 565L522.9 565.1L523.6 565.2L524.2 565.4L524.9 565.5L525.6 565.6L526.2 565.7L526.9 565.8L527.6 566L528.3 566.1L528.9 566.2L529.6 566.3L530.3 566.5L530.9 566.6L531.6 566.7L532.3 566.9L532.9 567L533.6 567.2L534.3 567.3L534.9 567.5L535.6 567.6L536.3 567.8L536.9 567.9L537.6 568.1L538.3 568.3L538.9 568.4L539.6 568.6L540.3 568.7L540.9 568.9L541.6 569.1L542.3 569.3L542.9 569.4L543.6 569.6L544.3 569.8L544.9 569.9L545.6 570.1L546.3 570.3L547 570.5L547.6 570.7L548.3 570.8L549 571L549.6 571.2L550.3 571.4L551 571.6L551.6 571.7L552.3 571.9L553 572.1L553.6 572.3L554.3 572.5L555 572.7L555.6 572.9L556.3 573.2L557 573.4L557.6 573.6L558.3 573.8L559 574L559.6 574.2L560.3 574.4L561 574.6L561.6 574.9L562.3 575.1L563 575.3L563.6 575.5L564.3 575.7L565 575.9L565.7 576.1L566.3 576.2L567 576.4L567.7 576.6L568.3 576.8L569 576.9L569.7 577.1L570.3 577.2L571 577.4L571.7 577.6L572.3 577.7L573 577.9L573.7 578L574.3 578.2L575 578.4L575.7 578.5L576.3 578.7L577 578.8L577.7 579L578.3 579.1L579 579.3L579.7 579.4L580.3 579.5L581 579.6L581.7 579.8L582.3 579.9L583 580L583.7 580.1L584.4 580.2L585 580.2L585.7 580.3L586.4 580.4L587 580.4L587.7 580.5L588.4 580.5L589 580.6L589.7 580.6L590.4 580.7L591 580.7L591.7 580.8L592.4 580.8L593 580.9L593.7 580.9L594.4 581L595 581L595.7 581L596.4 581.1L597 581.1L597.7 581.1L598.4 581.2L599 581.2L599.7 581.2L600.4 581.2L601 581.3L601.7 581.3L602.4 581.3L603.1 581.3L603.7 581.3L604.4 581.3L605.1 581.3L605.7 581.3L606.4 581.3L607.1 581.3L607.7 581.3L608.4 581.2L609.1 581.2L609.7 581.2L610.4 581.2L611.1 581.2L611.7 581.1L612.4 581.1L613.1 581.1L613.7 581L614.4 581L615.1 580.9L615.7 580.9L616.4 580.9L617.1 580.8L617.7 580.8L618.4 580.7L619.1 580.7L619.8 580.6L620.4 580.5L621.1 580.5L621.8 580.4L622.4 580.4L623.1 580.3L623.8 580.2L624.4 580.1L625.1 580L625.8 579.9L626.4 579.7L627.1 579.5L627.8 579.4L628.4 579.2L629.1 579L629.8 578.8L630.4 578.6L631.1 578.3L631.8 578.1L632.4 577.9L633.1 577.6L633.8 577.4L634.4 577.1L635.1 576.9L635.8 576.6L636.4 576.4L637.1 576.1L637.8 575.9L638.5 575.7L639.1 575.4L639.8 575.2L640.5 574.9L641.1 574.7L641.8 574.4L642.5 574.1L643.1 573.8L643.8 573.5L644.5 573.2L645.1 572.9L645.8 572.6L646.5 572.3L647.1 572L647.8 571.7L648.5 571.5L649.1 571.3L649.8 571.1L650.5 570.9L651.1 570.7L651.8 570.6L652.5 570.5L653.1 570.3L653.8 570.2L654.5 570.1L655.1 570L655.8 569.9L656.5 569.7L657.2 569.6L657.8 569.4L658.5 569.1L659.2 568.7L659.8 568.2L660.5 567.6L661.2 567L661.8 566.5L662.5 566L663.2 565.6L663.8 565.4L664.5 565.5L665.2 566.4L665.8 567.9L666.5 569.7L667.2 571.4L667.8 573L668.5 574.8L669.2 576.6L669.8 578L670.5 578.8L671.2 579.2L671.8 579.6L672.5 579.9L673.2 580.2L673.8 580.5L674.5 580.7L675.2 580.9L675.9 581L676.5 581L677.2 581L677.9 581L678.5 581L679.2 581L679.9 581L680.5 581L681.2 581L681.9 581L682.5 581L683.2 581L683.9 581L684.5 581L685.2 581L685.9 581L686.5 581L687.2 581L687.9 581L688.5 581L689.2 581L689.9 581L690.5 581L691.2 581L691.9 581L692.6 581L693.2 581L693.9 580.9L694.6 580.8L695.2 580.6L695.9 580.4L696.6 580.2L697.2 580L697.9 579.7L698.6 579.4L699.2 579.1L699.9 578.8L700.6 578.2L701.2 577.3L701.9 576.1L702.6 574.7L703.2 573.2L703.9 571.7L704.6 570.2L705.2 568.4L705.9 566.3L706.6 564.2L707.2 562.8L707.9 562.3L708.6 562.6L709.2 563.2L709.9 564L710.6 564.8L711.3 565.5L711.9 566L712.6 566.2L713.3 566.4L713.9 566.6L714.6 566.8L715.3 567L715.9 567.2L716.6 567.4L717.3 567.5L717.9 567.6L718.6 567.7L719.3 567.8L719.9 567.9L720.6 568L721.3 568L721.9 568L722.6 568L723.3 568L723.9 568L724.6 568L725.3 568L725.9 568L726.6 568L727.3 568L727.9 568L728.6 568L729.3 568L730 568L730.6 568.1L731.3 568.2L732 568.5L732.6 568.8L733.3 569.1L734 569.5L734.6 569.9L735.3 570.2L736 570.5L736.6 570.8L737.3 570.9L738 571L738.6 571L739.3 571L740 570.9L740.6 570.8L741.3 570.7L742 570.6L742.6 570.5L743.3 570.4L744 570.2L744.6 570.1L745.3 569.9L746 569.5L746.6 569.1L747.3 568.5L748 568L748.7 567.5L749.3 567.1L750 567L750.7 567L751.3 567.1L752 567.1L752.7 567.3L753.3 567.5L754 567.7L754.7 568.1L755.3 568.5L756 569M143.3 595.1L144 595L144.6 594.9L145.3 594.8L146 594.7L146.6 594.7L147.3 594.6L148 594.5L148.6 594.4L149.3 594.3L150 594.2L150.7 594.1L151.3 594.1L152 594L152.7 593.9L153.3 593.8L154 593.7L154.7 593.6L155.3 593.6L156 593.5L156.7 593.4L157.3 593.3L158 593.3L158.7 593.2L159.3 593.1L160 593.1L160.7 593L161.4 592.9L162 592.9L162.7 592.8L163.4 592.8L164 592.7L164.7 592.7L165.4 592.6L166 592.6L166.7 592.5L167.4 592.5L168 592.5L168.7 592.4L169.4 592.4L170 592.4L170.7 592.4L171.4 592.4L172.1 592.3L172.7 592.3L173.4 592.3L174.1 592.3L174.7 592.3L175.4 592.2L176.1 592.2L176.7 592.2L177.4 592.2L178.1 592.2L178.7 592.2L179.4 592.2L180.1 592.2L180.7 592.1L181.4 592.1L182.1 592.1L182.8 592.1L183.4 592.1L184.1 592.1L184.8 592.1L185.4 592.1L186.1 592.1L186.8 592.1L187.4 592L188.1 592L188.8 592L189.4 592L190.1 592L190.8 592L191.4 592L192.1 592L192.8 592L193.5 592L194.1 592L194.8 592L195.5 591.9L196.1 591.9L196.8 591.9L197.5 591.9L198.1 591.9L198.8 591.9L199.5 591.9L200.1 591.9L200.8 591.9L201.5 591.9L202.1 591.9L202.8 591.9L203.5 591.8L204.2 591.8L204.8 591.8L205.5 591.8L206.2 591.8L206.8 591.8L207.5 591.8L208.2 591.8L208.8 591.7L209.5 591.7L210.2 591.7L210.8 591.7L211.5 591.7L212.2 591.7L212.8 591.6L213.5 591.6L214.2 591.6L214.9 591.6L215.5 591.6L216.2 591.5L216.9 591.5L217.5 591.5L218.2 591.4L218.9 591.4L219.5 591.4L220.2 591.3L220.9 591.3L221.5 591.2L222.2 591.2L222.9 591.2L223.5 591.1L224.2 591.1L224.9 591L225.6 591L226.2 590.9L226.9 590.8L227.6 590.8L228.2 590.7L228.9 590.7L229.6 590.6L230.2 590.6L230.9 590.5L231.6 590.4L232.2 590.4L232.9 590.3L233.6 590.3L234.2 590.2L234.9 590.1L235.6 590.1L236.3 590L236.9 589.9L237.6 589.9L238.3 589.8L238.9 589.8L239.6 589.7L240.3 589.6L240.9 589.6L241.6 589.5L242.3 589.5L242.9 589.4L243.6 589.4L244.3 589.3L244.9 589.2L245.6 589.2L246.3 589.1L247 589.1L247.6 589.1L248.3 589L249 589L249.6 588.9L250.3 588.9L251 588.8L251.6 588.8L252.3 588.8L253 588.7L253.6 588.7L254.3 588.7L255 588.6L255.6 588.6L256.3 588.6L257 588.5L257.7 588.5L258.3 588.5L259 588.5L259.7 588.4L260.3 588.4L261 588.4L261.7 588.4L262.3 588.3L263 588.3L263.7 588.3L264.3 588.2L265 588.2L265.7 588.2L266.3 588.2L267 588.2L267.7 588.1L268.4 588.1L269 588.1L269.7 588.1L270.4 588L271 588L271.7 588L272.4 587.9L273 587.9L273.7 587.9L274.4 587.9L275 587.8L275.7 587.8L276.4 587.8L277 587.8L277.7 587.7L278.4 587.7L279.1 587.7L279.7 587.6L280.4 587.6L281.1 587.6L281.7 587.5L282.4 587.5L283.1 587.5L283.7 587.4L284.4 587.4L285.1 587.3L285.7 587.3L286.4 587.3L287.1 587.2L287.7 587.2L288.4 587.1L289.1 587.1L289.8 587L290.4 587L291.1 586.9L291.8 586.9L292.4 586.8L293.1 586.7L293.8 586.7L294.4 586.6L295.1 586.5L295.8 586.5L296.4 586.4L297.1 586.3L297.8 586.2L298.4 586.2L299.1 586.1L299.8 586L300.5 585.9L301.1 585.8L301.8 585.7L302.5 585.6L303.1 585.5L303.8 585.4L304.5 585.3L305.1 585.1L305.8 585L306.5 584.9L307.1 584.8L307.8 584.6L308.5 584.5L309.1 584.4L309.8 584.2L310.5 584.1L311.2 583.9L311.8 583.8L312.5 583.6L313.2 583.5L313.8 583.3L314.5 583.1L315.2 582.9L315.8 582.8L316.5 582.6L317.2 582.3L317.8 582.1L318.5 581.8L319.2 581.5L319.8 581.2L320.5 580.8L321.2 580.5L321.9 580.1L322.5 579.7L323.2 579.3L323.9 578.8L324.5 578.4L325.2 577.9L325.9 577.4L326.5 576.9L327.2 576.4L327.9 575.8L328.5 575.3L329.2 574.7L329.9 574.2L330.5 573.6L331.2 573L331.9 572.4L332.6 571.8L333.2 571.2L333.9 570.5L334.6 569.8L335.2 569L335.9 568.2L336.6 567.3L337.2 566.4L337.9 565.5L338.6 564.5L339.2 563.6L339.9 562.6L340.6 561.6L341.2 560.5L341.9 559.5L342.6 558.5L343.3 557.5L343.9 556.5L344.6 555.6L345.3 554.6L345.9 553.7L346.6 552.8L347.3 551.8L347.9 550.9L348.6 550L349.3 549L349.9 548L350.6 547.1L351.3 546.1L351.9 545.1L352.6 544.1L353.3 543.1L354 542L354.6 541L355.3 539.9L356 538.8L356.6 537.7L357.3 536.5L358 535.2L358.6 534L359.3 532.6L360 531.2L360.6 529.8L361.3 528.3L362 526.7L362.6 525L363.3 523.2L364 521.4L364.7 519.6L365.3 517.6L366 515.6L366.7 513.6L367.3 511.5L368 509.5L368.7 507.3L369.3 505.1L370 503L370.7 501L371.3 499L372 497.1L372.7 495.2L373.3 493.4L374 491.8L374.7 490.4L375.4 489.2L376 488.1L376.7 487L377.4 485.9L378 484.9L378.7 484L379.4 483.2L380 482.3L380.7 481.6L381.4 480.9L382 480.3L382.7 479.7L383.4 479.1L384 478.6L384.7 478.1L385.4 477.7L386.1 477.2L386.7 476.8L387.4 476.4L388.1 476L388.7 475.6L389.4 475.3L390.1 474.9L390.7 474.5L391.4 474L392.1 473.6L392.7 473.1L393.4 472.7L394.1 472.2L394.7 471.8L395.4 471.3L396.1 470.9L396.8 470.4L397.4 469.9L398.1 469.4L398.8 469L399.4 468.4L400.1 467.9L400.8 467.4L401.4 466.9L402.1 466.3L402.8 465.8L403.4 465.2L404.1 464.7L404.8 464.1L405.4 463.5L406.1 462.9L406.8 462.2L407.5 461.6L408.1 460.9L408.8 460.1L409.5 459.3L410.1 458.5L410.8 457.5L411.5 456.6L412.1 455.5L412.8 454.5L413.5 453.3L414.1 452.2L414.8 451L415.5 449.9L416.1 448.7L416.8 447.5L417.5 446.4L418.2 445.2L418.8 444.1L419.5 443L420.2 442L420.8 440.9L421.5 439.8L422.2 438.7L422.8 437.6L423.5 436.5L424.2 435.4L424.8 434.3L425.5 433.2L426.2 432.2L426.8 431.3L427.5 430.4L428.2 429.6L428.9 428.9L429.5 428.3L430.2 427.6L430.9 427L431.5 426.3L432.2 425.7L432.9 425.1L433.5 424.6L434.2 424.1L434.9 423.8L435.5 423.5L436.2 423.3L436.9 423.3L437.5 423.3L438.2 423.4L438.9 423.5L439.6 423.6L440.2 423.7L440.9 423.8L441.6 424L442.2 424.2L442.9 424.4L443.6 424.6L444.2 424.8L444.9 425L445.6 425.2L446.2 425.4L446.9 425.7L447.6 425.9L448.2 426.2L448.9 426.5L449.6 426.9L450.3 427.3L450.9 427.7L451.6 428.1L452.3 428.6L452.9 429.1L453.6 429.5L454.3 430L454.9 430.6L455.6 431.1M133 590L133.7 589.9L134.3 589.8L135 589.7L135.7 589.7L136.3 589.6L137 589.5L137.7 589.4L138.3 589.3L139 589.2L139.7 589.2L140.3 589.1L141 589L141.7 588.9L142.4 588.8L143 588.8L143.7 588.7L144.4 588.6L145 588.5L145.7 588.5L146.4 588.4L147 588.3L147.7 588.2L148.4 588.2L149 588.1L149.7 588L150.4 587.9L151 587.9L151.7 587.8L152.4 587.7L153 587.7L153.7 587.6L154.4 587.6L155 587.5L155.7 587.4L156.4 587.4L157.1 587.3L157.7 587.3L158.4 587.2L159.1 587.2L159.7 587.1L160.4 587L161.1 587L161.7 586.9L162.4 586.9L163.1 586.9L163.7 586.8L164.4 586.8L165.1 586.7L165.7 586.7L166.4 586.6L167.1 586.6L167.7 586.5L168.4 586.5L169.1 586.5L169.7 586.4L170.4 586.4L171.1 586.3L171.8 586.3L172.4 586.3L173.1 586.2L173.8 586.2L174.4 586.2L175.1 586.1L175.8 586.1L176.4 586L177.1 586L177.8 586L178.4 585.9L179.1 585.9L179.8 585.9L180.4 585.8L181.1 585.8L181.8 585.8L182.4 585.7L183.1 585.7L183.8 585.7L184.4 585.6L185.1 585.6L185.8 585.6L186.5 585.5L187.1 585.5L187.8 585.5L188.5 585.4L189.1 585.4L189.8 585.4L190.5 585.3L191.1 585.3L191.8 585.3L192.5 585.2L193.1 585.2L193.8 585.2L194.5 585.1L195.1 585.1L195.8 585L196.5 585L197.1 585L197.8 584.9L198.5 584.9L199.1 584.9L199.8 584.8L200.5 584.8L201.1 584.8L201.8 584.7L202.5 584.7L203.2 584.7L203.8 584.6L204.5 584.6L205.2 584.6L205.8 584.5L206.5 584.5L207.2 584.5L207.8 584.4L208.5 584.4L209.2 584.4L209.8 584.3L210.5 584.3L211.2 584.3L211.8 584.2L212.5 584.2L213.2 584.2L213.8 584.1L214.5 584.1L215.2 584.1L215.8 584L216.5 584L217.2 584L217.9 583.9L218.5 583.9L219.2 583.8L219.9 583.8L220.5 583.8L221.2 583.7L221.9 583.7L222.5 583.7L223.2 583.6L223.9 583.6L224.5 583.5L225.2 583.5L225.9 583.4L226.5 583.4L227.2 583.4L227.9 583.3L228.5 583.3L229.2 583.2L229.9 583.2L230.5 583.1L231.2 583.1L231.9 583L232.6 583L233.2 582.9L233.9 582.8L234.6 582.8L235.2 582.7L235.9 582.6L236.6 582.5L237.2 582.4L237.9 582.3L238.6 582.2L239.2 582.1L239.9 582L240.6 581.9L241.2 581.8L241.9 581.7L242.6 581.6L243.2 581.5L243.9 581.4L244.6 581.4L245.2 581.3L245.9 581.2L246.6 581.2L247.3 581.1L247.9 581.1L248.6 581L249.3 581L249.9 581L250.6 581L251.3 581L251.9 581L252.6 581L253.3 581L253.9 581L254.6 581L255.3 581L255.9 581L256.6 581L257.3 581L257.9 581L258.6 581L259.3 581L259.9 581L260.6 581L261.3 581L261.9 581L262.6 581L263.3 581L264 581L264.6 581L265.3 581L266 581L266.6 581L267.3 581L268 581L268.6 581L269.3 581L270 581L270.6 581L271.3 581L272 581L272.6 581L273.3 581L274 581L274.6 581L275.3 581L276 581L276.6 581L277.3 581L278 581L278.7 581L279.3 581L280 581L280.7 581L281.3 581L282 581L282.7 581L283.3 581L284 581L284.7 581L285.3 581L286 581L286.7 581L287.3 581L288 581L288.7 581L289.3 581L290 581L290.7 581L291.3 581L292 581L292.7 580.9L293.4 580.9L294 580.8L294.7 580.8L295.4 580.7L296 580.7L296.7 580.6L297.4 580.5L298 580.4L298.7 580.3L299.4 580.2L300 580.1L300.7 580L301.4 579.9L302 579.8L302.7 579.6L303.4 579.5L304 579.4L304.7 579.2L305.4 579.1L306 578.9L306.7 578.8L307.4 578.6L308.1 578.4L308.7 578.3L309.4 578.1L310.1 577.9L310.7 577.8L311.4 577.6L312.1 577.4L312.7 577.2L313.4 577L314.1 576.9L314.7 576.7L315.4 576.5L316.1 576.3L316.7 576.1L317.4 575.9L318.1 575.6L318.7 575.3L319.4 575.1L320.1 574.8L320.7 574.4L321.4 574.1L322.1 573.8L322.7 573.4L323.4 573L324.1 572.6L324.8 572.2L325.4 571.8L326.1 571.4L326.8 571L327.4 570.5L328.1 570L328.8 569.6L329.4 569.1L330.1 568.6L330.8 568.1L331.4 567.6L332.1 567.1L332.8 566.6L333.4 566.1L334.1 565.5L334.8 564.9L335.4 564.2L336.1 563.6L336.8 562.9L337.4 562.1L338.1 561.4L338.8 560.6L339.5 559.8L340.1 559L340.8 558.2L341.5 557.4L342.1 556.6L342.8 555.7L343.5 554.9L344.1 554.1L344.8 553.2L345.5 552.4L346.1 551.6L346.8 550.8L347.5 549.9L348.1 549L348.8 548.2L349.5 547.3L350.1 546.4L350.8 545.4L351.5 544.5L352.1 543.5L352.8 542.5L353.5 541.5L354.2 540.5L354.8 539.4L355.5 538.3L356.2 537.2L356.8 536.1L357.5 534.9L358.2 533.7L358.8 532.5L359.5 531.2L360.2 529.9L360.8 528.5L361.5 527.1L362.2 525.6L362.8 524L363.5 522.4L364.2 520.6L364.8 518.8L365.5 517L366.2 515L366.8 513L367.5 510.9L368.2 508.9L368.9 507L369.5 505.1L370.2 503.3L370.9 501.5L371.5 500L372.2 498.6L372.9 497.5L373.5 496.5L374.2 495.6L374.9 494.7L375.5 493.8L376.2 492.9L376.9 492L377.5 491.1L378.2 490.2L378.9 489.3L379.5 488.5L380.2 487.7L380.9 487L381.5 486.4L382.2 485.8L382.9 485.4L383.5 484.9L384.2 484.5L384.9 484.1L385.6 483.8L386.2 483.4L386.9 483.1L387.6 482.8L388.2 482.5L388.9 482.1L389.6 481.8L390.2 481.5L390.9 481.1L391.6 480.7L392.2 480.4L392.9 480L393.6 479.6L394.2 479.3L394.9 478.9L395.6 478.6L396.2 478.2L396.9 477.8L397.6 477.5L398.2 477.1L398.9 476.7L399.6 476.4L400.3 476L400.9 475.6L401.6 475.2L402.3 474.7L402.9 474.3L403.6 473.9L404.3 473.4L404.9 472.9L405.6 472.4L406.3 471.9L406.9 471.3L407.6 470.7L408.3 470.1L408.9 469.5L409.6 468.9L410.3 468.3L410.9 467.6L411.6 467L412.3 466.3L412.9 465.7L413.6 465.1L414.3 464.5L415 463.9L415.6 463.3L416.3 462.7L417 462L417.6 461.4L418.3 460.6L419 459.9L419.6 459.2L420.3 458.4L421 457.7L421.6 457L422.3 456.3L423 455.6L423.6 455L424.3 454.4L425 453.8L425.6 453.4L426.3 452.9L427 452.6L427.6 452.4L428.3 452.2L429 452.2L429.7 452.2L430.3 452.3L431 452.5L431.7 452.7L432.3 452.9L433 453.2L433.7 453.5L434.3 453.8L435 454.1L435.7 454.4L436.3 454.8L437 455.3L437.7 456L438.3 456.7L439 457.5L439.7 458.3L440.3 459.3L441 460.2L441.7 461.2L442.3 462.3L443 463.3L443.7 464.3L444.3 465.4L445 466.4L445.7 467.3L446.4 468.2L447 469.1L447.7 469.9L448.4 470.6L449 471.2L449.7 471.8L450.4 472.4L451 472.9L451.7 473.5L452.4 474L453 474.5L453.7 475L454.4 475.5L455 476L455.7 476.5L456.4 476.9L457 477.4L457.7 477.8L458.4 478.2L459 478.6L459.7 478.9L460.4 479.2L461.1 479.5L461.7 479.8L462.4 480.1L463.1 480.3L463.7 480.5L464.4 480.7L465.1 480.9L465.7 481.1L466.4 481.3L467.1 481.4L467.7 481.6L468.4 481.7L469.1 481.9L469.7 482L470.4 482.1L471.1 482.3L471.7 482.4L472.4 482.5L473.1 482.7L473.7 482.8L474.4 482.9L475.1 483.1L475.8 483.2L476.4 483.4L477.1 483.6L477.8 483.7L478.4 483.9L479.1 484.1L479.8 484.3L480.4 484.5L481.1 484.8L481.8 485L482.4 485.3L483.1 485.6L483.8 485.9L484.4 486.2L485.1 486.5L485.8 486.8L486.4 487.2L487.1 487.5L487.8 487.9L488.4 488.3L489.1 488.7L489.8 489.1L490.5 489.5L491.1 490L491.8 490.5L492.5 491L493.1 491.5L493.8 492L494.5 492.6L495.1 493.2L495.8 493.7L496.5 494.4L497.1 495L497.8 495.6M357.5 538L358.2 536.8L358.8 535.6L359.5 534.3L360.2 532.9L360.8 531.4L361.5 530L362.2 528.4L362.9 526.7L363.5 525L364.2 523.2L364.9 521.4L365.5 519.4L366.2 517.4L366.9 515.3L367.5 513.2L368.2 511.4L368.9 509.6L369.6 507.9L370.2 506.4L370.9 505.2L371.6 504.2L372.2 503.4L372.9 502.8L373.6 502.1L374.2 501.5L374.9 501L375.6 500.3L376.3 499.7L376.9 499L377.6 498.3L378.3 497.6L378.9 497L379.6 496.3L380.3 495.7L380.9 495.2L381.6 494.7L382.3 494.3L383 493.9L383.6 493.5L384.3 493.2L385 492.9L385.6 492.5L386.3 492.2L387 491.9L387.6 491.7L388.3 491.4L389 491.1L389.7 490.9L390.3 490.6L391 490.4L391.7 490.1L392.3 489.9L393 489.7L393.7 489.5L394.3 489.2L395 489L395.7 488.8L396.4 488.6L397 488.4L397.7 488.2L398.4 488.1L399 487.8L399.7 487.6L400.4 487.3L401 487L401.7 486.7L402.4 486.4L403.1 486L403.7 485.6L404.4 485.1L405.1 484.7L405.7 484.2L406.4 483.7L407.1 483.2L407.7 482.7L408.4 482.1L409.1 481.5L409.8 481L410.4 480.4L411.1 479.8L411.8 479.2L412.4 478.6L413.1 478L413.8 477.3L414.4 476.6L415.1 475.9L415.8 475.1L416.5 474.2L417.1 473.3L417.8 472.4L418.5 471.5L419.1 470.6L419.8 469.6L420.5 468.8L421.1 467.9L421.8 467.1L422.5 466.3L423.1 465.6L423.8 464.9L424.5 464.3L425.2 463.8L425.8 463.2L426.5 462.6L427.2 462.1L427.8 461.5L428.5 461L429.2 460.5L429.8 460.1L430.5 459.7L431.2 459.4L431.9 459.1L432.5 459L433.2 458.9L433.9 458.9L434.5 459.1L435.2 459.3L435.9 459.6L436.5 460L437.2 460.4L437.9 460.9L438.6 461.4L439.2 462L439.9 462.5L440.6 463.1L441.2 463.6L441.9 464.2L442.6 464.7L443.2 465.2L443.9 465.8L444.6 466.4L445.3 467L445.9 467.7L446.6 468.4L447.3 469.1L447.9 469.8L448.6 470.5L449.3 471.3L449.9 472L450.6 472.8L451.3 473.5L452 474.2L452.6 475L453.3 475.7L454 476.4L454.6 477.1L455.3 477.7L456 478.4L456.6 479L457.3 479.6L458 480.1L458.7 480.7L459.3 481.2L460 481.7L460.7 482.2L461.3 482.7L462 483.2L462.7 483.7L463.3 484.1L464 484.6L464.7 485L465.4 485.5L466 485.9L466.7 486.3L467.4 486.8L468 487.2L468.7 487.6L469.4 488L470 488.4L470.7 488.8L471.4 489.2L472.1 489.7L472.7 490.1L473.4 490.5L474.1 490.9L474.7 491.3L475.4 491.7L476.1 492.1L476.7 492.5L477.4 493L478.1 493.4L478.8 493.8L479.4 494.3L480.1 494.7L480.8 495.2L481.4 495.6L482.1 496.1L482.8 496.6L483.4 497.1L484.1 497.6L484.8 498.1L485.5 498.6L486.1 499.2L486.8 499.8L487.5 500.3L488.1 500.9L488.8 501.6L489.5 502.2L490.1 502.8L490.8 503.5L491.5 504.1L492.1 504.7L492.8 505.4L493.5 506L494.2 506.7L494.8 507.3L495.5 507.9L496.2 508.5L496.8 509.1L497.5 509.7L498.2 510.3L498.8 510.9L499.5 511.4L500.2 511.9L500.9 512.4L501.5 512.9L502.2 513.3L502.9 513.7L503.5 514.1L504.2 514.6L504.9 515L505.5 515.4L506.2 515.9L506.9 516.3L507.6 516.7L508.2 517.1L508.9 517.5L509.6 517.8L510.2 518.2L510.9 518.5L511.6 518.8L512.2 519.1L512.9 519.3L513.6 519.5L514.3 519.7L514.9 519.9L515.6 520L516.3 520.1L516.9 520.2L517.6 520.3L518.3 520.4L518.9 520.4L519.6 520.5L520.3 520.6L521 520.7L521.6 520.7L522.3 520.8L523 520.8L523.6 520.9L524.3 520.9L525 521L525.6 521L526.3 521L527 521.1L527.7 521.1L528.3 521.1L529 521.1L529.7 521.1L530.3 521.1L531 521.1L531.7 521.1L532.3 521.1L533 521.1L533.7 521.1L534.4 521.1L535 521.1L535.7 521L536.4 521L537 521L537.7 521L538.4 521L539 521L539.7 520.9L540.4 520.9L541.1 520.9L541.7 520.8L542.4 520.8L543.1 520.8L543.7 520.7L544.4 520.7L545.1 520.6L545.7 520.6L546.4 520.5L547.1 520.5L547.8 520.4L548.4 520.3L549.1 520.2L549.8 520.2L550.4 520.1L551.1 520M139.8 593.3L140.5 593.2L141.1 593.1L141.8 593L142.5 592.8L143.1 592.7L143.8 592.6L144.5 592.5L145.1 592.4L145.8 592.3L146.5 592.2L147.2 592.1L147.8 591.9L148.5 591.8L149.2 591.7L149.8 591.6L150.5 591.5L151.2 591.4L151.8 591.4L152.5 591.3L153.2 591.2L153.8 591.1L154.5 591L155.2 591L155.8 590.9L156.5 590.9L157.2 590.8L157.9 590.8L158.5 590.8L159.2 590.7L159.9 590.7L160.5 590.7L161.2 590.7L161.9 590.7L162.5 590.7L163.2 590.7L163.9 590.7L164.5 590.7L165.2 590.7L165.9 590.7L166.5 590.7L167.2 590.7L167.9 590.7L168.6 590.7L169.2 590.7L169.9 590.7L170.6 590.7L171.2 590.7L171.9 590.7L172.6 590.7L173.2 590.7L173.9 590.7L174.6 590.7L175.2 590.7L175.9 590.7L176.6 590.7L177.2 590.7L177.9 590.7L178.6 590.7L179.3 590.7L179.9 590.7L180.6 590.7L181.3 590.7L181.9 590.7L182.6 590.7L183.3 590.7L183.9 590.7L184.6 590.7L185.3 590.7L185.9 590.7L186.6 590.7L187.3 590.7L187.9 590.7L188.6 590.7L189.3 590.7L190 590.7L190.6 590.7L191.3 590.7L192 590.7L192.6 590.7L193.3 590.7L194 590.7L194.6 590.7L195.3 590.7L196 590.7L196.6 590.7L197.3 590.7L198 590.7L198.6 590.7L199.3 590.7L200 590.7L200.7 590.7L201.3 590.7L202 590.6L202.7 590.6L203.3 590.6L204 590.6L204.7 590.6L205.3 590.5L206 590.5L206.7 590.5L207.3 590.5L208 590.4L208.7 590.4L209.3 590.4L210 590.3L210.7 590.3L211.4 590.3L212 590.2L212.7 590.2L213.4 590.2L214 590.1L214.7 590.1L215.4 590.1L216 590L216.7 590L217.4 589.9L218 589.9L218.7 589.8L219.4 589.8L220 589.8L220.7 589.7L221.4 589.7L222.1 589.6L222.7 589.6L223.4 589.5L224.1 589.5L224.7 589.4L225.4 589.4L226.1 589.3L226.7 589.3L227.4 589.2L228.1 589.2L228.7 589.1L229.4 589.1L230.1 589L230.7 589L231.4 589L232.1 588.9L232.8 588.9L233.4 588.8L234.1 588.8L234.8 588.7L235.4 588.6L236.1 588.6L236.8 588.5L237.4 588.4L238.1 588.4L238.8 588.3L239.4 588.2L240.1 588.1L240.8 588.1L241.4 588L242.1 587.9L242.8 587.8L243.5 587.8L244.1 587.7L244.8 587.6L245.5 587.5L246.1 587.5L246.8 587.4L247.5 587.3L248.1 587.3L248.8 587.2L249.5 587.1L250.1 587.1L250.8 587L251.5 587L252.1 586.9L252.8 586.9L253.5 586.8L254.2 586.8L254.8 586.7L255.5 586.7L256.2 586.6L256.8 586.6L257.5 586.5L258.2 586.5L258.8 586.4L259.5 586.4L260.2 586.4L260.8 586.3L261.5 586.3L262.2 586.2L262.8 586.2L263.5 586.1L264.2 586.1L264.9 586.1L265.5 586L266.2 586L266.9 585.9L267.5 585.9L268.2 585.9L268.9 585.8L269.5 585.8L270.2 585.7L270.9 585.7L271.5 585.7L272.2 585.6L272.9 585.6L273.5 585.5L274.2 585.5L274.9 585.4L275.6 585.4L276.2 585.4L276.9 585.3L277.6 585.3L278.2 585.2L278.9 585.2L279.6 585.1L280.2 585.1L280.9 585L281.6 585L282.2 584.9L282.9 584.9L283.6 584.8L284.2 584.8L284.9 584.7L285.6 584.6L286.3 584.6L286.9 584.5L287.6 584.4L288.3 584.4L288.9 584.3L289.6 584.2L290.3 584.2L290.9 584.1L291.6 584L292.3 584L292.9 583.9L293.6 583.8L294.3 583.7L294.9 583.6L295.6 583.5L296.3 583.5L297 583.4L297.6 583.3L298.3 583.2L299 583.1L299.6 583L300.3 582.9L301 582.8L301.6 582.7L302.3 582.6L303 582.5L303.6 582.3L304.3 582.2L305 582.1L305.6 582L306.3 581.8L307 581.7L307.7 581.6L308.3 581.4L309 581.3L309.7 581.1L310.3 581L311 580.8L311.7 580.7L312.3 580.5L313 580.3L313.7 580.2L314.3 580L315 579.8L315.7 579.6L316.3 579.4L317 579.2L317.7 578.9L318.4 578.7L319 578.4L319.7 578.1L320.4 577.8L321 577.4L321.7 577.1L322.4 576.7L323 576.3L323.7 575.9L324.4 575.5L325 575.1L325.7 574.6L326.4 574.2L327 573.7L327.7 573.2L328.4 572.7L329.1 572.2L329.7 571.7L330.4 571.1L331.1 570.6L331.7 570L332.4 569.4L333.1 568.9L333.7 568.2L334.4 567.5L335.1 566.7L335.7 565.9L336.4 565L337.1 564.1L337.7 563.2L338.4 562.2L339.1 561.2L339.8 560.1L340.4 559.1L341.1 558L341.8 557L342.4 555.9L343.1 554.9L343.8 553.8L344.4 552.8L345.1 551.9L345.8 550.9L346.4 549.9L347.1 548.9L347.8 547.9L348.4 546.9L349.1 545.9L349.8 544.9L350.5 543.8L351.1 542.8L351.8 541.8L352.5 540.8L353.1 539.8L353.8 538.8L354.5 537.7L355.1 536.6L355.8 535.4L356.5 534.1L357.1 532.6L357.8 531.1L358.5 529.5L359.1 527.9L359.8 526.2L360.5 524.5L361.2 522.8L361.8 521L362.5 519L363.2 517L363.8 514.8L364.5 512.5L365.2 510.2L365.8 507.8L366.5 505.6L367.2 503.2L367.8 500.7L368.5 498L369.2 494.9L369.8 491.5L370.5 487.6L371.2 481.8L371.9 475.8L372.5 473.1L373.2 471L373.9 469.4L374.5 468.1L375.2 467.2L375.9 466.5L376.5 465.9L377.2 465.3L377.9 464.8L378.5 464.4L379.2 464.1L379.9 464L380.5 464L381.2 464L381.9 464L382.6 464L383.2 464L383.9 464.1L384.6 464.1L385.2 464.1L385.9 464.1L386.6 464.1L387.2 464.2L387.9 464.2L388.6 464.2L389.2 464.3L389.9 464.3L390.6 464.3L391.2 464.4L391.9 464.4L392.6 464.5L393.3 464.6L393.9 464.7L394.6 464.7L395.3 464.8L395.9 464.9L396.6 465L397.3 465.1L397.9 465.3L398.6 465.4L399.3 465.5L399.9 465.6L400.6 465.7L401.3 465.8L401.9 466L402.6 466.1L403.3 466.2L404 466.4L404.6 466.6L405.3 466.8L406 467L406.6 467.2L407.3 467.5L408 467.9L408.6 468.3L409.3 468.7L410 469.1L410.6 469.6L411.3 470L412 470.5L412.6 470.9L413.3 471.4L414 471.8L414.7 472.3L415.3 472.8L416 473.3L416.7 473.8L417.3 474.3L418 474.9L418.7 475.4L419.3 475.9L420 476.5M491.6 536L492.3 537L492.9 538L493.6 539L494.3 540L494.9 540.9L495.6 541.8L496.3 542.7L497 543.6L497.6 544.4L498.3 545.2L499 546L499.6 546.7L500.3 547.4L501 548.1L501.6 548.7L502.3 549.3L503 549.9L503.6 550.4L504.3 551L505 551.5L505.7 552.1L506.3 552.6L507 553.1L507.7 553.5L508.3 554L509 554.5L509.7 554.9L510.3 555.3L511 555.7L511.7 556.1L512.4 556.5L513 556.9L513.7 557.3L514.4 557.6L515 557.9L515.7 558.2L516.4 558.6L517 558.8L517.7 559.1L518.4 559.4L519 559.7L519.7 559.9L520.4 560.2L521.1 560.4L521.7 560.7L522.4 560.9L523.1 561.1L523.7 561.3L524.4 561.5L525.1 561.8L525.7 562L526.4 562.2L527.1 562.4L527.7 562.6L528.4 562.8L529.1 563L529.8 563.2L530.4 563.4L531.1 563.7L531.8 563.9L532.4 564.1L533.1 564.3L533.8 564.6L534.4 564.8L535.1 565L535.8 565.3L536.4 565.5L537.1 565.7L537.8 566L538.5 566.2L539.1 566.5L539.8 566.7L540.5 566.9L541.1 567.2L541.8 567.4L542.5 567.6L543.1 567.9L543.8 568.1L544.5 568.4L545.1 568.6L545.8 568.8L546.5 569.1L547.2 569.3L547.8 569.5L548.5 569.8L549.2 570L549.8 570.3L550.5 570.5L551.2 570.7L551.8 571L552.5 571.2L553.2 571.5L553.9 571.7L554.5 572L555.2 572.3L555.9 572.5L556.5 572.8L557.2 573.1L557.9 573.4L558.5 573.6L559.2 573.9L559.9 574.2L560.5 574.4L561.2 574.7L561.9 575L562.6 575.2L563.2 575.4L563.9 575.7L564.6 575.9L565.2 576.1L565.9 576.3L566.6 576.4L567.2 576.6L567.9 576.7L568.6 576.8L569.2 577L569.9 577.1L570.6 577.2L571.3 577.3L571.9 577.4L572.6 577.5L573.3 577.6L573.9 577.7L574.6 577.7L575.3 577.8L575.9 577.9L576.6 578L577.3 578.1L577.9 578.2L578.6 578.2L579.3 578.3L580 578.4L580.6 578.4L581.3 578.5L582 578.5L582.6 578.6L583.3 578.6L584 578.6L584.6 578.7L585.3 578.7L586 578.7L586.7 578.7L587.3 578.7L588 578.7L588.7 578.7L589.3 578.6L590 578.6L590.7 578.6L591.3 578.5L592 578.5L592.7 578.4L593.3 578.4L594 578.3L594.7 578.2L595.4 578.2L596 578.1L596.7 578L597.4 577.9L598 577.8L598.7 577.7L599.4 577.6L600 577.5L600.7 577.5L601.4 577.4L602 577.3L602.7 577.2L603.4 577.1L604.1 577L604.7 576.8L605.4 576.7L606.1 576.6L606.7 576.5L607.4 576.3L608.1 576.1L608.7 576L609.4 575.8L610.1 575.6L610.7 575.4L611.4 575.2L612.1 575L612.8 574.8L613.4 574.5L614.1 574.3L614.8 574.1L615.4 573.9L616.1 573.6L616.8 573.4L617.4 573.2L618.1 572.9L618.8 572.7L619.4 572.5L620.1 572.3L620.8 572L621.5 571.8L622.1 571.6L622.8 571.4L623.5 571.2L624.1 571L624.8 570.9L625.5 570.7L626.1 570.5L626.8 570.3L627.5 570.2L628.2 570L628.8 569.8L629.5 569.7L630.2 569.5L630.8 569.3L631.5 569.1L632.2 569L632.8 568.8L633.5 568.6L634.2 568.4L634.8 568.2L635.5 567.9L636.2 567.7L636.9 567.5L637.5 567.2L638.2 567L638.9 566.7L639.5 566.4L640.2 566.1L640.9 565.7L641.5 565.3L642.2 564.8L642.9 564.3L643.5 563.8L644.2 563.3L644.9 562.8L645.6 562.3L646.2 561.9L646.9 561.4L647.6 560.9L648.2 560.4L648.9 559.9L649.6 559.4L650.2 558.9L650.9 558.4L651.6 558L652.2 557.6L652.9 557.3L653.6 557.1L654.3 556.9L654.9 556.9L655.6 557L656.3 557.4L656.9 558L657.6 558.7L658.3 559.4L658.9 560.2L659.6 560.9L660.3 561.7L660.9 562.5L661.6 563.4L662.3 564.3L663 565.3L663.6 566.2L664.3 567.1L665 568.1L665.6 569.1L666.3 570.2L667 571.2L667.6 572.1L668.3 572.8L669 573.2L669.7 573.6L670.3 573.9L671 574.2L671.7 574.4L672.3 574.7L673 574.9L673.7 575.1L674.3 575.2L675 575.4L675.7 575.5L676.3 575.5L677 575.5L677.7 575.5L678.4 575.4L679 575.3L679.7 575.2L680.4 575.1L681 574.9L681.7 574.7L682.4 574.6L683 574.4L683.7 574.2L684.4 574L685 573.8L685.7 573.6L686.4 573.4L687.1 573.2L687.7 573L688.4 572.9L689.1 572.7L689.7 572.6L690.4 572.5L691.1 572.4L691.7 572.4L692.4 572.4L693.1 572.7L693.7 573.2L694.4 573.8L695.1 574.5L695.8 575L696.4 575.4L697.1 575.5L697.8 575.3L698.4 574.8L699.1 574.1L699.8 573.4L700.4 572.6L701.1 571.8L701.8 571.1L702.5 570.5L703.1 570.1L703.8 569.8L704.5 569.6L705.1 569.3L705.8 569.1L706.5 569L707.1 569L707.8 569.1L708.5 569.3L709.1 569.6L709.8 569.9L710.5 570.3L711.2 570.7L711.8 571.1L712.5 571.5L713.2 571.8L713.8 572L714.5 572.1L715.2 572.2L715.8 572.3L716.5 572.4L717.2 572.4L717.8 572.5L718.5 572.6L719.2 572.6L719.9 572.7L720.5 572.8L721.2 572.9L721.9 573L722.5 573.1L723.2 573.2L723.9 573.4L724.5 573.5L725.2 573.7L725.9 573.8L726.5 574L727.2 574.2L727.9 574.4L728.6 574.6L729.2 574.8L729.9 575L730.6 575.2L731.2 575.5L731.9 575.8L732.6 576.1L733.2 576.4L733.9 576.8L734.6 577.1L735.2 577.4L735.9 577.6L736.6 577.8L737.3 577.9L737.9 578L738.6 578L739.3 578L739.9 578L740.6 578L741.3 578L741.9 578L742.6 578L743.3 578L744 578L744.6 578L745.3 578L746 577.6L746.6 577L747.3 576.2L748 575.4L748.6 574.7L749.3 574.2L750 574L750.6 574L751.3 574L752 574L752.7 574.1L753.3 574.2L754 574.3L754.7 574.5L755.3 574.7L756 575M520 572.4L520.7 572.6L521.3 572.8L522 573L522.7 573.1L523.3 573.3L524 573.5L524.7 573.7L525.3 573.9L526 574.1L526.7 574.2L527.4 574.4L528 574.6L528.7 574.8L529.4 575L530 575.1L530.7 575.3L531.4 575.5L532 575.7L532.7 575.8L533.4 576L534 576.2L534.7 576.4L535.4 576.5L536 576.7L536.7 576.9L537.4 577L538.1 577.2L538.7 577.4L539.4 577.5L540.1 577.7L540.7 577.9L541.4 578L542.1 578.2L542.7 578.3L543.4 578.5L544.1 578.7L544.7 578.8L545.4 579L546.1 579.2L546.7 579.3L547.4 579.5L548.1 579.7L548.7 579.8L549.4 580L550.1 580.1L550.8 580.3L551.4 580.5L552.1 580.7L552.8 580.9L553.4 581.1L554.1 581.3L554.8 581.5L555.4 581.7L556.1 581.9L556.8 582.1L557.4 582.4L558.1 582.6L558.8 582.8L559.4 583L560.1 583.2L560.8 583.4L561.5 583.6L562.1 583.8L562.8 584L563.5 584.2L564.1 584.3L564.8 584.5L565.5 584.6L566.1 584.7L566.8 584.8L567.5 584.8L568.1 584.9L568.8 584.9L569.5 584.9L570.1 584.9L570.8 584.9L571.5 584.9L572.1 584.9L572.8 584.9L573.5 584.9L574.2 584.9L574.8 584.9L575.5 584.9L576.2 584.9L576.8 584.9L577.5 584.9L578.2 584.9L578.8 584.9L579.5 584.9L580.2 584.9L580.8 584.9L581.5 584.9L582.2 584.9L582.8 584.9L583.5 584.9L584.2 584.9L584.8 584.9L585.5 584.9L586.2 584.9L586.9 584.9L587.5 584.9L588.2 584.9L588.9 584.9L589.5 584.9L590.2 584.8L590.9 584.8L591.5 584.8L592.2 584.7L592.9 584.7L593.5 584.7L594.2 584.6L594.9 584.6L595.5 584.5L596.2 584.5L596.9 584.4L597.6 584.4L598.2 584.3L598.9 584.3L599.6 584.2L600.2 584.2L600.9 584.2L601.6 584.1L602.2 584.1L602.9 584.1L603.6 584L604.2 584L604.9 584L605.6 584L606.2 583.9L606.9 583.9L607.6 583.9L608.2 583.9L608.9 583.9L609.6 583.9L610.3 583.9L610.9 583.8L611.6 583.8L612.3 583.8L612.9 583.8L613.6 583.8L614.3 583.8L614.9 583.8L615.6 583.8L616.3 583.8L616.9 583.7L617.6 583.7L618.3 583.7L618.9 583.7L619.6 583.7L620.3 583.7L621 583.6L621.6 583.6L622.3 583.6L623 583.6L623.6 583.5L624.3 583.5L625 583.5L625.6 583.4L626.3 583.4L627 583.3L627.6 583.3L628.3 583.2L629 583.2L629.6 583.1L630.3 583.1L631 583L631.6 582.9L632.3 582.9L633 582.8L633.7 582.8L634.3 582.7L635 582.6L635.7 582.6L636.3 582.5L637 582.4L637.7 582.4L638.3 582.3L639 582.3L639.7 582.2L640.3 582.2L641 582.1L641.7 582.1L642.3 582.1L643 582L643.7 582L644.4 581.9L645 581.9L645.7 581.8L646.4 581.7L647 581.6L647.7 581.5L648.4 581.4L649 581.3L649.7 581.1L650.4 580.9L651 580.8L651.7 580.6L652.4 580.4L653 580.2L653.7 579.9L654.4 579.7L655 579.4L655.7 579.1L656.4 578.8L657.1 578.5L657.7 578.2L658.4 577.9L659.1 577.5L659.7 577.1L660.4 576.7L661.1 576.3L661.7 575.7L662.4 574.7L663.1 573.5L663.7 572.3L664.4 571.2L665.1 570.4L665.7 570.1L666.4 570.7L667.1 572.3L667.8 574.3L668.4 575.9L669.1 576.9L669.8 577.8L670.4 578.7L671.1 579.4L671.8 579.9L672.4 580.2L673.1 580.5L673.8 580.7L674.4 580.9L675.1 581.1L675.8 581.2L676.4 581.3L677.1 581.3L677.8 581.3L678.4 581.3L679.1 581.3L679.8 581.3L680.5 581.3L681.1 581.3L681.8 581.3L682.5 581.3L683.1 581.3L683.8 581.3L684.5 581.3L685.1 581.3L685.8 581.3L686.5 581.3L687.1 581.3L687.8 581.3L688.5 581.3L689.1 581.3L689.8 581.3L690.5 581.3L691.2 581.3L691.8 581.3L692.5 581.3L693.2 581.3L693.8 581.2L694.5 581.1L695.2 581L695.8 580.9L696.5 580.8L697.2 580.6L697.8 580.5L698.5 580.3L699.2 580.1L699.8 579.9L700.5 579.5L701.2 578.7L701.8 577.8L702.5 576.7L703.2 575.6L703.9 574.7L704.5 574.1L705.2 574L705.9 574.1L706.5 574.2L707.2 574.3L707.9 574.5L708.5 574.8L709.2 575L709.9 575.3L710.5 575.5L711.2 575.8L711.9 576L712.5 576.1L713.2 576.3L713.9 576.5L714.5 576.7L715.2 576.8L715.9 577L716.6 577.2L717.2 577.3L717.9 577.5L718.6 577.6L719.2 577.8L719.9 578L720.6 578.1L721.2 578.3L721.9 578.5L722.6 578.6L723.2 578.8L723.9 579L724.6 579.1L725.2 579.3L725.9 579.5L726.6 579.6L727.3 579.8L727.9 580L728.6 580.2L729.3 580.3L729.9 580.5L730.6 580.7L731.3 580.9L731.9 581.1L732.6 581.3L733.3 581.5L733.9 581.7L734.6 581.9L735.3 582.1L735.9 582.3L736.6 582.5L737.3 582.8L737.9 583L738.6 583.3L739.3 583.5L740 583.7L740.6 583.9L741.3 584L742 584L742.6 584L743.3 583.8L744 583.6L744.6 583.4L745.3 583.1L746 582.8L746.6 582.5L747.3 582.2L748 582L748.6 581.8L749.3 581.6L750 581.4L750.7 581.3L751.3 581.1L752 580.9L752.7 580.8L753.3 580.6L754 580.4L754.7 580.3L755.3 580.1L756 580M566.2 540.4L566.9 540.7L567.6 541L568.2 541.3L568.9 541.6L569.6 541.9L570.3 542.2L571 542.5L571.6 542.8L572.3 543.1L573 543.3L573.7 543.6L574.3 543.9L575 544.1L575.7 544.4L576.4 544.6L577.1 544.9L577.7 545.1L578.4 545.3L579.1 545.6L579.8 545.8L580.5 546L581.1 546.2L581.8 546.4L582.5 546.6L583.2 546.8L583.8 546.9L584.5 547.1L585.2 547.3L585.9 547.4L586.6 547.6L587.2 547.7L587.9 547.8L588.6 548L589.3 548.1L590 548.2L590.6 548.3L591.3 548.4L592 548.5L592.7 548.6L593.3 548.7L594 548.8L594.7 548.9L595.4 549L596.1 549.1L596.7 549.1L597.4 549.2L598.1 549.3L598.8 549.4L599.5 549.5L600.1 549.6L600.8 549.7L601.5 549.8L602.2 549.9L602.9 550L603.5 550.1L604.2 550.2L604.9 550.3L605.6 550.4L606.2 550.6L606.9 550.7L607.6 550.9L608.3 551L609 551.2L609.6 551.4L610.3 551.5L611 551.7L611.7 551.8L612.4 552L613 552.2L613.7 552.3L614.4 552.4L615.1 552.5L615.7 552.7L616.4 552.7L617.1 552.8L617.8 552.9L618.5 552.9L619.1 552.9L619.8 552.9L620.5 552.9L621.2 552.9L621.9 552.9L622.5 553L623.2 553L623.9 553L624.6 553L625.2 553L625.9 553L626.6 553L627.3 553L628 553L628.6 553L629.3 553L630 553M726.7 552.3L727.4 552L728.1 551.8L728.8 551.6L729.5 551.5L730.1 551.4L730.8 551.3L731.5 551.2L732.2 551.2L732.9 551.2L733.6 551.3L734.3 551.4L735 551.6L735.6 551.8L736.3 552L737 552.2L737.7 552.3L738.4 552.4L739.1 552.5L739.8 552.6L740.5 552.7L741.2 552.8L741.8 553L742.5 553.3L743.2 553.9L743.9 554.6L744.6 555.4L745.3 556.1L746 556.6L746.7 556.9L747.3 557.1L748 557.4L748.7 557.6L749.4 557.8L750.1 557.9L750.8 558L751.5 558.1L752.2 558.1L752.8 557.8L753.5 557.1L754.2 556.1L754.9 555L755.6 553.8M100 571L100.7 570.4L101.4 569.9L102.1 569.3L102.7 568.8L103.4 568.4L104.1 567.9L104.8 567.5L105.5 567.2L106.2 566.9L106.8 566.7L107.5 566.5L108.2 566.2L108.9 566L109.6 565.8L110.3 565.6L111 565.4L111.6 565.3L112.3 565.2L113 565.1L113.7 565L114.4 565L115.1 565L115.8 565.2L116.4 565.3L117.1 565.5L117.8 565.8L118.5 566.1L119.2 566.4L119.9 566.8L120.5 567.1L121.2 567.5L121.9 567.8L122.6 568.3L123.3 568.9L124 569.6L124.7 570.4L125.3 571.1L126 571.9L126.7 572.5L127.4 573.1L128.1 573.5L128.8 573.7L129.4 573.5L130.1 572.8L130.8 571.7L131.5 570.5" style="fill:none;stroke:#4a98ca;stroke-width:3;stroke-linecap:round;stroke-linejoin:round"/>
<path d="M100 575.5h0M100.6 575.1h0M101.2 575.1h0M101.8 576.3h0M102.4 575.8h0M103.1 576.5h0M103.7 578.1h0M104.3 577.2h0M104.9 579.5h0M105.5 579.7h0M106 580.4h0M106.6 582h0M107.3 583.3h0M107.9 583.5h0M108.6 584.7h0M109.4 586.2h0M110.1 587.2h0M110.9 587.7h0M111.7 588.2h0M112.5 588.9h0M113.3 589.9h0M114 591.3h0M114.7 591.9h0M115.5 592.4h0M116.2 593.6h0M117 593.2h0M117.8 593.6h0M118.7 594.2h0M119.6 596.1h0M120.6 594.5h0M121.6 596.3h0M122.5 596.9h0M123.4 596.9h0M124.2 598.3h0M124.9 597.6h0M125.6 597.3h0M126.2 596.2h0M126.8 596.8h0M127.4 596.1h0M127.9 596.1h0M128.3 595.8h0M128.6 594.8h0M129 594.6h0M129.3 594.1h0M129.6 592.6h0M129.8 591h0M130 588.8h0M130.2 589.5h0M130.4 588.4h0M130.6 586.6h0M130.8 585.3h0M130.9 584.9h0M131 583h0M131 582.9h0M130.9 580.9h0M130.8 580h0M130.7 579.6h0M130.5 577.9h0M130.3 577.8h0M130 577.3h0M100 579.2h0M100.6 579.3h0M101.2 577.3h0M101.8 576.9h0M102.4 575.9h0M103 574.8h0M103.6 574.3h0M104.2 573.2h0M104.7 573.6h0M105.3 573.6h0M105.9 575.1h0M106.5 575.1h0M107.1 574.2h0M107.7 576h0M108.2 576.3h0M108.8 576.6h0M109.5 577.7h0M110.1 578.5h0M110.8 578.5h0M111.5 579.4h0M112.2 580.6h0M112.9 580.9h0M113.7 582.5h0M114.4 583.2h0M115.1 583.7h0M115.8 584.3h0M116.5 585.6h0M117.1 586.5h0M117.7 586.8h0M118.3 586.7h0M118.8 588.1h0M119.4 588.2h0M120 588.9h0M120.6 589.5h0M121.2 588.5h0M121.8 589.2h0M122.4 589.1h0M122.9 589.1h0M123.5 590.8h0M124.1 590.4h0M124.7 588.9h0M125.3 590.2h0M125.9 589.7h0M126.5 590.6h0M127.1 589.8h0M127.7 589.4h0M128.3 589.2h0M128.9 589h0M129.5 588.5h0M130.1 588.1h0M130.7 587.9h0M131.3 588.3h0M131.8 587.4h0M132.4 588.1h0M133 588h0M133.6 587.9h0M134.2 588.8h0M134.8 587.8h0M135.4 588.5h0M136 588.5h0M100 583.3h0M100.8 583.1h0M101.5 583.7h0M102.3 584.3h0M103 583.5h0M103.7 585h0M104.4 584.7h0M105.1 585.3h0M105.7 585.8h0M106.4 586.7h0M107 587h0M107.6 588h0M108.1 587.5h0M108.7 587.6h0M109.3 587.9h0M109.9 588.9h0M110.5 589.7h0M111.1 589.2h0M111.8 588.9h0M112.5 589.5h0M113.2 589.7h0M113.9 589.7h0M114.7 589.4h0M115.4 588.5h0M116.1 589.7h0M116.8 590.6h0M117.5 590h0M118.1 588.3h0M118.7 589h0M119.3 587.2h0M119.9 588.6h0M120.5 586.8h0M121.1 585.2h0M121.6 585.8h0M122.2 584.5h0M122.7 584.9h0M123.2 584.2h0M123.7 583.2h0M124.2 584h0M124.6 582.6h0M125.1 583.9h0M125.5 583.1h0M125.9 582.4h0M126.3 582h0M126.7 584.1h0M127 584.2h0M127.4 582.9h0M127.7 584.9h0M128 584.4h0M128.4 584.4h0M128.8 584.8h0M129.2 585h0M129.6 586.1h0M130 585.7h0M130.5 584.8h0M131 587.2h0M131.5 586.8h0M132 585.9h0M132.5 586.6h0M133 586.5h0M101 569h0M101.3 569.6h0M101.6 569.8h0M102 569.7h0M102.3 570h0M102.7 571.3h0M103 571.1h0M103.4 572.8h0M103.8 571.4h0M104.2 572.6h0M104.7 572.6h0M105.1 572.5h0M105.6 574h0M106.1 573.6h0M106.6 573.4h0M107.1 574.1h0M107.6 575.2h0M108.1 574.4h0M108.5 576.3h0M109 576.3h0M109.5 576.3h0M110 577.7h0M110.4 578.5h0M110.9 578.3h0M111.4 578.5h0M111.9 579.9h0M112.3 580.1h0M112.8 579.2h0M113.3 580h0M113.7 580.4h0M114.2 580.7h0M114.6 580.4h0M115.1 582.1h0M115.6 581.9h0M116.2 582.1h0M116.7 583h0M117.3 582.1h0M117.9 582.5h0M118.5 582.9h0M119.1 582.6h0M119.7 582.8h0M120.3 583.4h0M120.9 583h0M121.5 583.7h0M122.1 582.4h0M122.8 582.7h0M123.4 581.6h0M124.1 582h0M124.7 581.3h0M125.2 582.2h0M125.7 581.6h0M126.2 581.2h0M126.6 581.7h0M127 581.2h0M127.4 580.6h0M127.8 579.6h0M128.1 578.9h0M128.5 579.5h0M128.7 579h0M129 578.6h0M100.2 570h0M99.8 571.5h0M100.7 573h0M100 574.5h0M100.1 576h0M100.5 577.5h0M99.8 579h0M100.6 580.5h0M100.6 582h0M100.2 583.5h0M100 585h0M100.2 586.5h0M99.8 588h0M100.7 589.5h0M100.3 591h0M100.1 592.5h0M100 594h0M100.5 595.5h0M100.7 597h0M705.2 546.7h0M705.1 546.9h0M755.7 565.4h0M690.1 553.6h0M745 561.3h0M728.5 563.7h0M660.9 544.5h0M688.6 550h0M729.2 563.4h0M664.3 543.7h0M742.3 562.7h0M747.6 563.2h0M732.9 563.8h0M737.9 561.7h0M717.4 557.4h0M737.6 563.3h0M704.9 546.5h0M699.2 546.9h0M727.5 563.5h0M704.7 545.9h0M689.8 552.8h0M685.4 553.4h0M702 544.6h0M696.7 553.1h0M732.4 564.7h0M735.3 562.7h0M736.6 565.4h0M741.1 564.3h0M694.8 555h0M695.5 554.3h0M740.5 563.3h0M677.3 555.2h0M727.4 563.5h0M710.4 555.6h0M724 558.1h0M726.9 562.8h0M724.2 559.8h0M682.6 558.1h0M662.3 544.3h0M751.4 566.6h0M746.2 563.5h0M708.5 552.6h0M723.5 557.3h0M668.7 552.5h0M704 545.6h0M716.4 554.7h0M727.2 562.9h0M681 556.6h0M668.9 552.8h0M752.3 567.4h0M741.5 562.3h0M677.1 555.9h0M739 564.2h0M738 564.6h0M677.4 554.9h0M737.2 564.7h0M696.7 552.5h0M692.1 556.5h0M675.4 555h0M716.8 557.2h0M718.9 556.9h0M709.1 553.4h0M669.6 553.9h0M736.4 564.2h0M690.4 554.3h0M685.4 553h0M721.5 558.2h0M677.7 555.4h0M747.4 564.1h0M722.2 559.3h0M735.8 563.9h0M692.7 556.4h0M701.1 544.1h0M684.1 555.6h0M684.1 556.4h0M699.8 546.4h0M735.6 563.5h0M708.3 549.5h0M740 563.6h0M670.7 553.6h0M687.8 550.1h0M663.5 543.8h0M747.7 563.5h0M666 546.7h0M712 555.2h0M724.6 559.3h0M679.6 556.2h0M754.1 565.8h0M754.1 565h0M682.9 558.4h0M673.4 554.1h0M722.4 558h0M709.4 552.4h0M718 554.9h0M719.3 558.6h0M751.8 563.2h0M733.8 565.6h0M690 552.3h0M731.8 564.1h0M703.1 545.7h0M753.6 563.5h0M705.8 547.2h0M661.1 545.5h0M748 564h0M686.6 549.8h0M738.9 563.7h0M718.7 555.6h0M731.5 564.2h0M730.9 565.7h0M746.9 562.5h0M740 563.6h0M722 559.1h0M691.4 556.5h0M707.4 549.7h0M686.8 549.9h0M692.3 555.8h0M704.2 545.5h0M700.6 544.2h0M687.8 548.9h0M689.2 550.4h0M689.9 551.8h0M678.4 555.7h0M716 556h0M668.9 552.9h0M683.8 556.5h0M676.4 555.1h0M727.8 563.5h0M686.9 549.9h0M669.6 553.1h0M738.8 563.7h0M702 544.7h0M737.2 563.7h0M690.8 554.4h0M693.3 555h0M713.7 555.9h0M666.7 548.5h0M753.8 567.9h0M672.8 554.4h0M747.7 564.4h0M723.3 559.7h0M733.4 565.8h0M680.2 556.3h0M745.6 563.8h0M711.4 554.8h0M699.7 546.1h0M678.5 555.9h0M676.4 555.1h0M742.8 562h0M753.1 563.2h0M700.2 545.4h0M729.5 564h0M727.1 561h0M707.4 550h0M706.1 549.3h0M713.1 555.7h0M693.3 555.6h0M731.6 565.9h0M700.1 544.8h0M708.4 551.5h0M677.5 555.3h0M753.7 565.6h0M667.5 550.5h0M728.8 564.2h0M723.4 558h0M693.1 555.9h0M753.8 566h0M663.5 543.6h0M686.2 550.8h0M692.4 555.8h0M721.6 556.9h0M716.7 556.1h0M728.3 562.1h0M742.6 562.9h0M661.9 544.3h0M713.8 554.4h0M698.5 548.8h0M726.2 560.7h0M710.6 554.2h0M693.4 555.8h0M660.7 545.1h0M689.8 552.1h0M702.8 545h0M692.4 556.5h0M696.4 552.8h0M722.5 559.2h0M692.2 556.3h0M741.7 562.5h0M694.7 554.7h0M701.7 545h0M701.6 544.2h0M746.7 563.9h0M718.1 556h0M747.2 566.7h0M718.4 568.6h0M746 570.6h0M664.8 565.3h0M718.1 566h0M700.3 578.6h0M670.4 579h0M699.3 578.6h0M731.2 567.8h0M715.9 566.4h0M717 566.2h0M686.8 580.4h0M708.9 563h0M702.9 573.9h0M747.4 567.8h0M744.3 567.4h0M702 576.8h0M708.3 561.5h0M688.1 580.9h0M714.4 565.6h0M672.5 580.1h0M752.7 565.7h0M699.8 578.9h0M660.9 567.2h0M688.5 581.4h0M751.1 565.9h0M689.8 580.7h0M697.1 579.9h0M753.6 569.8h0M735.3 568.7h0M694.6 580.9h0M675.8 580.6h0M697.5 580h0M695.8 580.8h0M745.9 569.8h0M711.8 566.2h0M748.8 567.7h0M754.7 567.5h0M743.5 570.1h0M699 578.4h0M697.5 579.7h0M712.6 565.4h0M725.2 567.7h0M741.5 571.5h0M738.5 571.4h0M690 581.2h0M730.7 569.2h0M696.1 579.2h0M734.5 570.3h0M661.3 566.9h0M741.5 570.6h0M727 566.6h0M674.1 580.8h0M684 581.6h0M689.9 581.5h0M709.3 563.2h0M746.9 569.5h0M753.2 568.4h0M717.9 569.5h0M670.5 579.3h0M753.9 567.9h0M752.2 567.3h0M668.5 574.8h0M723.9 568.2h0M724 567.5h0M723.4 568.8h0M729.6 567.3h0M660.5 567.2h0M689.6 581.2h0M692.4 580.7h0M722.3 567.7h0M669.1 575.5h0M686.5 581.4h0M676.8 581h0M664.5 565.5h0M705.4 568h0M679.6 581.1h0M706.3 564.7h0M679.8 582h0M736 570.1h0M670.7 579.4h0M734 571.4h0M723.1 567.4h0M675.2 580.9h0M696.3 579.9h0M696.7 580.7h0M703.7 572.1h0M724.8 566.8h0M661.4 567.4h0M675.9 581.4h0M727.1 567.1h0M668.9 576.5h0M741 571h0M695.6 581.8h0M663.5 566.3h0M733.8 568.8h0M683.5 580.9h0M755.9 568h0M748.6 567.7h0M745 570.1h0M744.8 570.8h0M667.1 571.2h0M662.6 565.3h0M698.5 579.1h0M700.4 579.1h0M699.2 579.6h0M717.3 567.3h0M735.3 570h0M735.7 570.2h0M749.3 567.2h0M724.9 566.2h0M744.2 571.1h0M668.8 575.2h0M662.5 566.1h0M703.3 571.7h0M744.7 570.3h0M697 580.7h0M670.6 577.8h0M672.1 580.5h0M682 581.2h0M742.9 569.7h0M692.3 580.2h0M742.5 571.8h0M750.5 567.3h0M734.4 570.3h0M748.6 567.2h0M684.5 580.6h0M678.7 581.4h0M683.2 580.5h0M661.7 567h0M749.4 565.4h0M679.8 580.6h0M720.5 566.4h0M687.3 581.6h0M711.8 564.1h0M701.8 575.7h0M729.2 568.7h0M679.3 581.1h0M687.7 582h0M673.3 581.2h0M691.2 581.3h0M740 571.6h0M752.5 565.3h0M661.5 566.4h0M741.1 570.4h0M730.5 567.8h0M667.6 571.7h0M675.4 580.4h0M743.1 569.5h0M678.6 581.5h0M747.2 569.1h0M711.8 565.6h0M754.5 567.7h0M708.5 562.8h0M672.6 579.6h0M718.2 567.4h0M702.8 573.5h0M666.8 570.8h0M738.6 572h0M746.3 569.7h0M752.5 567.8h0M721.8 568.4h0M716 569.4h0M678.7 581.1h0M752.6 565.9h0M730.5 566.9h0M724.2 568.7h0M726.7 569.1h0M740.8 571.6h0M692.9 581.4h0M670.7 579h0M755.2 566.8h0M663 565.4h0M686.1 580.1h0M707.2 562.6h0M663.9 564.8h0M689.8 581h0M743.6 570.1h0M720 565.9h0M716 568h0M661.8 566.9h0M701 577h0M671.7 579.6h0M697.2 580.4h0M697.3 579.8h0M700.8 578.4h0M690.3 581.1h0M735 571.2h0M704.5 570.5h0M747.2 568.4h0M693 581.2h0M673.8 580.8h0M726.4 573.5h0M677.7 574.6h0M754.4 575.3h0M661.9 564.1h0M678.8 574.9h0M721.6 573.5h0M672.9 575h0M685 573.8h0M708.2 567.1h0M732.6 574.8h0M743 577.3h0M690.4 573.3h0M723.1 572.2h0M662.2 564.1h0M745.5 576.6h0M724.5 572.9h0M746.6 577.4h0M680.2 574.1h0M707.7 567.6h0M731.4 576.2h0M662.4 564.5h0M740.7 577.3h0M727.9 575.4h0M735.7 578.6h0M675.6 574.4h0M734.6 576.9h0M714.4 573.3h0M674.4 574.9h0M672.7 574.6h0M742.3 579h0M698.3 574.8h0M686.1 572.8h0M695.3 574.4h0M725.7 572.3h0M673.1 575.2h0M675.5 574.6h0M722.4 574.1h0M745.9 575.9h0M724.5 573.5h0M750.7 572.4h0M687.2 573h0M694 573.9h0M695.8 575.6h0M694.4 574.5h0M685.8 573.5h0M736.1 577.8h0M687.2 573.3h0M700 573.4h0M705.3 569h0M755.6 576h0M691.6 572.6h0M726.3 575.2h0M691.5 572.6h0M736.8 578.6h0M697.2 575.1h0M662.1 563.8h0M710.2 568.7h0M692.4 572.3h0M685.4 573.6h0M688.1 573.3h0M660.2 560.9h0M730.1 578.6h0M712.6 571.3h0M721.1 574.2h0M714.7 573.2h0M696.6 574.2h0M704 569.6h0M705.7 569.9h0M748.1 572.6h0M693.4 573.3h0M674.6 574.8h0M668 572.3h0M692.4 572.5h0M714.9 570.1h0M715.9 572.5h0M729.9 574.2h0M723.3 572.4h0M668 572.8h0M697.4 577.2h0M695.6 575h0M670.8 574.4h0M716.5 572.3h0M734.4 576.1h0M664.1 567h0M710.9 572.2h0M671.5 574.5h0M734.5 578h0M713.6 571.6h0M666.3 571.5h0M709.5 567.9h0M683.1 574.6h0M679.9 575.4h0M724.1 573.7h0M698.8 573.8h0M749.1 573.1h0M748 575.1h0M741.9 578.1h0M699.4 573.2h0M746.9 575.6h0M666.9 571.4h0M734.5 578.1h0M694.5 573.6h0M743.1 577.2h0M662.9 564.8h0M715.2 574.9h0M666.7 571h0M688.3 572.8h0M714.2 573.1h0M673.3 576.1h0M726.6 575.3h0M709.2 568h0M681.5 574.7h0M711.6 570.5h0M702.8 570.1h0M663.2 565h0M728.1 574h0M728.6 573.4h0M747.4 576.5h0M750.4 574h0M695.6 574.2h0M721.7 571h0M718.3 572h0M665 568.5h0M729.5 575.4h0M686.2 573.4h0M700.8 570.5h0M719.6 572.1h0M708.4 568.4h0M686.9 573.1h0M743.8 576.6h0M669 573h0M717.9 571.7h0M677.7 576.8h0M748.8 575.3h0M749.9 573.7h0M728.5 574.5h0M744.9 577.8h0M733.6 576.8h0M722.8 572.7h0M731.8 575.6h0M747.4 577.2h0M680.8 575.4h0M730 575.3h0M677.2 576.1h0M704.2 569.7h0M692.6 572h0M720.8 570.9h0M721.3 572.1h0M746.6 576.9h0M740.6 578.4h0M666.3 570.6h0M676.6 575.2h0M664.3 566.7h0M728.2 575.3h0M693.2 573.4h0M753.6 573.6h0M680.6 575.2h0M751.8 575.5h0M732.6 576.4h0M733.2 576.3h0M718.3 570.2h0M744.9 579.4h0M682.5 574.8h0M743.4 578.1h0M744.6 577.4h0M718.2 571.1h0M723.5 573.1h0M682 574.6h0M707.2 569.5h0M716.3 571h0M690.3 573.2h0M664.1 566.8h0M751.2 575.3h0M737.4 576.8h0M695.1 574.6h0M711.1 572h0M716.7 572.5h0M752 572.4h0M713.6 571.5h0M729.5 575.4h0M737.1 576.3h0M669.6 572.8h0M715.9 572.5h0M749.3 573.1h0M739.1 578.7h0M748.5 573.5h0M675.6 574.5h0M734.7 576.2h0M686.8 574h0M744.1 577h0M735.3 577.3h0M696 575.3h0M726.8 579.5h0M702.6 576.1h0M686.9 580.6h0M664.9 571.1h0M719.9 577.2h0M670.6 578.9h0M695.4 580.2h0M745.4 583.2h0M746.8 581.5h0M738.9 586.6h0M678.5 580.8h0M750.4 580.2h0M673.4 581h0M748.2 583.2h0M731.9 578.8h0M753.2 580.9h0M754.5 581.3h0M710.4 574.1h0M690 581.6h0M748.2 581.3h0M690.1 580.8h0M691.9 581.1h0M714.6 576.1h0M673.6 579.9h0M703.8 575.9h0M673.2 580.3h0M703.5 574.8h0M747.1 583.2h0M748.3 581.8h0M752 582.3h0M729.6 580.1h0M731.7 581.4h0M701 579h0M745.9 583h0M672.9 580.2h0M676 581.2h0M671.4 580.4h0M699.2 579.7h0M665.7 569.8h0M727.6 579.5h0M677.5 581.6h0M726.2 579.9h0M714.1 577.5h0M726.4 578.1h0M727.4 580.1h0M735.5 581.9h0M706 573.9h0M714.8 576.9h0M684.1 580.3h0M708.1 574.9h0M668.6 576.2h0M751.6 579.4h0M749.2 581.5h0M667.1 573h0M661 576.1h0M697.9 580.7h0M710.6 575.3h0M706 573.7h0M692.4 580.8h0M719.8 577.5h0M698.5 580.9h0M699 580.5h0M663.1 573.1h0M717 578.3h0M668 574.8h0M742.4 583.2h0M705.8 574.3h0M694 580.7h0M723.5 577.1h0M745 584.6h0M676.2 580.3h0M698.5 580.5h0M753.5 578.9h0M742.9 583.8h0M697.5 580.4h0M694.8 580.9h0M738.3 580.8h0M668.1 575.1h0M671.4 579.6h0M714.8 575.7h0M714.6 576.6h0M714.7 577.7h0M733.5 580.7h0M744.6 583.6h0M698.4 579.7h0M691.3 581.5h0M741.6 584.7h0M683.5 582.5h0M744 584.6h0M727.9 580.4h0M741.3 585.5h0M721.2 577.2h0M670.2 578.9h0M728.6 579.5h0M707.6 574.2h0M677.6 581.8h0M669.8 578h0M685.2 581.9h0M672 579.3h0M673 580.5h0M741 583.3h0M751.3 580.8h0M755.5 578h0M713.7 577.4h0M714.3 576.8h0M665.7 569.6h0M671.4 578.9h0M734 580.7h0M714.8 578.2h0M714.4 576.5h0M732.3 580.8h0M738.1 583.6h0M728.2 580h0M661 576.4h0M712.2 576.8h0M740.2 584.1h0M738.7 584.2h0M751.1 579.8h0M709.9 575.3h0M710.1 575h0M662.4 574.8h0M709.2 575h0M714.1 575.9h0M748.1 581.6h0M745 584.2h0M666 569.9h0M673.6 580h0M696.7 581h0M734.9 583h0M676 581.1h0M734.3 581.9h0M716.9 576.3h0M744.2 583.3h0M692.9 581.8h0M698.6 580.6h0M665.8 570.2h0M709.7 574.9h0M734.4 580.1h0M709.3 575.4h0M710.1 575.8h0M747.9 583.2h0M733.6 583.8h0M690.2 581.5h0M750.7 582.3h0M729.6 579.2h0M688.9 581.9h0M680.3 581.7h0M724.9 580.7h0M708.7 575.6h0M717.5 577.9h0M672.4 580.9h0M733.5 580.9h0M742.7 584.6h0M700.3 580.2h0M689.2 580.9h0M753.6 579.3h0M753.6 581h0M672 580.1h0M711.9 576.6h0M701.9 577.9h0M686.9 580.9h0M709.8 575.6h0M724.1 580.2h0M695.2 580.9h0M689.5 581.2h0M742.9 582.7h0M723.2 579.7h0M689.3 582.3h0M675 580.4h0M696.9 581.1h0M750.2 582.4h0M739.7 583.1h0M680.2 581.1h0M718.2 576.4h0M660.5 576.3h0M747.1 582.5h0M750.4 582h0M680.8 581.4h0M692.9 581.7h0M688.9 581.4h0M677.9 580.7h0M725.6 581h0M696.2 581.4h0M660.5 576.3h0M681.1 582.2h0M723.5 579.4h0M727.4 580h0M661.6 576.8h0M712.8 573.6h0M721.3 576.6h0M721.1 579.1h0M722.5 578.4h0M729.1 550.7h0M737.5 553h0M727.7 551.3h0M744.1 554.4h0M731.7 548.9h0M754 556h0M732.3 551.5h0M754.7 556.2h0M753.1 557.3h0M741.7 553.2h0M740.1 553.2h0M737.9 551.7h0M748.3 556.7h0M732.1 553.4h0M736.9 551.3h0M728.4 553.1h0M739 552.6h0M732.2 552.8h0M753.3 556.7h0M739.7 553.2h0M733.1 551.6h0M734.6 551.3h0M731.9 551.6h0M729.3 550.7h0M728.2 551.7h0M747.4 556.8h0M729.7 552.3h0M751 558h0M754.7 554h0M753.1 557.2h0M731.8 551.2h0M749.6 556.9h0M744 556.2h0M754 556.9h0M735.2 552.6h0M744.2 554.2h0M744.5 554.9h0M732.2 552.3h0M744 553.3h0M747.7 557.7h0M750 558h0M751.4 557.6h0M727.5 552.2h0M748.6 556.4h0M736.1 552.2h0M748.8 556.3h0M731.1 549.9h0M737.6 553.9h0M738.4 551.7h0M746.8 554.7h0M744.5 556.4h0M750.2 557.1h0M726.9 548.5h0M734.9 551.6h0M748 558.4h0M733.6 551.7h0M751.1 560h0" style="fill:none;stroke:#4a98ca;stroke-width:3;stroke-linecap:round"/>
</g>
   <g id="patch_8">
    <path d="M 90.5 614.5 
L 90.5 361.5 
" style="fill: none; stroke: #000000; stroke-width: 0.8; stroke-linejoin: miter; stroke-linecap: square"/>
   </g>
   <g id="patch_9">
    <path d="M 765.5 614.5 
L 765.5 361.5 
" style="fill: none; stroke: #000000; stroke-width: 0.8; stroke-linejoin: miter; stroke-linecap: square"/>
   </g>
   <g id="patch_10">
    <path d="M 90.5 614.5 
L 765.5 614.5 
" style="fill: none; stroke: #000000; stroke-width: 0.8; stroke-linejoin: miter; stroke-linecap: square"/>
   </g>
   <g id="patch_11">
    <path d="M 90.5 361.5 
L 765.5 361.5 
" style="fill: none; stroke: #000000; stroke-width: 0.8; stroke-linejoin: miter; stroke-linecap: square"/>
   </g>
   <g id="text_16">
    <text style="font-size: 18px; font-family: 'DejaVu Sans', 'Liberation Sans', sans-serif; text-anchor: middle" x="428" y="355.5" transform="rotate(-0 428 355.5)">Total Electron Content (TEC)</text>
   </g>
  </g>
  <g id="axes_3">
   <g id="patch_12">
    <path d="M 90.5 886.5 
L 765.5 886.5 
L 765.5 634.5 
L 90.5 634.5 
z
" style="fill: #ffffff"/>
   </g>
   <g id="matplotlib.axis_5">
    <g id="xtick_27">
     <g id="line2d_77">
      <path d="M 100.5 886.5 
L 100.5 634.5 
" clip-path="url(#p09f1e6cd0e)" style="fill: none; stroke: #b0b0b0; stroke-width: 0.8; stroke-linecap: square"/>
     </g>
     <g id="line2d_78">
      <g>
       <use href="#m1504cfccaf" x="100.5" y="886.5" style="stroke: #000000; stroke-width: 0.8"/>
      </g>
     </g>
    </g>
    <g id="xtick_28">
     <g id="line2d_79">
      <path d="M 146.5 886.5 
L 146.5 634.5 
" clip-path="url(#p09f1e6cd0e)" style="fill: none; stroke: #b0b0b0; stroke-width: 0.8; stroke-linecap: square"/>
     </g>
     <g id="line2d_80">
      <g>
       <use href="#m1504cfccaf" x="146.5" y="886.5" style="stroke: #000000; stroke-width: 0.8"/>
      </g>
     </g>
    </g>
    <g id="xtick_29">
     <g id="line2d_81">
      <path d="M 202.5 886.5 
L 202.5 634.5 
" clip-path="url(#p09f1e6cd0e)" style="fill: none; stroke: #b0b0b0; stroke-width: 0.8; stroke-linecap: square"/>
     </g>
     <g id="line2d_82">
      <g>
       <use href="#m1504cfccaf" x="202.5" y="886.5" style="stroke: #000000; stroke-width: 0.8"/>
      </g>
     </g>
    </g>
    <g id="xtick_30">
     <g id="line2d_83">
      <path d="M 259.5 886.5 
L 259.5 634.5 
" clip-path="url(#p09f1e6cd0e)" style="fill: none; stroke: #b0b0b0; stroke-width: 0.8; stroke-linecap: square"/>
     </g>
     <g id="line2d_84">
      <g>
       <use href="#m1504cfccaf" x="259.5" y="886.5" style="stroke: #000000; stroke-width: 0.8"/>
      </g>
     </g>
    </g>
    <g id="xtick_31">
     <g id="line2d_85">
      <path d="M 315.5 886.5 
L 315.5 634.5 
" clip-path="url(#p09f1e6cd0e)" style="fill: none; stroke: #b0b0b0; stroke-width: 0.8; stroke-linecap: square"/>
     </g>
     <g id="line2d_86">
      <g>
       <use href="#m1504cfccaf" x="315.5" y="886.5" style="stroke: #000000; stroke-width: 0.8"/>
      </g>
     </g>
    </g>
    <g id="xtick_32">
     <g id="line2d_87">
      <path d="M 371.5 886.5 
L 371.5 634.5 
" clip-path="url(#p09f1e6cd0e)" style="fill: none; stroke: #b0b0b0; stroke-width: 0.8; stroke-linecap: square"/>
     </g>
     <g id="line2d_88">
      <g>
       <use href="#m1504cfccaf" x="371.5" y="886.5" style="stroke: #000000; stroke-width: 0.8"/>
      </g>
     </g>
    </g>
    <g id="xtick_33">
     <g id="line2d_89">
      <path d="M 428.5 886.5 
L 428.5 634.5 
" clip-path="url(#p09f1e6cd0e)" style="fill: none; stroke: #b0b0b0; stroke-width: 0.8; stroke-linecap: square"/>
     </g>
     <g id="line2d_90">
      <g>
       <use href="#m1504cfccaf" x="428.5" y="886.5" style="stroke: #000000; stroke-width: 0.8"/>
      </g>
     </g>
    </g>
    <g id="xtick_34">
     <g id="line2d_91">
      <path d="M 484.5 886.5 
L 484.5 634.5 
" clip-path="url(#p09f1e6cd0e)" style="fill: none; stroke: #b0b0b0; stroke-width: 0.8; stroke-linecap: square"/>
     </g>
     <g id="line2d_92">
      <g>
       <use href="#m1504cfccaf" x="484.5" y="886.5" style="stroke: #000000; stroke-width: 0.8"/>
      </g>
     </g>
    </g>
    <g id="xtick_35">
     <g id="line2d_93">
      <path d="M 540.5 886.5 
L 540.5 634.5 
" clip-path="url(#p09f1e6cd0e)" style="fill: none; stroke: #b0b0b0; stroke-width: 0.8; stroke-linecap: square"/>
     </g>
     <g id="line2d_94">
      <g>
       <use href="#m1504cfccaf" x="540.5" y="886.5" style="stroke: #000000; stroke-width: 0.8"/>
      </g>
     </g>
    </g>
    <g id="xtick_36">
     <g id="line2d_95">
      <path d="M 596.5 886.5 
L 596.5 634.5 
" clip-path="url(#p09f1e6cd0e)" style="fill: none; stroke: #b0b0b0; stroke-width: 0.8; stroke-linecap: square"/>
     </g>
     <g id="line2d_96">
      <g>
       <use href="#m1504cfccaf" x="596.5" y="886.5" style="stroke: #000000; stroke-width: 0.8"/>
      </g>
     </g>
    </g>
    <g id="xtick_37">
     <g id="line2d_97">
      <path d="M 652.5 886.5 
L 652.5 634.5 
" clip-path="url(#p09f1e6cd0e)" style="fill: none; stroke: #b0b0b0; stroke-width: 0.8; stroke-linecap: square"/>
     </g>
     <g id="line2d_98">
      <g>
       <use href="#m1504cfccaf" x="652.5" y="886.5" style="stroke: #000000; stroke-width: 0.8"/>
      </g>
     </g>
    </g>
    <g id="xtick_38">
     <g id="line2d_99">
      <path d="M 709.5 886.5 
L 709.5 634.5 
" clip-path="url(#p09f1e6cd0e)" style="fill: none; stroke: #b0b0b0; stroke-width: 0.8; stroke-linecap: square"/>
     </g>
     <g id="line2d_100">
      <g>
       <use href="#m1504cfccaf" x="709.5" y="886.5" style="stroke: #000000; stroke-width: 0.8"/>
      </g>
     </g>
    </g>
    <g id="xtick_39">
     <g id="line2d_101">
      <path d="M 755.5 886.5 
L 755.5 634.5 
" clip-path="url(#p09f1e6cd0e)" style="fill: none; stroke: #b0b0b0; stroke-width: 0.8; stroke-linecap: square"/>
     </g>
     <g id="line2d_102">
      <g>
       <use href="#m1504cfccaf" x="755.5" y="886.5" style="stroke: #000000; stroke-width: 0.8"/>
      </g>
     </g>
    </g>
   </g>
   <g id="matplotlib.axis_6">
    <g id="ytick_13">
     <g id="line2d_103">
      <path d="M 90.5 667.5 
L 765.5 667.5 
" clip-path="url(#p09f1e6cd0e)" style="fill: none; stroke: #b0b0b0; stroke-width: 0.8; stroke-linecap: square"/>
     </g>
     <g id="line2d_104">
      <g>
       <use href="#m5d545ce8f8" x="90.5" y="667.5" style="stroke: #000000; stroke-width: 0.8"/>
      </g>
     </g>
     <g id="text_17">
      <text style="font-size: 15px; font-family: 'DejaVu Sans', 'Liberation Sans', sans-serif; text-anchor: end" x="84.3" y="673.198828" transform="rotate(-0 84.3 673.198828)">1.500</text>
     </g>
    </g>
    <g id="ytick_14">
     <g id="line2d_105">
      <path d="M 90.5 703.5 
L 765.5 703.5 
" clip-path="url(#p09f1e6cd0e)" style="fill: none; stroke: #b0b0b0; stroke-width: 0.8; stroke-linecap: square"/>
     </g>
     <g id="line2d_106">
      <g>
       <use href="#m5d545ce8f8" x="90.5" y="703.5" style="stroke: #000000; stroke-width: 0.8"/>
      </g>
     </g>
     <g id="text_18">
      <text style="font-size: 15px; font-family: 'DejaVu Sans', 'Liberation Sans', sans-serif; text-anchor: end" x="84.3" y="709.198828" transform="rotate(-0 84.3 709.198828)">1.250</text>
     </g>
    </g>
    <g id="ytick_15">
     <g id="line2d_107">
      <path d="M 90.5 740.5 
L 765.5 740.5 
" clip-path="url(#p09f1e6cd0e)" style="fill: none; stroke: #b0b0b0; stroke-width: 0.8; stroke-linecap: square"/>
     </g>
     <g id="line2d_108">
      <g>
       <use href="#m5d545ce8f8" x="90.5" y="740.5" style="stroke: #000000; stroke-width: 0.8"/>
      </g>
     </g>
     <g id="text_19">
      <text style="font-size: 15px; font-family: 'DejaVu Sans', 'Liberation Sans', sans-serif; text-anchor: end" x="84.3" y="746.198828" transform="rotate(-0 84.3 746.198828)">1.000</text>
     </g>
    </g>
    <g id="ytick_16">
     <g id="line2d_109">
      <path d="M 90.5 777.5 
L 765.5 777.5 
" clip-path="url(#p09f1e6cd0e)" style="fill: none; stroke: #b0b0b0; stroke-width: 0.8; stroke-linecap: square"/>
     </g>
     <g id="line2d_110">
      <g>
       <use href="#m5d545ce8f8" x="90.5" y="777.5" style="stroke: #000000; stroke-width: 0.8"/>
      </g>
     </g>
     <g id="text_20">
      <text style="font-size: 15px; font-family: 'DejaVu Sans', 'Liberation Sans', sans-serif; text-anchor: end" x="84.3" y="783.198828" transform="rotate(-0 84.3 783.198828)">0.750</text>
     </g>
    </g>
    <g id="ytick_17">
     <g id="line2d_111">
      <path d="M 90.5 813.5 
L 765.5 813.5 
" clip-path="url(#p09f1e6cd0e)" style="fill: none; stroke: #b0b0b0; stroke-width: 0.8; stroke-linecap: square"/>
     </g>
     <g id="line2d_112">
      <g>
       <use href="#m5d545ce8f8" x="90.5" y="813.5" style="stroke: #000000; stroke-width: 0.8"/>
      </g>
     </g>
     <g id="text_21">
      <text style="font-size: 15px; font-family: 'DejaVu Sans', 'Liberation Sans', sans-serif; text-anchor: end" x="84.3" y="819.198828" transform="rotate(-0 84.3 819.198828)">0.500</text>
     </g>
    </g>
    <g id="ytick_18">
     <g id="line2d_113">
      <path d="M 90.5 850.5 
L 765.5 850.5 
" clip-path="url(#p09f1e6cd0e)" style="fill: none; stroke: #b0b0b0; stroke-width: 0.8; stroke-linecap: square"/>
     </g>
     <g id="line2d_114">
      <g>
       <use href="#m5d545ce8f8" x="90.5" y="850.5" style="stroke: #000000; stroke-width: 0.8"/>
      </g>
     </g>
     <g id="text_22">
      <text style="font-size: 15px; font-family: 'DejaVu Sans', 'Liberation Sans', sans-serif; text-anchor: end" x="84.3" y="856.198828" transform="rotate(-0 84.3 856.198828)">0.250</text>
     </g>
    </g>
    <g id="ytick_19">
     <g id="line2d_115">
      <path d="M 90.5 886.5 
L 765.5 886.5 
" clip-path="url(#p09f1e6cd0e)" style="fill: none; stroke: #b0b0b0; stroke-width: 0.8; stroke-linecap: square"/>
     </g>
     <g id="line2d_116">
      <g>
       <use href="#m5d545ce8f8" x="90.5" y="886.5" style="stroke: #000000; stroke-width: 0.8"/>
      </g>
     </g>
     <g id="text_23">
      <text style="font-size: 15px; font-family: 'DejaVu Sans', 'Liberation Sans', sans-serif; text-anchor: end" x="84.3" y="892.198828" transform="rotate(-0 84.3 892.198828)">0.000</text>
     </g>
    </g>
    <g id="text_24">
     
     <g transform="translate(22.238281 819.75) rotate(-90)">
      <text><tspan x="0" y="-0.459375" style="font-size: 15px; font-family: 'DejaVu Sans', 'Liberation Sans', sans-serif">N</tspan><tspan x="11.364" y="2.001562" style="font-size: 10.5px; font-family: 'DejaVu Sans', 'Liberation Sans', sans-serif">e </tspan><tspan x="21.157" y="-0.459375" style="font-size: 15px; font-family: 'DejaVu Sans', 'Liberation Sans', sans-serif">×</tspan><tspan x="36.647" y="-0.459375" style="font-size: 15px; font-family: 'DejaVu Sans', 'Liberation Sans', sans-serif">10</tspan><tspan x="55.878" y="-6.201563" style="font-size: 10.5px; font-family: 'DejaVu Sans', 'Liberation Sans', sans-serif">6 </tspan><tspan x="67.839" y="-0.459375" style="font-size: 15px; font-family: 'DejaVu Sans', 'Liberation Sans', sans-serif">[cm</tspan><tspan x="96.694" y="-6.201563" style="font-size: 10.5px; font-family: 'DejaVu Sans', 'Liberation Sans', sans-serif">−3</tspan><tspan x="112.582" y="-0.459375" style="font-size: 15px; font-family: 'DejaVu Sans', 'Liberation Sans', sans-serif">]</tspan></text>
     </g>
    </g>
   </g>
   <g id="densdata">
<path d="M135 875.8L135.7 875.8L136.3 875.8L137 875.7L137.7 875.7L138.3 875.6L139 875.5L139.7 875.4L140.3 875.2L141 875L141.7 874.7L142.3 874.3L143 873.9L143.7 873.5L144.3 873.2L145 872.8L145.7 872.4L146.3 872.1L147 871.9L147.7 871.6L148.4 871.4L149 871.1L149.7 870.9L150.4 870.6L151 870.4L151.7 870.1L152.4 869.8L153 869.6L153.7 869.4L154.4 869.1L155 868.9L155.7 868.6L156.4 868.4L157 868.2L157.7 868L158.4 867.8L159 867.6L159.7 867.4L160.4 867.2L161 867.1L161.7 866.9L162.4 866.8L163 866.7L163.7 866.5L164.4 866.4L165 866.4L165.7 866.3L166.4 866.2L167 866.2L167.7 866.1L168.4 866L169 866L169.7 865.9L170.4 865.9L171.1 865.8L171.7 865.8L172.4 865.7L173.1 865.7L173.7 865.6L174.4 865.6L175.1 865.5L175.7 865.5L176.4 865.4L177.1 865.4L177.7 865.4L178.4 865.3L179.1 865.3L179.7 865.3L180.4 865.3L181.1 865.2L181.7 865.2L182.4 865.2L183.1 865.2L183.7 865.2L184.4 865.2L185.1 865.2L185.7 865.2L186.4 865.3L187.1 865.4L187.7 865.4L188.4 865.5L189.1 865.6L189.7 865.7L190.4 865.9L191.1 866L191.7 866.1L192.4 866.2L193.1 866.4L193.8 866.5L194.4 866.6L195.1 866.7L195.8 866.8L196.4 866.9L197.1 867L197.8 867L198.4 867.1L199.1 867.1L199.8 867.1L200.4 867.1L201.1 867L201.8 866.9L202.4 866.8L203.1 866.6L203.8 866.4L204.4 866.2L205.1 866L205.8 865.8L206.4 865.5L207.1 865.3L207.8 865L208.4 864.7L209.1 864.5L209.8 864.2L210.4 863.9L211.1 863.7L211.8 863.4L212.4 863.2L213.1 863L213.8 862.8L214.4 862.7L215.1 862.5L215.8 862.4L216.5 862.2L217.1 862.1L217.8 862L218.5 861.9L219.1 861.8L219.8 861.6L220.5 861.5L221.1 861.4L221.8 861.3L222.5 861.2L223.1 861.1L223.8 861L224.5 860.9L225.1 860.8L225.8 860.7L226.5 860.6L227.1 860.5L227.8 860.4L228.5 860.3L229.1 860.2L229.8 860.1L230.5 860L231.1 859.9L231.8 859.8L232.5 859.7L233.1 859.6L233.8 859.5L234.5 859.3L235.1 859.2L235.8 859.1L236.5 858.9L237.1 858.8L237.8 858.7L238.5 858.5L239.2 858.4L239.8 858.2L240.5 858.1L241.2 857.9L241.8 857.8L242.5 857.6L243.2 857.5L243.8 857.3L244.5 857.2L245.2 857L245.8 856.9L246.5 856.7L247.2 856.6L247.8 856.4L248.5 856.3L249.2 856.2L249.8 856L250.5 855.9L251.2 855.8L251.8 855.7L252.5 855.5L253.2 855.4L253.8 855.3L254.5 855.2L255.2 855.1L255.8 855L256.5 855L257.2 854.9L257.8 854.8L258.5 854.7L259.2 854.6L259.8 854.6L260.5 854.5L261.2 854.4L261.9 854.3L262.5 854.3L263.2 854.2L263.9 854.1L264.5 854L265.2 854L265.9 853.9L266.5 853.8L267.2 853.8L267.9 853.7L268.5 853.6L269.2 853.6L269.9 853.5L270.5 853.5L271.2 853.4L271.9 853.4L272.5 853.3L273.2 853.3L273.9 853.2L274.5 853.2L275.2 853.2L275.9 853.2L276.5 853.1L277.2 853.1L277.9 853.1L278.5 853.1L279.2 853.1L279.9 853.1L280.5 853.2L281.2 853.2L281.9 853.3L282.5 853.4L283.2 853.5L283.9 853.6L284.6 853.7L285.2 853.7L285.9 853.8L286.6 853.9L287.2 854L287.9 854.1L288.6 854.1L289.2 854.2L289.9 854.2L290.6 854.2L291.2 854.2L291.9 854.1L292.6 854L293.2 853.9L293.9 853.8L294.6 853.6L295.2 853.4L295.9 853.2L296.6 853L297.2 852.8L297.9 852.6L298.6 852.3L299.2 852.1L299.9 851.8L300.6 851.6L301.2 851.3L301.9 851.1L302.6 850.8L303.2 850.5L303.9 850.2L304.6 849.8L305.2 849.4L305.9 849L306.6 848.6L307.3 848.2L307.9 847.8L308.6 847.3L309.3 846.8L309.9 846.3L310.6 845.8L311.3 845.3L311.9 844.7L312.6 844.1L313.3 843.5L313.9 842.8L314.6 842.1L315.3 841.3L315.9 840.5L316.6 839.5L317.3 838.4L317.9 837.1L318.6 835.7L319.3 834.3L319.9 832.7L320.6 831.2L321.3 829.7L321.9 828.1L322.6 826.6L323.3 825.1L323.9 823.5L324.6 821.8L325.3 820.2L325.9 818.5L326.6 816.9L327.3 815.2L327.9 813.5L328.6 811.9L329.3 810.2L329.9 808.6L330.6 807L331.3 805.3L332 803.7L332.6 802L333.3 800.4L334 798.7L334.6 797.1L335.3 795.4L336 793.7L336.6 792L337.3 790.3L338 788.6L338.6 786.9L339.3 785.1L340 783.4L340.6 781.7L341.3 780L342 778.4L342.6 776.8L343.3 775.1L344 773.4L344.6 771.7L345.3 769.9L346 768L346.6 766L347.3 763.9L348 761.7L348.6 759.3L349.3 756.7L350 753.7L350.6 750.4L351.3 746.9L352 743.2L352.6 739.3L353.3 735.4L354 731.4L354.7 727.5L355.3 723.5L356 719.4L356.7 715.2L357.3 710.9L358 706.5L358.7 702L359.3 697.4L360 692.6L360.7 687.4L361.3 682.2L362 677.1L362.7 672.1L363.3 667.6L364 663.3L364.7 659.3L365.3 655.7L366 652.8L366.7 650.3L367.3 648.3L368 647.1L368.7 646.2L369.3 646.1L370 647.2L370.7 649.1L371.3 651.1L372 654L372.7 657.4L373.3 660.9L374 664.6L374.7 668.6L375.3 672.7L376 676.9L376.7 681.1L377.4 685L378 688.9L378.7 692.8L379.4 696.6L380 700.1L380.7 703.3L381.4 706.1L382 708.7L382.7 711.2L383.4 713.4L384 715.4L384.7 717.2L385.4 719L386 720.6L386.7 722.2L387.4 723.6L388 725L388.7 726.2L389.4 727.4L390 728.6L390.7 729.7L391.4 730.7L392 731.7L392.7 732.7L393.4 733.5L394 734.2L394.7 734.7L395.4 735.2L396 735.6L396.7 735.9L397.4 736L398 735.6L398.7 734.9L399.4 733.8L400.1 732L400.7 731L401.4 732L402.1 733.6L402.7 734.5L403.4 735.1L404.1 735.3L404.7 735.3L405.4 735.3L406.1 735.3L406.7 735.3L407.4 735.3L408.1 735.3L408.7 735.2L409.4 734.8L410.1 734.3L410.7 733.6L411.4 732.9L412.1 732.1L412.7 731.3L413.4 730.6L414.1 729.8L414.7 729L415.4 728.1L416.1 727.1L416.7 726.1L417.4 725.1L418.1 724L418.7 722.9L419.4 721.7L420.1 720.6L420.7 719.3L421.4 718L422.1 716.6L422.8 715.1L423.4 713.6L424.1 712L424.8 710.5L425.4 708.9L426.1 707.4L426.8 705.9L427.4 704.4L428.1 702.8L428.8 701.2L429.4 699.7L430.1 698.1L430.8 696.6L431.4 695.2L432.1 693.8L432.8 692.5L433.4 691.1L434.1 689.9L434.8 688.8L435.4 687.9L436.1 686.9L436.8 686.1L437.4 685.5L438.1 685.3L438.8 685.4L439.4 685.5L440.1 685.7L440.8 685.9L441.4 686.2L442.1 686.7L442.8 687.4L443.4 688.1L444.1 688.8L444.8 689.6L445.5 690.5L446.1 691.4L446.8 692.4L447.5 693.4L448.1 694.5L448.8 695.7L449.5 697L450.1 698.5L450.8 700.1L451.5 701.9L452.1 703.8L452.8 705.8L453.5 707.8L454.1 709.8L454.8 711.9L455.5 713.8L456.1 715.7L456.8 717.5L457.5 719.4L458.1 721.3L458.8 723.1L459.5 724.8L460.1 726.3L460.8 727.7L461.5 728.9L462.1 730.1L462.8 731.3L463.5 732.4L464.1 733.5L464.8 734.7L465.5 735.9L466.1 737L466.8 738.2L467.5 739.3L468.2 740.5L468.8 741.7L469.5 742.9L470.2 744.1L470.8 745.3L471.5 746.5L472.2 747.7L472.8 748.9L473.5 750.1L474.2 751.3L474.8 752.5L475.5 753.6L476.2 754.8L476.8 756.1L477.5 757.3L478.2 758.6L478.8 759.9L479.5 761.2L480.2 762.6L480.8 764L481.5 765.5L482.2 767L482.8 768.6L483.5 770.3L484.2 772L484.8 773.9L485.5 776.1L486.2 778.5L486.8 781.1L487.5 783.7L488.2 786.5L488.8 789.2L489.5 792L490.2 794.7L490.8 797.2L491.5 799.6L492.2 801.8L492.9 803.9L493.5 806.1L494.2 808.3L494.9 810.4L495.5 812.5L496.2 814.5L496.9 816.3L497.5 818.1L498.2 819.7L498.9 821.1L499.5 822.3L500.2 823.4L500.9 824.4L501.5 825.3L502.2 826.2L502.9 827.1L503.5 827.9L504.2 828.7L504.9 829.4L505.5 830.1L506.2 830.7L506.9 831.3L507.5 831.9L508.2 832.3L508.9 832.8L509.5 833.1L510.2 833.5L510.9 833.8L511.5 834L512.2 834.3L512.9 834.6L513.5 834.8L514.2 835L514.9 835.2L515.6 835.4L516.2 835.6L516.9 835.8L517.6 836L518.2 836.1L518.9 836.3L519.6 836.5L520.2 836.7L520.9 836.9L521.6 837.2L522.2 837.4L522.9 837.6L523.6 837.8L524.2 838L524.9 838.2L525.6 838.5L526.2 838.7L526.9 838.9L527.6 839.1L528.2 839.3L528.9 839.5L529.6 839.8L530.2 840L530.9 840.2L531.6 840.4L532.2 840.6L532.9 840.9L533.6 841.1L534.2 841.3L534.9 841.5L535.6 841.7L536.2 842L536.9 842.2L537.6 842.4L538.3 842.6L538.9 842.8L539.6 843.1L540.3 843.3L540.9 843.5L541.6 843.8L542.3 844L542.9 844.2L543.6 844.5L544.3 844.7L544.9 844.9L545.6 845.2L546.3 845.4L546.9 845.6L547.6 845.9L548.3 846.1L548.9 846.3L549.6 846.5L550.3 846.8L550.9 847L551.6 847.2L552.3 847.4L552.9 847.7L553.6 847.9L554.3 848.1L554.9 848.3L555.6 848.5L556.3 848.8L556.9 849L557.6 849.2L558.3 849.4L558.9 849.6L559.6 849.8L560.3 850.1L561 850.3L561.6 850.5L562.3 850.7L563 850.9L563.6 851.2L564.3 851.4L565 851.6L565.6 851.8L566.3 852L567 852.2L567.6 852.4L568.3 852.6L569 852.8L569.6 853L570.3 853.2L571 853.4L571.6 853.6L572.3 853.7L573 853.9L573.6 854.1L574.3 854.2L575 854.4L575.6 854.5L576.3 854.6L577 854.8L577.6 854.9L578.3 855.1L579 855.2L579.6 855.3L580.3 855.5L581 855.6L581.6 855.8L582.3 855.9L583 856L583.7 856.1L584.3 856.3L585 856.4L585.7 856.5L586.3 856.6L587 856.6L587.7 856.7L588.3 856.8L589 856.8L589.7 856.9L590.3 856.9L591 856.9L591.7 856.9L592.3 856.9L593 856.9L593.7 856.9L594.3 856.9L595 856.9L595.7 856.8L596.3 856.8L597 856.8L597.7 856.8L598.3 856.7L599 856.7L599.7 856.7L600.3 856.7L601 856.6L601.7 856.6L602.3 856.6L603 856.5L603.7 856.5L604.3 856.4L605 856.4L605.7 856.4L606.4 856.3L607 856.3L607.7 856.2L608.4 856.2L609 856.1L609.7 856.1L610.4 856L611 856L611.7 855.9L612.4 855.9L613 855.8L613.7 855.8L614.4 855.7L615 855.7L615.7 855.6L616.4 855.5L617 855.5L617.7 855.4L618.4 855.3L619 855.2L619.7 855.1L620.4 855L621 854.9L621.7 854.8L622.4 854.7L623 854.6L623.7 854.5L624.4 854.4L625 854.3L625.7 854.2L626.4 854L627 853.9L627.7 853.8L628.4 853.7L629.1 853.5L629.7 853.4L630.4 853.3L631.1 853.2L631.7 853L632.4 852.9L633.1 852.8L633.7 852.6L634.4 852.5L635.1 852.4L635.7 852.3L636.4 852.1L637.1 852L637.7 851.9L638.4 851.7L639.1 851.6L639.7 851.5L640.4 851.3L641.1 851.2L641.7 851.1L642.4 850.9L643.1 850.8L643.7 850.6L644.4 850.5L645.1 850.3L645.7 850.2L646.4 850L647.1 849.8L647.7 849.7L648.4 849.5L649.1 849.3L649.7 849.1L650.4 848.9L651.1 848.7L651.8 848.5L652.4 848.2L653.1 848L653.8 847.8L654.4 847.5L655.1 847.2L655.8 846.9L656.4 846.5L657.1 846.1L657.8 845.7L658.4 845.3L659.1 844.9L659.8 844.4L660.4 844L661.1 843.5L661.8 843.1L662.4 842.6L663.1 842.1" style="fill:none;stroke:#4a98ca;stroke-width:3.0;stroke-linecap:round;stroke-linejoin:round"/>
<path d="M99.4 879L99.5 877L99.7 874.9L99.8 872.9L99.9 870.9L100.1 868.8L100.2 866.8L100.3 864.8L100.5 862.7L100.6 861.7L100.8 861.2L101 860.7L101.2 860.3L101.3 859.8L101.5 859.3L101.7 858.8L101.9 858.4L102 858.3L102.2 859.2L102.4 860.2L102.6 861.1L102.8 862.1L102.9 863L103.1 864L103.3 864.9L103.5 865.9L103.8 865.6L104.1 865.1L104.4 864.6L104.7 864.1L105 863.7L105.3 863.2L105.6 862.7L105.9 862.2L106.1 862.3L106.4 862.7L106.6 863.2L106.8 863.7L107.1 864.2L107.3 864.6L107.6 865.1L107.8 865.6L108 865.9L108.3 865.3L108.5 864.7L108.8 864.1L109 863.5L109.2 862.9L109.5 862.3L109.7 861.7L109.9 861.1L110.3 860.7L110.6 860.4L110.9 860L111.2 859.6L111.5 859.3L111.9 858.9L112.2 858.6L112.5 858.2L112.8 858.4L113.1 859.4L113.4 860.3L113.6 861.3L113.9 862.2L114.2 863.2L114.5 864.1L114.7 865.1L115 866L115.4 866.9L115.8 867.7L116.2 868.6L116.6 869.4L117 870.2L117.4 871.1L117.8 871.9L118.2 872.7L118.5 873.2L118.8 873.6L119.2 874L119.5 874.3L119.8 874.7L120.1 875L120.5 875.4L120.8 875.8L121.1 876.1L121.5 876.3L121.8 876.6L122.2 876.8L122.5 877L122.9 877.3L123.3 877.5L123.6 877.7L124 878L124.2 877.5L124.5 877.1L124.7 876.6L124.9 876.1L125.2 875.6L125.4 875.2L125.7 874.7L125.9 874.2L126.1 873.4L126.4 872.5L126.6 871.5L126.9 870.6L127.1 869.6L127.3 868.7L127.6 867.7L127.8 866.8L128 865.8L128.2 864.7L128.4 863.6L128.7 862.5L128.9 861.5L129.1 860.4L129.3 859.3L129.5 858.2L129.7 857.2L129.8 858.1L130 859.4L130.1 860.7L130.3 862.1L130.5 863.4L130.6 864.7L130.8 866L130.9 867.3L131.1 868.5L131.4 869.4L131.6 870.4L131.8 871.3L132.1 872.3L132.3 873.2L132.5 874.2L132.8 875.1L133 876L133.3 876.1L133.5 876.1L133.7 876.2L134 876.2L134.2 876.3L134.5 876.4L134.7 876.4L134.9 876.5L135.4 876.4L136 876.2L136.6 876L137.2 875.8L137.8 875.7L138.4 875.5L139 875.3L139.6 875.1L140.3 874.9L141 874.5L141.7 874.2L142.4 873.8L143.1 873.4L143.8 873.1L144.6 872.7L145.3 872.4L146 872" style="fill:none;stroke:#4a98ca;stroke-width:1.8;stroke-linecap:round;stroke-linejoin:round"/>
<path d="M660 845L660.4 844.8L660.7 844.5L661.1 844.3L661.5 844L661.8 843.8L662.2 843.5L662.6 843.3L662.9 843L663.1 842.2L663.2 841.2L663.3 840.2L663.5 839.3L663.6 838.3L663.7 837.3L663.8 836.3L664 835.3L664.1 834L664.3 832.4L664.5 830.8L664.7 829.2L664.9 827.6L665 826L665.2 824.4L665.4 822.8L665.6 821.8L665.8 821.5L666 821.1L666.1 820.7L666.3 820.4L666.5 820L666.7 819.6L666.9 819.3L667 819.3L667.2 820.1L667.3 821L667.4 821.8L667.5 822.7L667.6 823.5L667.8 824.4L667.9 825.3L668 826.2L667.8 827.4L667.7 828.6L667.5 829.8L667.4 831L667.2 832.3L667.1 833.5L667 834.7L666.8 835.9L666.8 837L666.9 838.1L666.9 839.2L667 840.3L667 841.4L667.1 842.6L667.1 843.7L667.2 844.8L667.3 845.7L667.4 846.5L667.5 847.4L667.6 848.2L667.7 849.1L667.8 849.9L667.9 850.8L668 851.7L668.1 852.4L668.4 853.2L668.6 853.9L668.9 854.6L669.1 855.4L669.4 856.1L669.6 856.8L669.9 857.6L670.1 858.2L670.3 858.7L670.6 859.2L670.8 859.7L671.1 860.2L671.3 860.7L671.6 861.1L671.8 861.6L672.2 862.1L673.2 862.3L674.2 862.6L675.2 862.8L676.2 863L677.1 863.3L678.1 863.5L679.1 863.8L680.1 864L681.3 864.1L682.5 864.1L683.8 864.2L685 864.2L686.2 864.3L687.4 864.4L688.7 864.4L689.9 864.5L690.7 864.4L691.4 864.4L692.1 864.3L692.9 864.3L693.6 864.2L694.3 864.1L695.1 864.1L695.8 864L696.3 863.6L696.6 863.2L697 862.7L697.4 862.2L697.7 861.7L698.1 861.2L698.5 860.7L698.8 860.2L699.1 859.5L699.4 858.5L699.6 857.5L699.9 856.5L700.1 855.5L700.4 854.6L700.6 853.6L700.8 852.6L701 851.6L701.2 850.5L701.3 849.4L701.4 848.3L701.5 847.2L701.7 846.1L701.8 845L701.9 843.9L702 842.8L702.1 841.5L702.3 840.3L702.4 839.1L702.5 837.9L702.6 836.6L702.8 835.4L702.9 834.2L703 833L703.3 832.6L703.5 832.3L703.7 831.9L704 831.5L704.2 831.2L704.5 830.8L704.7 830.4L705 830.1L705.2 830.2L705.5 830.5L705.7 830.7L705.9 830.9L706.2 831.2L706.4 831.4L706.7 831.7L706.9 831.9L707.1 832.7L707.2 833.6L707.3 834.6L707.4 835.6L707.6 836.6L707.7 837.6L707.8 838.5L707.9 839.5L708.1 840.5L708.2 841.5L708.3 842.4L708.4 843.4L708.6 844.4L708.7 845.4L708.8 846.4L708.9 847.3L709.1 848.1L709.5 848.5L709.9 848.9L710.2 849.2L710.6 849.6L711 850L711.3 850.3L711.7 850.7L712.1 851L712.4 851.3L712.8 851.5L713.2 851.8L713.5 852L713.9 852.3L714.3 852.5L714.6 852.7L715 853L715.1 852L715.2 851.1L715.4 850.1L715.5 849.1L715.6 848.1L715.7 847.2L715.9 846.2L716 845.2L716.2 844.5L716.4 843.9L716.7 843.3L716.9 842.7L717.2 842.1L717.4 841.5L717.7 840.8L717.9 840.2L718.2 839.8L718.4 839.6L718.6 839.4L718.9 839.1L719.1 838.9L719.4 838.6L719.6 838.4L719.9 838.1L720.1 838.4L720.4 839.2L720.6 840.1L720.8 841L721.1 841.8L721.3 842.7L721.6 843.5L721.8 844.4L722.1 844.8L722.3 843.9L722.6 843.1L722.8 842.2L723 841.3L723.3 840.5L723.5 839.6L723.8 838.8L724 838L724.2 837.5L724.4 837L724.6 836.5L724.8 836L724.9 835.5L725.1 835L725.3 834.5L725.5 834L725.6 835.2L725.6 836.6L725.7 837.9L725.7 839.3L725.8 840.6L725.9 842L725.9 843.3L726 844.7L726.1 845.6L726.2 846.5L726.3 847.4L726.5 848.2L726.6 849.1L726.7 849.9L726.8 850.8L726.9 851.6L727.1 852.4L727.2 853.2L727.3 853.9L727.4 854.6L727.6 855.4L727.7 856.1L727.8 856.8L727.9 857.6L728.1 858.2L728.3 858.7L728.6 859.2L728.8 859.7L729.1 860.2L729.3 860.6L729.6 861.1L729.8 861.6L730.1 862.1L730.7 862.6L731.4 863.1L732 863.6L732.6 864.1L733.2 864.6L733.8 865L734.4 865.5L735 866L735.4 865.7L735.8 865.5L736.1 865.3L736.5 865L736.9 864.8L737.2 864.5L737.6 864.3L738 864L738.4 863.6L738.9 863.1L739.4 862.6L739.9 862.1L740.4 861.6L740.9 861.1L741.4 860.6L741.9 860.1L742.3 859.7L742.8 859.2L743.3 858.7L743.8 858.2L744.3 857.7L744.8 857.2L745.3 856.7L745.8 856.2L746.3 855.8L746.7 855.4L747.2 855.1L747.7 854.7L748.2 854.3L748.7 854L749.2 853.6L749.7 853.2L750.1 853.1L750.5 853.3L750.9 853.6L751.2 853.8L751.6 854.1L752 854.3L752.3 854.6L752.7 854.8L753.1 854.9L753.4 854.6L753.8 854.2L754.2 853.8L754.5 853.5L754.9 853.1L755.3 852.7L755.6 852.4L756 852" style="fill:none;stroke:#4a98ca;stroke-width:1.8;stroke-linecap:round;stroke-linejoin:round"/>
<path d="M104.5 865.5h0M120.5 877.5h0M137.5 876.5h0M116.5 870.5h0M106.5 863.5h0M102.5 859.5h0M108.5 868.5h0M102.5 864.5h0M140.5 872.5h0M107.5 863.5h0M109.5 863.5h0M116.5 866.5h0M104.5 863.5h0M122.5 876.5h0M125.5 873.5h0M129.5 861.5h0M102.5 860.5h0M137.5 874.5h0M121.5 876.5h0M100.5 859.5h0M142.5 878.5h0M142.5 874.5h0M112.5 861.5h0M114.5 866.5h0M128.5 861.5h0M131.5 866.5h0M127.5 867.5h0M111.5 857.5h0M105.5 860.5h0M129.5 862.5h0M116.5 865.5h0M128.5 864.5h0M109.5 863.5h0M99.5 874.5h0M134.5 873.5h0M134.5 876.5h0M103.5 865.5h0M100.5 864.5h0M114.5 863.5h0M119.5 872.5h0M129.5 859.5h0M106.5 865.5h0M130.5 857.5h0M124.5 876.5h0M115.5 866.5h0M104.5 861.5h0M114.5 863.5h0M125.5 873.5h0M103.5 862.5h0M130.5 863.5h0M101.5 861.5h0M124.5 879.5h0M105.5 862.5h0M133.5 875.5h0M116.5 869.5h0M113.5 860.5h0M135.5 874.5h0M126.5 871.5h0M106.5 864.5h0M117.5 871.5h0M135.5 873.5h0M137.5 877.5h0M122.5 881.5h0M101.5 860.5h0M134.5 873.5h0M134.5 876.5h0M102.5 859.5h0M99.5 875.5h0M106.5 862.5h0M133.5 877.5h0M101.5 858.5h0M101.5 860.5h0M138.5 874.5h0M128.5 864.5h0M110.5 862.5h0M102.5 857.5h0M136.5 877.5h0M130.5 864.5h0M134.5 875.5h0M106.5 862.5h0M132.5 876.5h0M100.5 859.5h0M115.5 870.5h0M135.5 873.5h0M111.5 858.5h0M124.5 880.5h0M119.5 876.5h0M133.5 874.5h0M121.5 874.5h0M130.5 870.5h0M123.5 875.5h0M102.5 860.5h0M115.5 866.5h0M101.5 858.5h0M134.5 880.5h0M129.5 863.5h0M124.5 878.5h0M133.5 873.5h0M131.5 870.5h0M104.5 864.5h0M115.5 865.5h0M134.5 879.5h0M121.5 873.5h0M99.5 871.5h0M130.5 857.5h0M131.5 862.5h0M102.5 861.5h0M126.5 871.5h0M128.5 864.5h0M113.5 860.5h0M100.5 855.5h0M113.5 857.5h0M120.5 873.5h0M109.5 863.5h0M119.5 876.5h0M118.5 874.5h0M113.5 864.5h0M119.5 870.5h0M122.5 877.5h0M104.5 864.5h0M122.5 879.5h0M99.5 877.5h0M109.5 867.5h0M121.5 877.5h0M99.5 876.5h0M105.5 861.5h0M102.5 862.5h0M102.5 856.5h0M109.5 866.5h0M107.5 862.5h0M121.5 876.5h0M102.5 862.5h0M101.5 857.5h0M133.5 877.5h0M114.5 863.5h0M109.5 864.5h0M127.5 863.5h0M126.5 874.5h0M125.5 872.5h0M100.5 879.5h0M124.5 882.5h0M126.5 864.5h0M101.5 856.5h0M141.5 874.5h0M134.5 878.5h0M130.5 859.5h0M105.5 863.5h0M130.5 862.5h0M119.5 874.5h0M114.5 862.5h0M122.5 878.5h0M118.5 867.5h0M126.5 866.5h0M135.5 880.5h0M143.5 873.5h0M106.5 862.5h0M133.5 880.5h0M119.5 876.5h0M103.5 867.5h0M130.5 857.5h0M112.5 860.5h0M110.5 860.5h0M118.5 870.5h0M118.5 874.5h0M124.5 876.5h0M99.5 871.5h0M118.5 876.5h0M128.5 864.5h0M127.5 866.5h0M103.5 866.5h0M113.5 859.5h0M108.5 864.5h0M101.5 861.5h0M106.5 864.5h0M102.5 860.5h0M128.5 862.5h0M139.5 875.5h0M114.5 860.5h0M110.5 856.5h0M145.5 873.5h0M125.5 876.5h0M131.5 868.5h0M106.5 862.5h0M137.5 872.5h0M104.5 864.5h0M127.5 860.5h0M128.5 865.5h0M106.5 861.5h0M132.5 879.5h0M110.5 861.5h0M126.5 872.5h0M112.5 858.5h0M101.5 860.5h0M105.5 861.5h0M108.5 865.5h0M118.5 871.5h0M113.5 863.5h0M131.5 868.5h0M116.5 864.5h0M121.5 877.5h0M131.5 877.5h0M103.5 863.5h0M128.5 874.5h0M129.5 857.5h0M126.5 873.5h0M142.5 872.5h0M103.5 861.5h0M117.5 870.5h0M133.5 874.5h0M102.5 858.5h0M132.5 875.5h0M129.5 856.5h0M100.5 861.5h0M121.5 877.5h0M127.5 867.5h0M131.5 871.5h0M104.5 865.5h0M125.5 875.5h0M128.5 858.5h0M133.5 876.5h0M747.5 855.5h0M691.5 863.5h0M728.5 855.5h0M725.5 847.5h0M720.5 838.5h0M667.5 838.5h0M698.5 861.5h0M720.5 840.5h0M702.5 837.5h0M736.5 868.5h0M742.5 860.5h0M664.5 828.5h0M720.5 843.5h0M750.5 851.5h0M747.5 855.5h0M666.5 820.5h0M735.5 864.5h0M660.5 844.5h0M685.5 861.5h0M729.5 863.5h0M663.5 845.5h0M708.5 841.5h0M709.5 848.5h0M663.5 843.5h0M710.5 850.5h0M720.5 837.5h0M708.5 836.5h0M708.5 844.5h0M667.5 827.5h0M756.5 850.5h0M744.5 857.5h0M753.5 853.5h0M726.5 846.5h0M738.5 863.5h0M707.5 832.5h0M708.5 846.5h0M708.5 841.5h0M729.5 860.5h0M663.5 837.5h0M725.5 841.5h0M671.5 862.5h0M679.5 863.5h0M725.5 841.5h0M726.5 842.5h0M722.5 846.5h0M688.5 866.5h0M725.5 840.5h0M702.5 835.5h0M729.5 861.5h0M666.5 818.5h0M704.5 829.5h0M667.5 830.5h0M739.5 864.5h0M707.5 840.5h0M667.5 837.5h0M732.5 862.5h0M701.5 844.5h0M727.5 857.5h0M708.5 846.5h0M666.5 838.5h0M707.5 833.5h0M710.5 849.5h0M718.5 838.5h0M691.5 863.5h0M667.5 825.5h0M667.5 850.5h0M701.5 842.5h0M700.5 855.5h0M744.5 857.5h0M722.5 843.5h0M755.5 854.5h0M746.5 853.5h0M664.5 831.5h0M666.5 820.5h0M664.5 827.5h0M687.5 867.5h0M698.5 858.5h0M726.5 842.5h0M666.5 834.5h0M707.5 840.5h0M728.5 857.5h0M701.5 843.5h0M704.5 830.5h0M728.5 858.5h0M725.5 838.5h0M661.5 846.5h0M671.5 861.5h0M750.5 851.5h0M701.5 845.5h0M678.5 861.5h0M701.5 849.5h0M734.5 866.5h0M730.5 860.5h0M731.5 864.5h0M746.5 855.5h0M732.5 863.5h0M697.5 864.5h0M717.5 841.5h0M701.5 844.5h0M720.5 836.5h0M667.5 850.5h0M663.5 837.5h0M673.5 863.5h0M703.5 835.5h0M742.5 860.5h0M717.5 837.5h0M748.5 857.5h0M678.5 865.5h0M723.5 843.5h0M723.5 845.5h0M706.5 833.5h0M712.5 850.5h0M700.5 852.5h0M721.5 844.5h0M742.5 856.5h0M735.5 864.5h0M702.5 837.5h0M696.5 863.5h0M661.5 843.5h0M717.5 843.5h0M694.5 861.5h0M664.5 836.5h0M694.5 863.5h0M728.5 858.5h0M730.5 860.5h0M729.5 859.5h0M708.5 848.5h0M722.5 838.5h0M666.5 820.5h0M723.5 839.5h0M723.5 844.5h0M713.5 850.5h0M738.5 861.5h0M696.5 864.5h0M674.5 864.5h0M727.5 853.5h0M664.5 836.5h0M667.5 829.5h0M667.5 848.5h0M714.5 849.5h0M678.5 864.5h0M667.5 819.5h0M692.5 863.5h0M725.5 846.5h0M718.5 837.5h0M706.5 838.5h0M673.5 857.5h0M718.5 837.5h0M717.5 840.5h0M667.5 845.5h0M700.5 854.5h0M702.5 834.5h0M676.5 866.5h0M720.5 842.5h0M730.5 862.5h0M704.5 832.5h0M727.5 854.5h0M726.5 832.5h0M667.5 839.5h0M665.5 819.5h0M725.5 835.5h0M699.5 856.5h0M664.5 833.5h0M667.5 822.5h0M667.5 837.5h0M725.5 842.5h0M719.5 837.5h0M702.5 845.5h0M668.5 848.5h0M726.5 844.5h0M709.5 847.5h0M726.5 844.5h0M702.5 834.5h0M663.5 839.5h0M725.5 836.5h0M717.5 841.5h0M667.5 848.5h0M728.5 857.5h0M712.5 846.5h0M744.5 855.5h0M708.5 843.5h0M665.5 823.5h0M701.5 842.5h0M667.5 820.5h0M717.5 841.5h0M704.5 831.5h0M745.5 853.5h0M725.5 844.5h0M725.5 847.5h0M667.5 824.5h0M671.5 861.5h0M756.5 851.5h0M704.5 829.5h0M724.5 834.5h0M730.5 859.5h0M660.5 840.5h0M676.5 863.5h0M725.5 841.5h0M666.5 819.5h0M704.5 835.5h0M702.5 843.5h0M667.5 843.5h0M725.5 835.5h0M721.5 838.5h0M667.5 834.5h0M724.5 836.5h0M726.5 845.5h0M717.5 841.5h0M695.5 866.5h0M672.5 861.5h0M711.5 848.5h0M667.5 850.5h0M696.5 863.5h0M664.5 833.5h0M660.5 843.5h0M667.5 842.5h0M727.5 856.5h0M699.5 857.5h0M666.5 820.5h0M697.5 860.5h0M718.5 842.5h0M664.5 826.5h0M671.5 857.5h0M734.5 865.5h0M668.5 852.5h0M667.5 845.5h0M699.5 857.5h0M666.5 820.5h0M668.5 854.5h0M667.5 852.5h0M670.5 855.5h0M703.5 830.5h0M726.5 849.5h0M718.5 837.5h0M737.5 865.5h0M665.5 822.5h0M670.5 859.5h0M665.5 836.5h0M667.5 828.5h0M662.5 842.5h0M659.5 843.5h0M701.5 844.5h0M730.5 864.5h0M756.5 850.5h0M667.5 842.5h0M727.5 849.5h0M699.5 856.5h0M735.5 863.5h0M752.5 857.5h0M743.5 856.5h0M726.5 836.5h0M669.5 852.5h0M667.5 828.5h0M719.5 839.5h0M739.5 863.5h0M702.5 831.5h0M746.5 856.5h0M700.5 857.5h0M710.5 851.5h0M726.5 848.5h0M664.5 826.5h0M713.5 851.5h0M698.5 862.5h0M717.5 838.5h0M721.5 843.5h0M678.5 862.5h0M744.5 857.5h0M749.5 855.5h0M662.5 839.5h0M721.5 845.5h0M731.5 863.5h0M718.5 840.5h0M700.5 852.5h0M727.5 848.5h0M668.5 823.5h0M745.5 854.5h0M666.5 818.5h0M667.5 845.5h0M724.5 836.5h0M676.5 858.5h0M731.5 859.5h0M752.5 854.5h0M664.5 825.5h0M721.5 845.5h0M663.5 837.5h0M740.5 862.5h0M667.5 849.5h0M696.5 862.5h0M724.5 836.5h0M754.5 855.5h0M714.5 853.5h0M703.5 833.5h0M663.5 838.5h0M728.5 858.5h0M726.5 833.5h0M743.5 857.5h0M666.5 832.5h0M708.5 844.5h0M662.5 844.5h0M702.5 837.5h0M707.5 832.5h0M708.5 839.5h0M700.5 856.5h0M668.5 827.5h0M666.5 822.5h0M665.5 825.5h0M681.5 865.5h0M749.5 853.5h0M704.5 828.5h0M720.5 835.5h0M738.5 867.5h0M665.5 821.5h0M721.5 842.5h0M715.5 847.5h0M730.5 860.5h0M671.5 867.5h0M708.5 841.5h0M733.5 864.5h0M667.5 820.5h0M699.5 855.5h0M663.5 840.5h0M661.5 842.5h0M663.5 830.5h0M722.5 841.5h0M697.5 863.5h0M754.5 850.5h0M697.5 861.5h0M724.5 842.5h0M712.5 853.5h0M752.5 851.5h0M712.5 846.5h0M666.5 820.5h0M692.5 865.5h0M686.5 863.5h0M719.5 841.5h0M727.5 851.5h0M666.5 821.5h0M706.5 828.5h0M739.5 863.5h0M667.5 844.5h0M714.5 851.5h0M697.5 863.5h0M705.5 831.5h0M684.5 861.5h0M742.5 860.5h0M724.5 839.5h0M715.5 845.5h0M727.5 850.5h0M713.5 852.5h0M726.5 838.5h0M739.5 862.5h0M721.5 844.5h0M662.5 837.5h0M726.5 848.5h0M667.5 847.5h0M745.5 855.5h0M697.5 865.5h0M676.5 867.5h0M749.5 854.5h0M681.5 863.5h0M751.5 852.5h0M754.5 856.5h0M728.5 859.5h0M739.5 861.5h0M736.5 866.5h0M721.5 844.5h0M739.5 863.5h0M727.5 861.5h0M662.5 845.5h0M719.5 839.5h0M754.5 853.5h0M691.5 865.5h0M751.5 856.5h0M713.5 853.5h0M725.5 845.5h0M671.5 861.5h0M704.5 831.5h0M667.5 821.5h0M717.5 842.5h0M697.5 859.5h0M708.5 843.5h0M729.5 860.5h0M726.5 841.5h0M666.5 831.5h0M709.5 845.5h0M663.5 834.5h0M708.5 848.5h0M671.5 856.5h0M704.5 830.5h0M727.5 854.5h0M673.5 864.5h0M738.5 862.5h0M666.5 822.5h0M679.5 863.5h0M725.5 837.5h0M752.5 851.5h0M670.5 860.5h0M706.5 832.5h0M667.5 820.5h0M723.5 841.5h0M663.5 841.5h0M721.5 842.5h0M732.5 865.5h0M704.5 833.5h0M722.5 844.5h0M733.5 861.5h0M667.5 840.5h0M741.5 863.5h0M735.5 864.5h0M705.5 833.5h0M665.5 823.5h0M690.5 865.5h0M736.5 865.5h0M747.5 851.5h0M753.5 854.5h0M724.5 841.5h0M667.5 829.5h0M701.5 856.5h0M667.5 822.5h0M666.5 840.5h0M715.5 847.5h0M701.5 845.5h0M666.5 824.5h0M704.5 830.5h0M692.5 863.5h0M729.5 858.5h0M718.5 837.5h0M725.5 834.5h0M720.5 840.5h0M707.5 839.5h0M723.5 838.5h0M743.5 860.5h0M700.5 847.5h0M715.5 847.5h0M708.5 842.5h0M736.5 864.5h0M712.5 853.5h0M665.5 826.5h0M666.5 836.5h0M665.5 821.5h0M705.5 829.5h0M735.5 864.5h0M714.5 848.5h0M726.5 836.5h0M664.5 824.5h0M673.5 862.5h0M666.5 838.5h0M667.5 828.5h0M725.5 849.5h0M665.5 825.5h0M699.5 861.5h0M694.5 863.5h0M719.5 837.5h0M739.5 866.5h0M666.5 829.5h0M668.5 848.5h0M716.5 842.5h0M672.5 864.5h0M668.5 852.5h0M730.5 864.5h0M714.5 851.5h0M667.5 845.5h0M666.5 821.5h0M671.5 860.5h0M690.5 862.5h0M725.5 841.5h0M722.5 843.5h0M735.5 867.5h0M714.5 853.5h0M748.5 854.5h0M726.5 850.5h0M663.5 836.5h0M668.5 828.5h0M696.5 862.5h0M664.5 834.5h0M717.5 841.5h0M703.5 833.5h0M696.5 863.5h0M721.5 846.5h0M725.5 838.5h0M672.5 861.5h0M670.5 858.5h0M675.5 860.5h0M716.5 844.5h0M670.5 858.5h0M667.5 838.5h0M701.5 853.5h0M666.5 833.5h0M669.5 857.5h0M728.5 856.5h0M727.5 851.5h0M717.5 838.5h0M701.5 842.5h0M714.5 850.5h0M722.5 843.5h0M700.5 848.5h0M667.5 827.5h0M722.5 845.5h0M745.5 858.5h0M750.5 851.5h0M699.5 852.5h0M700.5 851.5h0M698.5 858.5h0M663.5 836.5h0M695.5 862.5h0M674.5 862.5h0M712.5 852.5h0M727.5 850.5h0M662.5 847.5h0M688.5 862.5h0M668.5 827.5h0M726.5 848.5h0M684.5 862.5h0M667.5 852.5h0M734.5 868.5h0M716.5 845.5h0M670.5 860.5h0M700.5 856.5h0M716.5 847.5h0M709.5 850.5h0M662.5 842.5h0M701.5 852.5h0M750.5 855.5h0M716.5 847.5h0M699.5 859.5h0M726.5 838.5h0M701.5 851.5h0M723.5 840.5h0M684.5 865.5h0M703.5 832.5h0M659.5 843.5h0M663.5 838.5h0M708.5 843.5h0M730.5 865.5h0M667.5 850.5h0M667.5 822.5h0M702.5 837.5h0M701.5 852.5h0M713.5 849.5h0M727.5 855.5h0M755.5 850.5h0M754.5 855.5h0M701.5 851.5h0M725.5 833.5h0M725.5 844.5h0M667.5 821.5h0M700.5 853.5h0M752.5 852.5h0M711.5 849.5h0M664.5 837.5h0M709.5 849.5h0M663.5 838.5h0M687.5 863.5h0M725.5 839.5h0M724.5 836.5h0M744.5 856.5h0M739.5 864.5h0M718.5 839.5h0M700.5 844.5h0M738.5 862.5h0M738.5 865.5h0M720.5 836.5h0M727.5 854.5h0M665.5 819.5h0M667.5 819.5h0M717.5 841.5h0M665.5 820.5h0M726.5 850.5h0M722.5 843.5h0M707.5 835.5h0M701.5 839.5h0M724.5 837.5h0M678.5 862.5h0M706.5 834.5h0M725.5 835.5h0M666.5 817.5h0M735.5 867.5h0M736.5 864.5h0M670.5 860.5h0M668.5 851.5h0M716.5 847.5h0M668.5 855.5h0M727.5 850.5h0M667.5 830.5h0M674.5 861.5h0M698.5 861.5h0M701.5 849.5h0M702.5 839.5h0M666.5 824.5h0M667.5 854.5h0M741.5 862.5h0M666.5 837.5h0M700.5 856.5h0M705.5 831.5h0M743.5 858.5h0M661.5 844.5h0M716.5 842.5h0M707.5 837.5h0M723.5 836.5h0M666.5 820.5h0M725.5 838.5h0M667.5 827.5h0M729.5 859.5h0M667.5 823.5h0M725.5 835.5h0M734.5 867.5h0M660.5 844.5h0M728.5 861.5h0M741.5 857.5h0M754.5 853.5h0M708.5 848.5h0M728.5 857.5h0M663.5 841.5h0M708.5 839.5h0M691.5 866.5h0M701.5 844.5h0M689.5 863.5h0M715.5 851.5h0M737.5 866.5h0M718.5 840.5h0M716.5 845.5h0M754.5 853.5h0M705.5 830.5h0M697.5 861.5h0M689.5 863.5h0M742.5 858.5h0M728.5 859.5h0M750.5 852.5h0M728.5 859.5h0M751.5 854.5h0M708.5 847.5h0M718.5 837.5h0M714.5 851.5h0M716.5 839.5h0M661.5 839.5h0M756.5 852.5h0M701.5 839.5h0M702.5 835.5h0M717.5 838.5h0M726.5 854.5h0M698.5 860.5h0M665.5 823.5h0M667.5 843.5h0M671.5 859.5h0M667.5 850.5h0M708.5 842.5h0M697.5 862.5h0M726.5 837.5h0M705.5 830.5h0M667.5 843.5h0M138.5 875.5h0M290.5 855.5h0M230.5 860.5h0M239.5 860.5h0M213.5 865.5h0M268.5 854.5h0M299.5 851.5h0M182.5 864.5h0M290.5 854.5h0M193.5 866.5h0M146.5 872.5h0M147.5 870.5h0M187.5 865.5h0M158.5 866.5h0M171.5 866.5h0M160.5 866.5h0M270.5 855.5h0M252.5 856.5h0M155.5 868.5h0M191.5 866.5h0M292.5 855.5h0M189.5 863.5h0M258.5 855.5h0M292.5 854.5h0M141.5 875.5h0M213.5 863.5h0M214.5 862.5h0M269.5 853.5h0M221.5 861.5h0M291.5 853.5h0M231.5 860.5h0M220.5 861.5h0M241.5 858.5h0M157.5 868.5h0M165.5 866.5h0M237.5 861.5h0M289.5 854.5h0M285.5 853.5h0M187.5 865.5h0M284.5 852.5h0M247.5 855.5h0M297.5 851.5h0M270.5 853.5h0M289.5 852.5h0M252.5 855.5h0M203.5 864.5h0M193.5 865.5h0M182.5 865.5h0M206.5 865.5h0M197.5 867.5h0M199.5 867.5h0M184.5 864.5h0M263.5 854.5h0M266.5 854.5h0M263.5 854.5h0M183.5 866.5h0M212.5 862.5h0M277.5 852.5h0M255.5 854.5h0M182.5 866.5h0M181.5 866.5h0M172.5 865.5h0M172.5 865.5h0M261.5 853.5h0M188.5 866.5h0M285.5 853.5h0M197.5 866.5h0M172.5 865.5h0M226.5 859.5h0M284.5 852.5h0M155.5 870.5h0M205.5 866.5h0M297.5 853.5h0M292.5 853.5h0M212.5 862.5h0M276.5 853.5h0M200.5 865.5h0M200.5 867.5h0M272.5 853.5h0M176.5 865.5h0M163.5 867.5h0M278.5 852.5h0M282.5 852.5h0M200.5 866.5h0M199.5 866.5h0M230.5 859.5h0M227.5 861.5h0M283.5 853.5h0M216.5 862.5h0M178.5 864.5h0M236.5 858.5h0M160.5 866.5h0M151.5 869.5h0M152.5 870.5h0M215.5 861.5h0M195.5 866.5h0M279.5 853.5h0M198.5 866.5h0M197.5 867.5h0M172.5 865.5h0M207.5 864.5h0M251.5 857.5h0M242.5 857.5h0M241.5 857.5h0M252.5 857.5h0M247.5 856.5h0M298.5 853.5h0M160.5 868.5h0M206.5 865.5h0M158.5 870.5h0M299.5 852.5h0M224.5 861.5h0M140.5 874.5h0M166.5 866.5h0M220.5 861.5h0M236.5 860.5h0M174.5 866.5h0M256.5 855.5h0M215.5 862.5h0M293.5 853.5h0M160.5 868.5h0M277.5 854.5h0M233.5 859.5h0M140.5 874.5h0M240.5 856.5h0M258.5 853.5h0M165.5 867.5h0M203.5 864.5h0M154.5 869.5h0M183.5 865.5h0M173.5 865.5h0M293.5 853.5h0M292.5 851.5h0M226.5 861.5h0M139.5 875.5h0M247.5 857.5h0M269.5 855.5h0M198.5 865.5h0M216.5 864.5h0M160.5 868.5h0M165.5 865.5h0M298.5 852.5h0M226.5 861.5h0M154.5 868.5h0M289.5 853.5h0M161.5 866.5h0M261.5 855.5h0M140.5 874.5h0M273.5 854.5h0M286.5 853.5h0M275.5 853.5h0M232.5 858.5h0M207.5 866.5h0M251.5 855.5h0M272.5 854.5h0M168.5 867.5h0M273.5 853.5h0M274.5 853.5h0M298.5 851.5h0M297.5 852.5h0M258.5 852.5h0M259.5 852.5h0M258.5 854.5h0M258.5 854.5h0M258.5 857.5h0M259.5 856.5h0M268.5 852.5h0M269.5 855.5h0M269.5 853.5h0M269.5 855.5h0M268.5 851.5h0M268.5 856.5h0M279.5 855.5h0M279.5 854.5h0M278.5 853.5h0M278.5 853.5h0M279.5 855.5h0M278.5 854.5h0" style="fill:none;stroke:#4a98ca;stroke-width:3;stroke-linecap:round"/>
</g>
   <g id="patch_13">
    <path d="M 90.5 886.5 
L 90.5 634.5 
" style="fill: none; stroke: #000000; stroke-width: 0.8; stroke-linejoin: miter; stroke-linecap: square"/>
   </g>
   <g id="patch_14">
    <path d="M 765.5 886.5 
L 765.5 634.5 
" style="fill: none; stroke: #000000; stroke-width: 0.8; stroke-linejoin: miter; stroke-linecap: square"/>
   </g>
   <g id="patch_15">
    <path d="M 90.5 886.5 
L 765.5 886.5 
" style="fill: none; stroke: #000000; stroke-width: 0.8; stroke-linejoin: miter; stroke-linecap: square"/>
   </g>
   <g id="patch_16">
    <path d="M 90.5 634.5 
L 765.5 634.5 
" style="fill: none; stroke: #000000; stroke-width: 0.8; stroke-linejoin: miter; stroke-linecap: square"/>
   </g>
   <g id="text_25">
    <text style="font-size: 18px; font-family: 'DejaVu Sans', 'Liberation Sans', sans-serif; text-anchor: middle" x="428" y="628.5" transform="rotate(-0 428 628.5)">Plasma Density</text>
   </g>
  </g>
  <g id="axes_4">
   <g id="patch_17">
    <path d="M 90.5 1159.5 
L 765.5 1159.5 
L 765.5 907.5 
L 90.5 907.5 
z
" style="fill: #ffffff"/>
   </g>
   <g id="matplotlib.axis_7">
    <g id="xtick_40">
     <g id="line2d_117">
      <path d="M 100.5 1159.5 
L 100.5 907.5 
" clip-path="url(#pdf8612255e)" style="fill: none; stroke: #b0b0b0; stroke-width: 0.8; stroke-linecap: square"/>
     </g>
     <g id="line2d_118">
      <g>
       <use href="#m1504cfccaf" x="100.5" y="1159.5" style="stroke: #000000; stroke-width: 0.8"/>
      </g>
     </g>
     <g id="text_26">
      <text style="font-size: 15px; font-family: 'DejaVu Sans', 'Liberation Sans', sans-serif; text-anchor: middle" x="102.7" y="1176.797656" transform="rotate(-0 102.7 1176.797656)">87.3</text>
     </g>
    </g>
    <g id="xtick_41">
     <g id="line2d_119">
      <path d="M 146.5 1159.5 
L 146.5 907.5 
" clip-path="url(#pdf8612255e)" style="fill: none; stroke: #b0b0b0; stroke-width: 0.8; stroke-linecap: square"/>
     </g>
     <g id="line2d_120">
      <g>
       <use href="#m1504cfccaf" x="146.5" y="1159.5" style="stroke: #000000; stroke-width: 0.8"/>
      </g>
     </g>
     <g id="text_27">
      <text style="font-size: 15px; font-family: 'DejaVu Sans', 'Liberation Sans', sans-serif; text-anchor: middle" x="148.7" y="1176.797656" transform="rotate(-0 148.7 1176.797656)">75.0</text>
     </g>
    </g>
    <g id="xtick_42">
     <g id="line2d_121">
      <path d="M 202.5 1159.5 
L 202.5 907.5 
" clip-path="url(#pdf8612255e)" style="fill: none; stroke: #b0b0b0; stroke-width: 0.8; stroke-linecap: square"/>
     </g>
     <g id="line2d_122">
      <g>
       <use href="#m1504cfccaf" x="202.5" y="1159.5" style="stroke: #000000; stroke-width: 0.8"/>
      </g>
     </g>
     <g id="text_28">
      <text style="font-size: 15px; font-family: 'DejaVu Sans', 'Liberation Sans', sans-serif; text-anchor: middle" x="204.7" y="1176.797656" transform="rotate(-0 204.7 1176.797656)">60.0</text>
     </g>
    </g>
    <g id="xtick_43">
     <g id="line2d_123">
      <path d="M 259.5 1159.5 
L 259.5 907.5 
" clip-path="url(#pdf8612255e)" style="fill: none; stroke: #b0b0b0; stroke-width: 0.8; stroke-linecap: square"/>
     </g>
     <g id="line2d_124">
      <g>
       <use href="#m1504cfccaf" x="259.5" y="1159.5" style="stroke: #000000; stroke-width: 0.8"/>
      </g>
     </g>
     <g id="text_29">
      <text style="font-size: 15px; font-family: 'DejaVu Sans', 'Liberation Sans', sans-serif; text-anchor: middle" x="261.7" y="1176.797656" transform="rotate(-0 261.7 1176.797656)">45.0</text>
     </g>
    </g>
    <g id="xtick_44">
     <g id="line2d_125">
      <path d="M 315.5 1159.5 
L 315.5 907.5 
" clip-path="url(#pdf8612255e)" style="fill: none; stroke: #b0b0b0; stroke-width: 0.8; stroke-linecap: square"/>
     </g>
     <g id="line2d_126">
      <g>
       <use href="#m1504cfccaf" x="315.5" y="1159.5" style="stroke: #000000; stroke-width: 0.8"/>
      </g>
     </g>
     <g id="text_30">
      <text style="font-size: 15px; font-family: 'DejaVu Sans', 'Liberation Sans', sans-serif; text-anchor: middle" x="317.7" y="1176.797656" transform="rotate(-0 317.7 1176.797656)">30.0</text>
     </g>
    </g>
    <g id="xtick_45">
     <g id="line2d_127">
      <path d="M 371.5 1159.5 
L 371.5 907.5 
" clip-path="url(#pdf8612255e)" style="fill: none; stroke: #b0b0b0; stroke-width: 0.8; stroke-linecap: square"/>
     </g>
     <g id="line2d_128">
      <g>
       <use href="#m1504cfccaf" x="371.5" y="1159.5" style="stroke: #000000; stroke-width: 0.8"/>
      </g>
     </g>
     <g id="text_31">
      <text style="font-size: 15px; font-family: 'DejaVu Sans', 'Liberation Sans', sans-serif; text-anchor: middle" x="373.7" y="1176.797656" transform="rotate(-0 373.7 1176.797656)">15.0</text>
     </g>
    </g>
    <g id="xtick_46">
     <g id="line2d_129">
      <path d="M 428.5 1159.5 
L 428.5 907.5 
" clip-path="url(#pdf8612255e)" style="fill: none; stroke: #b0b0b0; stroke-width: 0.8; stroke-linecap: square"/>
     </g>
     <g id="line2d_130">
      <g>
       <use href="#m1504cfccaf" x="428.5" y="1159.5" style="stroke: #000000; stroke-width: 0.8"/>
      </g>
     </g>
     <g id="text_32">
      <text style="font-size: 15px; font-family: 'DejaVu Sans', 'Liberation Sans', sans-serif; text-anchor: middle" x="429.2" y="1176.797656" transform="rotate(-0 429.2 1176.797656)">-0.0</text>
     </g>
    </g>
    <g id="xtick_47">
     <g id="line2d_131">
      <path d="M 484.5 1159.5 
L 484.5 907.5 
" clip-path="url(#pdf8612255e)" style="fill: none; stroke: #b0b0b0; stroke-width: 0.8; stroke-linecap: square"/>
     </g>
     <g id="line2d_132">
      <g>
       <use href="#m1504cfccaf" x="484.5" y="1159.5" style="stroke: #000000; stroke-width: 0.8"/>
      </g>
     </g>
     <g id="text_33">
      <text style="font-size: 15px; font-family: 'DejaVu Sans', 'Liberation Sans', sans-serif; text-anchor: middle" x="484.5" y="1176.797656" transform="rotate(-0 484.5 1176.797656)">-15.0</text>
     </g>
    </g>
    <g id="xtick_48">
     <g id="line2d_133">
      <path d="M 540.5 1159.5 
L 540.5 907.5 
" clip-path="url(#pdf8612255e)" style="fill: none; stroke: #b0b0b0; stroke-width: 0.8; stroke-linecap: square"/>
     </g>
     <g id="line2d_134">
      <g>
       <use href="#m1504cfccaf" x="540.5" y="1159.5" style="stroke: #000000; stroke-width: 0.8"/>
      </g>
     </g>
     <g id="text_34">
      <text style="font-size: 15px; font-family: 'DejaVu Sans', 'Liberation Sans', sans-serif; text-anchor: middle" x="540.5" y="1176.797656" transform="rotate(-0 540.5 1176.797656)">-30.0</text>
     </g>
    </g>
    <g id="xtick_49">
     <g id="line2d_135">
      <path d="M 596.5 1159.5 
L 596.5 907.5 
" clip-path="url(#pdf8612255e)" style="fill: none; stroke: #b0b0b0; stroke-width: 0.8; stroke-linecap: square"/>
     </g>
     <g id="line2d_136">
      <g>
       <use href="#m1504cfccaf" x="596.5" y="1159.5" style="stroke: #000000; stroke-width: 0.8"/>
      </g>
     </g>
     <g id="text_35">
      <text style="font-size: 15px; font-family: 'DejaVu Sans', 'Liberation Sans', sans-serif; text-anchor: middle" x="596.5" y="1176.797656" transform="rotate(-0 596.5 1176.797656)">-45.0</text>
     </g>
    </g>
    <g id="xtick_50">
     <g id="line2d_137">
      <path d="M 652.5 1159.5 
L 652.5 907.5 
" clip-path="url(#pdf8612255e)" style="fill: none; stroke: #b0b0b0; stroke-width: 0.8; stroke-linecap: square"/>
     </g>
     <g id="line2d_138">
      <g>
       <use href="#m1504cfccaf" x="652.5" y="1159.5" style="stroke: #000000; stroke-width: 0.8"/>
      </g>
     </g>
     <g id="text_36">
      <text style="font-size: 15px; font-family: 'DejaVu Sans', 'Liberation Sans', sans-serif; text-anchor: middle" x="652.5" y="1176.797656" transform="rotate(-0 652.5 1176.797656)">-60.0</text>
     </g>
    </g>
    <g id="xtick_51">
     <g id="line2d_139">
      <path d="M 709.5 1159.5 
L 709.5 907.5 
" clip-path="url(#pdf8612255e)" style="fill: none; stroke: #b0b0b0; stroke-width: 0.8; stroke-linecap: square"/>
     </g>
     <g id="line2d_140">
      <g>
       <use href="#m1504cfccaf" x="709.5" y="1159.5" style="stroke: #000000; stroke-width: 0.8"/>
      </g>
     </g>
     <g id="text_37">
      <text style="font-size: 15px; font-family: 'DejaVu Sans', 'Liberation Sans', sans-serif; text-anchor: middle" x="709.5" y="1176.797656" transform="rotate(-0 709.5 1176.797656)">-75.0</text>
     </g>
    </g>
    <g id="xtick_52">
     <g id="line2d_141">
      <path d="M 755.5 1159.5 
L 755.5 907.5 
" clip-path="url(#pdf8612255e)" style="fill: none; stroke: #b0b0b0; stroke-width: 0.8; stroke-linecap: square"/>
     </g>
     <g id="line2d_142">
      <g>
       <use href="#m1504cfccaf" x="755.5" y="1159.5" style="stroke: #000000; stroke-width: 0.8"/>
      </g>
     </g>
     <g id="text_38">
      <text style="font-size: 15px; font-family: 'DejaVu Sans', 'Liberation Sans', sans-serif; text-anchor: middle" x="755.5" y="1176.797656" transform="rotate(-0 755.5 1176.797656)">-87.3</text>
     </g>
    </g>
   </g>
   <g id="matplotlib.axis_8">
    <g id="ytick_20">
     <g id="line2d_143">
      <path d="M 90.5 918.5 
L 765.5 918.5 
" clip-path="url(#pdf8612255e)" style="fill: none; stroke: #b0b0b0; stroke-width: 0.8; stroke-linecap: square"/>
     </g>
     <g id="line2d_144">
      <g>
       <use href="#m5d545ce8f8" x="90.5" y="918.5" style="stroke: #000000; stroke-width: 0.8"/>
      </g>
     </g>
     <g id="text_39">
      <text style="font-size: 15px; font-family: 'DejaVu Sans', 'Liberation Sans', sans-serif; text-anchor: end" x="84.3" y="924.198828" transform="rotate(-0 84.3 924.198828)">1.0</text>
     </g>
    </g>
    <g id="ytick_21">
     <g id="line2d_145">
      <path d="M 90.5 1033.5 
L 765.5 1033.5 
" clip-path="url(#pdf8612255e)" style="fill: none; stroke: #b0b0b0; stroke-width: 0.8; stroke-linecap: square"/>
     </g>
     <g id="line2d_146">
      <g>
       <use href="#m5d545ce8f8" x="90.5" y="1033.5" style="stroke: #000000; stroke-width: 0.8"/>
      </g>
     </g>
     <g id="text_40">
      <text style="font-size: 15px; font-family: 'DejaVu Sans', 'Liberation Sans', sans-serif; text-anchor: end" x="84.3" y="1039.198828" transform="rotate(-0 84.3 1039.198828)">0.0</text>
     </g>
    </g>
    <g id="ytick_22">
     <g id="line2d_147">
      <path d="M 90.5 1148.5 
L 765.5 1148.5 
" clip-path="url(#pdf8612255e)" style="fill: none; stroke: #b0b0b0; stroke-width: 0.8; stroke-linecap: square"/>
     </g>
     <g id="line2d_148">
      <g>
       <use href="#m5d545ce8f8" x="90.5" y="1148.5" style="stroke: #000000; stroke-width: 0.8"/>
      </g>
     </g>
     <g id="text_41">
      <text style="font-size: 15px; font-family: 'DejaVu Sans', 'Liberation Sans', sans-serif; text-anchor: end" x="84.3" y="1154.198828" transform="rotate(-0 84.3 1154.198828)">-1.0</text>
     </g>
    </g>
    <g id="text_42">
     <text style="font-size: 15px; font-family: 'DejaVu Sans', 'Liberation Sans', sans-serif; text-anchor: middle" x="49.914062" y="1034.7" transform="rotate(-90 49.914062 1034.7)">IBI</text>
    </g>
   </g>
   <g id="patch_18">
    <path d="M 90.5 1159.5 
L 90.5 907.5 
" style="fill: none; stroke: #000000; stroke-width: 0.8; stroke-linejoin: miter; stroke-linecap: square"/>
   </g>
   <g id="patch_19">
    <path d="M 765.5 1159.5 
L 765.5 907.5 
" style="fill: none; stroke: #000000; stroke-width: 0.8; stroke-linejoin: miter; stroke-linecap: square"/>
   </g>
   <g id="patch_20">
    <path d="M 90.5 1159.5 
L 765.5 1159.5 
" style="fill: none; stroke: #000000; stroke-width: 0.8; stroke-linejoin: miter; stroke-linecap: square"/>
   </g>
   <g id="patch_21">
    <path d="M 90.5 907.5 
L 765.5 907.5 
" style="fill: none; stroke: #000000; stroke-width: 0.8; stroke-linejoin: miter; stroke-linecap: square"/>
   </g>
   <g id="text_43">
    <text style="font-size: 18px; font-family: 'DejaVu Sans', 'Liberation Sans', sans-serif; text-anchor: middle" x="428" y="901.5" transform="rotate(-0 428 901.5)">Ionospheric Bubble Index</text>
   </g>
  </g>
  <g id="axes_5">
   <g id="matplotlib.axis_9">
    <g id="xtick_53">
     <g id="line2d_149">
      <g>
       <use href="#m1504cfccaf" x="100.5" y="1184.5" style="stroke: #000000; stroke-width: 0.8"/>
      </g>
     </g>
     <g id="text_44">
      <text style="font-size: 15px; font-family: 'DejaVu Sans', 'Liberation Sans', sans-serif; text-anchor: middle" x="100.5" y="1201.797656" transform="rotate(-0 100.5 1201.797656)">82.9</text>
     </g>
    </g>
    <g id="xtick_54">
     <g id="line2d_150">
      <g>
       <use href="#m1504cfccaf" x="146.5" y="1184.5" style="stroke: #000000; stroke-width: 0.8"/>
      </g>
     </g>
     <g id="text_45">
      <text style="font-size: 15px; font-family: 'DejaVu Sans', 'Liberation Sans', sans-serif; text-anchor: middle" x="146.5" y="1201.797656" transform="rotate(-0 146.5 1201.797656)">70.9</text>
     </g>
    </g>
    <g id="xtick_55">
     <g id="line2d_151">
      <g>
       <use href="#m1504cfccaf" x="202.5" y="1184.5" style="stroke: #000000; stroke-width: 0.8"/>
      </g>
     </g>
     <g id="text_46">
      <text style="font-size: 15px; font-family: 'DejaVu Sans', 'Liberation Sans', sans-serif; text-anchor: middle" x="202.5" y="1201.797656" transform="rotate(-0 202.5 1201.797656)">55.9</text>
     </g>
    </g>
    <g id="xtick_56">
     <g id="line2d_152">
      <g>
       <use href="#m1504cfccaf" x="259.5" y="1184.5" style="stroke: #000000; stroke-width: 0.8"/>
      </g>
     </g>
     <g id="text_47">
      <text style="font-size: 15px; font-family: 'DejaVu Sans', 'Liberation Sans', sans-serif; text-anchor: middle" x="259.5" y="1201.797656" transform="rotate(-0 259.5 1201.797656)">40.8</text>
     </g>
    </g>
    <g id="xtick_57">
     <g id="line2d_153">
      <g>
       <use href="#m1504cfccaf" x="315.5" y="1184.5" style="stroke: #000000; stroke-width: 0.8"/>
      </g>
     </g>
     <g id="text_48">
      <text style="font-size: 15px; font-family: 'DejaVu Sans', 'Liberation Sans', sans-serif; text-anchor: middle" x="315.5" y="1201.797656" transform="rotate(-0 315.5 1201.797656)">26.4</text>
     </g>
    </g>
    <g id="xtick_58">
     <g id="line2d_154">
      <g>
       <use href="#m1504cfccaf" x="371.5" y="1184.5" style="stroke: #000000; stroke-width: 0.8"/>
      </g>
     </g>
     <g id="text_49">
      <text style="font-size: 15px; font-family: 'DejaVu Sans', 'Liberation Sans', sans-serif; text-anchor: middle" x="371.5" y="1201.797656" transform="rotate(-0 371.5 1201.797656)">14.7</text>
     </g>
    </g>
    <g id="xtick_59">
     <g id="line2d_155">
      <g>
       <use href="#m1504cfccaf" x="428.5" y="1184.5" style="stroke: #000000; stroke-width: 0.8"/>
      </g>
     </g>
     <g id="text_50">
      <text style="font-size: 15px; font-family: 'DejaVu Sans', 'Liberation Sans', sans-serif; text-anchor: middle" x="428.5" y="1201.797656" transform="rotate(-0 428.5 1201.797656)">-14.8</text>
     </g>
    </g>
    <g id="xtick_60">
     <g id="line2d_156">
      <g>
       <use href="#m1504cfccaf" x="484.5" y="1184.5" style="stroke: #000000; stroke-width: 0.8"/>
      </g>
     </g>
     <g id="text_51">
      <text style="font-size: 15px; font-family: 'DejaVu Sans', 'Liberation Sans', sans-serif; text-anchor: middle" x="484.5" y="1201.797656" transform="rotate(-0 484.5 1201.797656)">-27.0</text>
     </g>
    </g>
    <g id="xtick_61">
     <g id="line2d_157">
      <g>
       <use href="#m1504cfccaf" x="540.5" y="1184.5" style="stroke: #000000; stroke-width: 0.8"/>
      </g>
     </g>
     <g id="text_52">
      <text style="font-size: 15px; font-family: 'DejaVu Sans', 'Liberation Sans', sans-serif; text-anchor: middle" x="540.5" y="1201.797656" transform="rotate(-0 540.5 1201.797656)">-42.1</text>
     </g>
    </g>
    <g id="xtick_62">
     <g id="line2d_158">
      <g>
       <use href="#m1504cfccaf" x="596.5" y="1184.5" style="stroke: #000000; stroke-width: 0.8"/>
      </g>
     </g>
     <g id="text_53">
      <text style="font-size: 15px; font-family: 'DejaVu Sans', 'Liberation Sans', sans-serif; text-anchor: middle" x="596.5" y="1201.797656" transform="rotate(-0 596.5 1201.797656)">-58.1</text>
     </g>
    </g>
    <g id="xtick_63">
     <g id="line2d_159">
      <g>
       <use href="#m1504cfccaf" x="652.5" y="1184.5" style="stroke: #000000; stroke-width: 0.8"/>
      </g>
     </g>
     <g id="text_54">
      <text style="font-size: 15px; font-family: 'DejaVu Sans', 'Liberation Sans', sans-serif; text-anchor: middle" x="652.5" y="1201.797656" transform="rotate(-0 652.5 1201.797656)">-74.1</text>
     </g>
    </g>
    <g id="xtick_64">
     <g id="line2d_160">
      <g>
       <use href="#m1504cfccaf" x="709.5" y="1184.5" style="stroke: #000000; stroke-width: 0.8"/>
      </g>
     </g>
     <g id="text_55">
      <text style="font-size: 15px; font-family: 'DejaVu Sans', 'Liberation Sans', sans-serif; text-anchor: middle" x="709.5" y="1201.797656" transform="rotate(-0 709.5 1201.797656)">-86.7</text>
     </g>
    </g>
    <g id="xtick_65">
     <g id="line2d_161">
      <g>
       <use href="#m1504cfccaf" x="755.5" y="1184.5" style="stroke: #000000; stroke-width: 0.8"/>
      </g>
     </g>
     <g id="text_56">
      <text style="font-size: 15px; font-family: 'DejaVu Sans', 'Liberation Sans', sans-serif; text-anchor: middle" x="755.5" y="1201.797656" transform="rotate(-0 755.5 1201.797656)">-75.0</text>
     </g>
    </g>
   </g>
   <g id="patch_22">
    <path d="M 90.5 1159.5 
L 90.5 907.5 
" style="fill: none; stroke: #000000; stroke-width: 0.8; stroke-linejoin: miter; stroke-linecap: square"/>
   </g>
   <g id="patch_23">
    <path d="M 765.5 1159.5 
L 765.5 907.5 
" style="fill: none; stroke: #000000; stroke-width: 0.8; stroke-linejoin: miter; stroke-linecap: square"/>
   </g>
   <g id="patch_24">
    <path d="M 90.5 1184.5 
L 765.5 1184.5 
" style="fill: none; stroke: #000000; stroke-width: 0.8; stroke-linejoin: miter; stroke-linecap: square"/>
   </g>
   <g id="patch_25">
    <path d="M 90.5 907.5 
L 765.5 907.5 
" style="fill: none; stroke: #000000; stroke-width: 0.8; stroke-linejoin: miter; stroke-linecap: square"/>
   </g>
  </g>
  <g id="axes_6">
   <g id="matplotlib.axis_10">
    <g id="xtick_66">
     <g id="line2d_162">
      <g>
       <use href="#m1504cfccaf" x="100.5" y="1210.5" style="stroke: #000000; stroke-width: 0.8"/>
      </g>
     </g>
     <g id="text_57">
      <text style="font-size: 15px; font-family: 'DejaVu Sans', 'Liberation Sans', sans-serif; text-anchor: middle" x="102.7" y="1227.797656" transform="rotate(-0 102.7 1227.797656)">6.8</text>
     </g>
    </g>
    <g id="xtick_67">
     <g id="line2d_163">
      <g>
       <use href="#m1504cfccaf" x="146.5" y="1210.5" style="stroke: #000000; stroke-width: 0.8"/>
      </g>
     </g>
     <g id="text_58">
      <text style="font-size: 15px; font-family: 'DejaVu Sans', 'Liberation Sans', sans-serif; text-anchor: middle" x="148.7" y="1227.797656" transform="rotate(-0 148.7 1227.797656)">9.7</text>
     </g>
    </g>
    <g id="xtick_68">
     <g id="line2d_164">
      <g>
       <use href="#m1504cfccaf" x="202.5" y="1210.5" style="stroke: #000000; stroke-width: 0.8"/>
      </g>
     </g>
     <g id="text_59">
      <text style="font-size: 15px; font-family: 'DejaVu Sans', 'Liberation Sans', sans-serif; text-anchor: middle" x="204" y="1227.797656" transform="rotate(-0 204 1227.797656)">10.3</text>
     </g>
    </g>
    <g id="xtick_69">
     <g id="line2d_165">
      <g>
       <use href="#m1504cfccaf" x="259.5" y="1210.5" style="stroke: #000000; stroke-width: 0.8"/>
      </g>
     </g>
     <g id="text_60">
      <text style="font-size: 15px; font-family: 'DejaVu Sans', 'Liberation Sans', sans-serif; text-anchor: middle" x="260.4" y="1227.797656" transform="rotate(-0 260.4 1227.797656)">10.5</text>
     </g>
    </g>
    <g id="xtick_70">
     <g id="line2d_166">
      <g>
       <use href="#m1504cfccaf" x="315.5" y="1210.5" style="stroke: #000000; stroke-width: 0.8"/>
      </g>
     </g>
     <g id="text_61">
      <text style="font-size: 15px; font-family: 'DejaVu Sans', 'Liberation Sans', sans-serif; text-anchor: middle" x="315.9" y="1227.797656" transform="rotate(-0 315.9 1227.797656)">10.5</text>
     </g>
    </g>
    <g id="xtick_71">
     <g id="line2d_167">
      <g>
       <use href="#m1504cfccaf" x="371.5" y="1210.5" style="stroke: #000000; stroke-width: 0.8"/>
      </g>
     </g>
     <g id="text_62">
      <text style="font-size: 15px; font-family: 'DejaVu Sans', 'Liberation Sans', sans-serif; text-anchor: middle" x="371.9" y="1227.797656" transform="rotate(-0 371.9 1227.797656)">10.6</text>
     </g>
    </g>
    <g id="xtick_72">
     <g id="line2d_168">
      <g>
       <use href="#m1504cfccaf" x="428.5" y="1210.5" style="stroke: #000000; stroke-width: 0.8"/>
      </g>
     </g>
     <g id="text_63">
      <text style="font-size: 15px; font-family: 'DejaVu Sans', 'Liberation Sans', sans-serif; text-anchor: middle" x="428.9" y="1227.797656" transform="rotate(-0 428.9 1227.797656)">10.6</text>
     </g>
    </g>
    <g id="xtick_73">
     <g id="line2d_169">
      <g>
       <use href="#m1504cfccaf" x="484.5" y="1210.5" style="stroke: #000000; stroke-width: 0.8"/>
      </g>
     </g>
     <g id="text_64">
      <text style="font-size: 15px; font-family: 'DejaVu Sans', 'Liberation Sans', sans-serif; text-anchor: middle" x="484.9" y="1227.797656" transform="rotate(-0 484.9 1227.797656)">10.7</text>
     </g>
    </g>
    <g id="xtick_74">
     <g id="line2d_170">
      <g>
       <use href="#m1504cfccaf" x="540.5" y="1210.5" style="stroke: #000000; stroke-width: 0.8"/>
      </g>
     </g>
     <g id="text_65">
      <text style="font-size: 15px; font-family: 'DejaVu Sans', 'Liberation Sans', sans-serif; text-anchor: middle" x="540.9" y="1227.797656" transform="rotate(-0 540.9 1227.797656)">10.8</text>
     </g>
    </g>
    <g id="xtick_75">
     <g id="line2d_171">
      <g>
       <use href="#m1504cfccaf" x="596.5" y="1210.5" style="stroke: #000000; stroke-width: 0.8"/>
      </g>
     </g>
     <g id="text_66">
      <text style="font-size: 15px; font-family: 'DejaVu Sans', 'Liberation Sans', sans-serif; text-anchor: middle" x="596.9" y="1227.797656" transform="rotate(-0 596.9 1227.797656)">11.0</text>
     </g>
    </g>
    <g id="xtick_76">
     <g id="line2d_172">
      <g>
       <use href="#m1504cfccaf" x="652.5" y="1210.5" style="stroke: #000000; stroke-width: 0.8"/>
      </g>
     </g>
     <g id="text_67">
      <text style="font-size: 15px; font-family: 'DejaVu Sans', 'Liberation Sans', sans-serif; text-anchor: middle" x="652.9" y="1227.797656" transform="rotate(-0 652.9 1227.797656)">11.5</text>
     </g>
    </g>
    <g id="xtick_77">
     <g id="line2d_173">
      <g>
       <use href="#m1504cfccaf" x="709.5" y="1210.5" style="stroke: #000000; stroke-width: 0.8"/>
      </g>
     </g>
     <g id="text_68">
      <text style="font-size: 15px; font-family: 'DejaVu Sans', 'Liberation Sans', sans-serif; text-anchor: middle" x="709.5" y="1227.797656" transform="rotate(-0 709.5 1227.797656)">16.9</text>
     </g>
    </g>
    <g id="xtick_78">
     <g id="line2d_174">
      <g>
       <use href="#m1504cfccaf" x="755.5" y="1210.5" style="stroke: #000000; stroke-width: 0.8"/>
      </g>
     </g>
     <g id="text_69">
      <text style="font-size: 15px; font-family: 'DejaVu Sans', 'Liberation Sans', sans-serif; text-anchor: middle" x="755.5" y="1227.797656" transform="rotate(-0 755.5 1227.797656)">21.9</text>
     </g>
    </g>
   </g>
   <g id="patch_26">
    <path d="M 90.5 1159.5 
L 90.5 907.5 
" style="fill: none; stroke: #000000; stroke-width: 0.8; stroke-linejoin: miter; stroke-linecap: square"/>
   </g>
   <g id="patch_27">
    <path d="M 765.5 1159.5 
L 765.5 907.5 
" style="fill: none; stroke: #000000; stroke-width: 0.8; stroke-linejoin: miter; stroke-linecap: square"/>
   </g>
   <g id="patch_28">
    <path d="M 90.5 1210.5 
L 765.5 1210.5 
" style="fill: none; stroke: #000000; stroke-width: 0.8; stroke-linejoin: miter; stroke-linecap: square"/>
   </g>
   <g id="patch_29">
    <path d="M 90.5 907.5 
L 765.5 907.5 
" style="fill: none; stroke: #000000; stroke-width: 0.8; stroke-linejoin: miter; stroke-linecap: square"/>
   </g>
  </g>
  <g id="axes_7">
   <g id="matplotlib.axis_11">
    <g id="xtick_79">
     <g id="line2d_175">
      <g>
       <use href="#m1504cfccaf" x="100.5" y="1235.5" style="stroke: #000000; stroke-width: 0.8"/>
      </g>
     </g>
     <g id="text_70">
      <text style="font-size: 15px; font-family: 'DejaVu Sans', 'Liberation Sans', sans-serif; text-anchor: middle" x="100.5" y="1252.797656" transform="rotate(-0 100.5 1252.797656)">01:48</text>
     </g>
    </g>
    <g id="xtick_80">
     <g id="line2d_176">
      <g>
       <use href="#m1504cfccaf" x="146.5" y="1235.5" style="stroke: #000000; stroke-width: 0.8"/>
      </g>
     </g>
     <g id="text_71">
      <text style="font-size: 15px; font-family: 'DejaVu Sans', 'Liberation Sans', sans-serif; text-anchor: middle" x="146.5" y="1252.797656" transform="rotate(-0 146.5 1252.797656)">01:51</text>
     </g>
    </g>
    <g id="xtick_81">
     <g id="line2d_177">
      <g>
       <use href="#m1504cfccaf" x="202.5" y="1235.5" style="stroke: #000000; stroke-width: 0.8"/>
      </g>
     </g>
     <g id="text_72">
      <text style="font-size: 15px; font-family: 'DejaVu Sans', 'Liberation Sans', sans-serif; text-anchor: middle" x="202.5" y="1252.797656" transform="rotate(-0 202.5 1252.797656)">01:55</text>
     </g>
    </g>
    <g id="xtick_82">
     <g id="line2d_178">
      <g>
       <use href="#m1504cfccaf" x="259.5" y="1235.5" style="stroke: #000000; stroke-width: 0.8"/>
      </g>
     </g>
     <g id="text_73">
      <text style="font-size: 15px; font-family: 'DejaVu Sans', 'Liberation Sans', sans-serif; text-anchor: middle" x="259.5" y="1252.797656" transform="rotate(-0 259.5 1252.797656)">01:59</text>
     </g>
    </g>
    <g id="xtick_83">
     <g id="line2d_179">
      <g>
       <use href="#m1504cfccaf" x="315.5" y="1235.5" style="stroke: #000000; stroke-width: 0.8"/>
      </g>
     </g>
     <g id="text_74">
      <text style="font-size: 15px; font-family: 'DejaVu Sans', 'Liberation Sans', sans-serif; text-anchor: middle" x="315.5" y="1252.797656" transform="rotate(-0 315.5 1252.797656)">02:03</text>
     </g>
    </g>
    <g id="xtick_84">
     <g id="line2d_180">
      <g>
       <use href="#m1504cfccaf" x="371.5" y="1235.5" style="stroke: #000000; stroke-width: 0.8"/>
      </g>
     </g>
     <g id="text_75">
      <text style="font-size: 15px; font-family: 'DejaVu Sans', 'Liberation Sans', sans-serif; text-anchor: middle" x="371.5" y="1252.797656" transform="rotate(-0 371.5 1252.797656)">02:07</text>
     </g>
    </g>
    <g id="xtick_85">
     <g id="line2d_181">
      <g>
       <use href="#m1504cfccaf" x="428.5" y="1235.5" style="stroke: #000000; stroke-width: 0.8"/>
      </g>
     </g>
     <g id="text_76">
      <text style="font-size: 15px; font-family: 'DejaVu Sans', 'Liberation Sans', sans-serif; text-anchor: middle" x="428.5" y="1252.797656" transform="rotate(-0 428.5 1252.797656)">02:11</text>
     </g>
    </g>
    <g id="xtick_86">
     <g id="line2d_182">
      <g>
       <use href="#m1504cfccaf" x="484.5" y="1235.5" style="stroke: #000000; stroke-width: 0.8"/>
      </g>
     </g>
     <g id="text_77">
      <text style="font-size: 15px; font-family: 'DejaVu Sans', 'Liberation Sans', sans-serif; text-anchor: middle" x="484.5" y="1252.797656" transform="rotate(-0 484.5 1252.797656)">02:15</text>
     </g>
    </g>
    <g id="xtick_87">
     <g id="line2d_183">
      <g>
       <use href="#m1504cfccaf" x="540.5" y="1235.5" style="stroke: #000000; stroke-width: 0.8"/>
      </g>
     </g>
     <g id="text_78">
      <text style="font-size: 15px; font-family: 'DejaVu Sans', 'Liberation Sans', sans-serif; text-anchor: middle" x="540.5" y="1252.797656" transform="rotate(-0 540.5 1252.797656)">02:19</text>
     </g>
    </g>
    <g id="xtick_88">
     <g id="line2d_184">
      <g>
       <use href="#m1504cfccaf" x="596.5" y="1235.5" style="stroke: #000000; stroke-width: 0.8"/>
      </g>
     </g>
     <g id="text_79">
      <text style="font-size: 15px; font-family: 'DejaVu Sans', 'Liberation Sans', sans-serif; text-anchor: middle" x="596.5" y="1252.797656" transform="rotate(-0 596.5 1252.797656)">02:23</text>
     </g>
    </g>
    <g id="xtick_89">
     <g id="line2d_185">
      <g>
       <use href="#m1504cfccaf" x="652.5" y="1235.5" style="stroke: #000000; stroke-width: 0.8"/>
      </g>
     </g>
     <g id="text_80">
      <text style="font-size: 15px; font-family: 'DejaVu Sans', 'Liberation Sans', sans-serif; text-anchor: middle" x="652.5" y="1252.797656" transform="rotate(-0 652.5 1252.797656)">02:26</text>
     </g>
    </g>
    <g id="xtick_90">
     <g id="line2d_186">
      <g>
       <use href="#m1504cfccaf" x="709.5" y="1235.5" style="stroke: #000000; stroke-width: 0.8"/>
      </g>
     </g>
     <g id="text_81">
      <text style="font-size: 15px; font-family: 'DejaVu Sans', 'Liberation Sans', sans-serif; text-anchor: middle" x="709.5" y="1252.797656" transform="rotate(-0 709.5 1252.797656)">02:30</text>
     </g>
    </g>
    <g id="xtick_91">
     <g id="line2d_187">
      <g>
       <use href="#m1504cfccaf" x="755.5" y="1235.5" style="stroke: #000000; stroke-width: 0.8"/>
      </g>
     </g>
     <g id="text_82">
      <text style="font-size: 15px; font-family: 'DejaVu Sans', 'Liberation Sans', sans-serif; text-anchor: middle" x="755.5" y="1252.797656" transform="rotate(-0 755.5 1252.797656)">02:34</text>
     </g>
    </g>
   </g>
   <g id="patch_30">
    <path d="M 90.5 1159.5 
L 90.5 907.5 
" style="fill: none; stroke: #000000; stroke-width: 0.8; stroke-linejoin: miter; stroke-linecap: square"/>
   </g>
   <g id="patch_31">
    <path d="M 765.5 1159.5 
L 765.5 907.5 
" style="fill: none; stroke: #000000; stroke-width: 0.8; stroke-linejoin: miter; stroke-linecap: square"/>
   </g>
   <g id="patch_32">
    <path d="M 90.5 1235.5 
L 765.5 1235.5 
" style="fill: none; stroke: #000000; stroke-width: 0.8; stroke-linejoin: miter; stroke-linecap: square"/>
   </g>
   <g id="patch_33">
    <path d="M 90.5 907.5 
L 765.5 907.5 
" style="fill: none; stroke: #000000; stroke-width: 0.8; stroke-linejoin: miter; stroke-linecap: square"/>
   </g>
  </g>
  <g id="text_83">
   <text style="font-size: 15px; font-family: 'DejaVu Sans', 'Liberation Sans', sans-serif; text-anchor: start" x="786.7" y="1179.1" transform="rotate(-0 786.7 1179.1)">LAT [°]</text>
  </g>
  <g id="text_84">
   <text style="font-size: 15px; font-family: 'DejaVu Sans', 'Liberation Sans', sans-serif; text-anchor: start" x="786.7" y="1204" transform="rotate(-0 786.7 1204)">MLAT [°]</text>
  </g>
  <g id="text_85">
   <text style="font-size: 15px; font-family: 'DejaVu Sans', 'Liberation Sans', sans-serif; text-anchor: start" x="786.7" y="1228.1" transform="rotate(-0 786.7 1228.1)">MLT [h]</text>
  </g>
  <g id="text_86">
   
   <g transform="translate(786.7 1253)">
    <text><tspan x="0" y="-0.609375" style="font-size: 15px; font-family: 'DejaVu Sans', 'Liberation Sans', sans-serif">UTC </tspan><tspan x="35.236" y="-0.609375" style="font-size: 15px; font-family: 'DejaVu Sans', 'Liberation Sans', sans-serif">[HH</tspan><tspan x="66.069" y="-0.609375" style="font-size: 15px; font-family: 'DejaVu Sans', 'Liberation Sans', sans-serif">:</tspan><tspan x="74.045" y="-0.609375" style="font-size: 15px; font-family: 'DejaVu Sans', 'Liberation Sans', sans-serif">MM]</tspan></text>
   </g>
  </g>
  <g id="text_87">
   
   <g transform="translate(161.1 41.8)">
    <text><tspan x="0" y="-0.796875" style="font-size: 20px; font-family: 'DejaVu Sans', 'Liberation Sans', sans-serif">Swarm </tspan><tspan x="75.508" y="-0.796875" style="font-size: 20px; font-family: 'DejaVu Sans', 'Liberation Sans', sans-serif">C, </tspan><tspan x="106.221" y="-0.796875" style="font-size: 20px; font-family: 'DejaVu Sans', 'Liberation Sans', sans-serif">2026</tspan><tspan x="161.015" y="-0.796875" style="font-size: 20px; font-family: 'DejaVu Sans', 'Liberation Sans', sans-serif">−</tspan><tspan x="181.67" y="-0.796875" style="font-size: 20px; font-family: 'DejaVu Sans', 'Liberation Sans', sans-serif">01</tspan><tspan x="211.015" y="-0.796875" style="font-size: 20px; font-family: 'DejaVu Sans', 'Liberation Sans', sans-serif">−</tspan><tspan x="231.67" y="-0.796875" style="font-size: 20px; font-family: 'DejaVu Sans', 'Liberation Sans', sans-serif">24, </tspan><tspan x="273.867" y="-0.796875" style="font-size: 20px; font-family: 'DejaVu Sans', 'Liberation Sans', sans-serif">ROT </tspan><tspan x="322.217" y="-0.796875" style="font-size: 20px; font-family: 'DejaVu Sans', 'Liberation Sans', sans-serif">southward, </tspan><tspan x="444.345" y="-0.796875" style="font-size: 20px; font-family: 'DejaVu Sans', 'Liberation Sans', sans-serif">orbit </tspan><tspan x="497.392" y="-0.796875" style="font-size: 20px; font-family: 'DejaVu Sans', 'Liberation Sans', sans-serif">#68395</tspan></text>
   </g>
  </g>
  <g id="text_88">
   
   <g transform="translate(126.7 66.7)">
    <text><tspan x="0" y="-0.796875" style="font-size: 20px; font-family: 'DejaVu Sans', 'Liberation Sans', sans-serif">Equator</tspan><tspan x="82.461" y="-0.796875" style="font-size: 20px; font-family: 'DejaVu Sans', 'Liberation Sans', sans-serif">: </tspan><tspan x="99.59" y="-0.796875" style="font-size: 20px; font-family: 'DejaVu Sans', 'Liberation Sans', sans-serif">UTC </tspan><tspan x="146.529" y="-0.796875" style="font-size: 20px; font-family: 'DejaVu Sans', 'Liberation Sans', sans-serif">02</tspan><tspan x="175.875" y="-0.796875" style="font-size: 20px; font-family: 'DejaVu Sans', 'Liberation Sans', sans-serif">:</tspan><tspan x="186.51" y="-0.796875" style="font-size: 20px; font-family: 'DejaVu Sans', 'Liberation Sans', sans-serif">11</tspan><tspan x="215.855" y="-0.796875" style="font-size: 20px; font-family: 'DejaVu Sans', 'Liberation Sans', sans-serif">:</tspan><tspan x="226.49" y="-0.796875" style="font-size: 20px; font-family: 'DejaVu Sans', 'Liberation Sans', sans-serif">21, </tspan><tspan x="268.687" y="-0.796875" style="font-size: 20px; font-family: 'DejaVu Sans', 'Liberation Sans', sans-serif">LT </tspan><tspan x="298.541" y="-0.796875" style="font-size: 20px; font-family: 'DejaVu Sans', 'Liberation Sans', sans-serif">10.99h, </tspan><tspan x="385.22" y="-0.796875" style="font-size: 20px; font-family: 'DejaVu Sans', 'Liberation Sans', sans-serif">Lon </tspan><tspan x="427.769" y="-0.796875" style="font-size: 20px; font-family: 'DejaVu Sans', 'Liberation Sans', sans-serif">131.98°, </tspan><tspan x="524.498" y="-0.796875" style="font-size: 20px; font-family: 'DejaVu Sans', 'Liberation Sans', sans-serif">Alt </tspan><tspan x="558.072" y="-0.796875" style="font-size: 20px; font-family: 'DejaVu Sans', 'Liberation Sans', sans-serif">433.5km</tspan></text>
   </g>
  </g>
 </g>
 <defs>
  <clipPath id="p79d56ae8b9">
   <rect x="90.5" y="88.5" width="675" height="253"/>
  </clipPath>
  <clipPath id="p95ba54a909">
   <rect x="90.5" y="361.5" width="675" height="253"/>
  </clipPath>
  <clipPath id="p09f1e6cd0e">
   <rect x="90.5" y="634.5" width="675" height="252"/>
  </clipPath>
  <clipPath id="pdf8612255e">
   <rect x="90.5" y="907.5" width="675" height="252"/>
  </clipPath>
 </defs>
</svg>

</body></html>
